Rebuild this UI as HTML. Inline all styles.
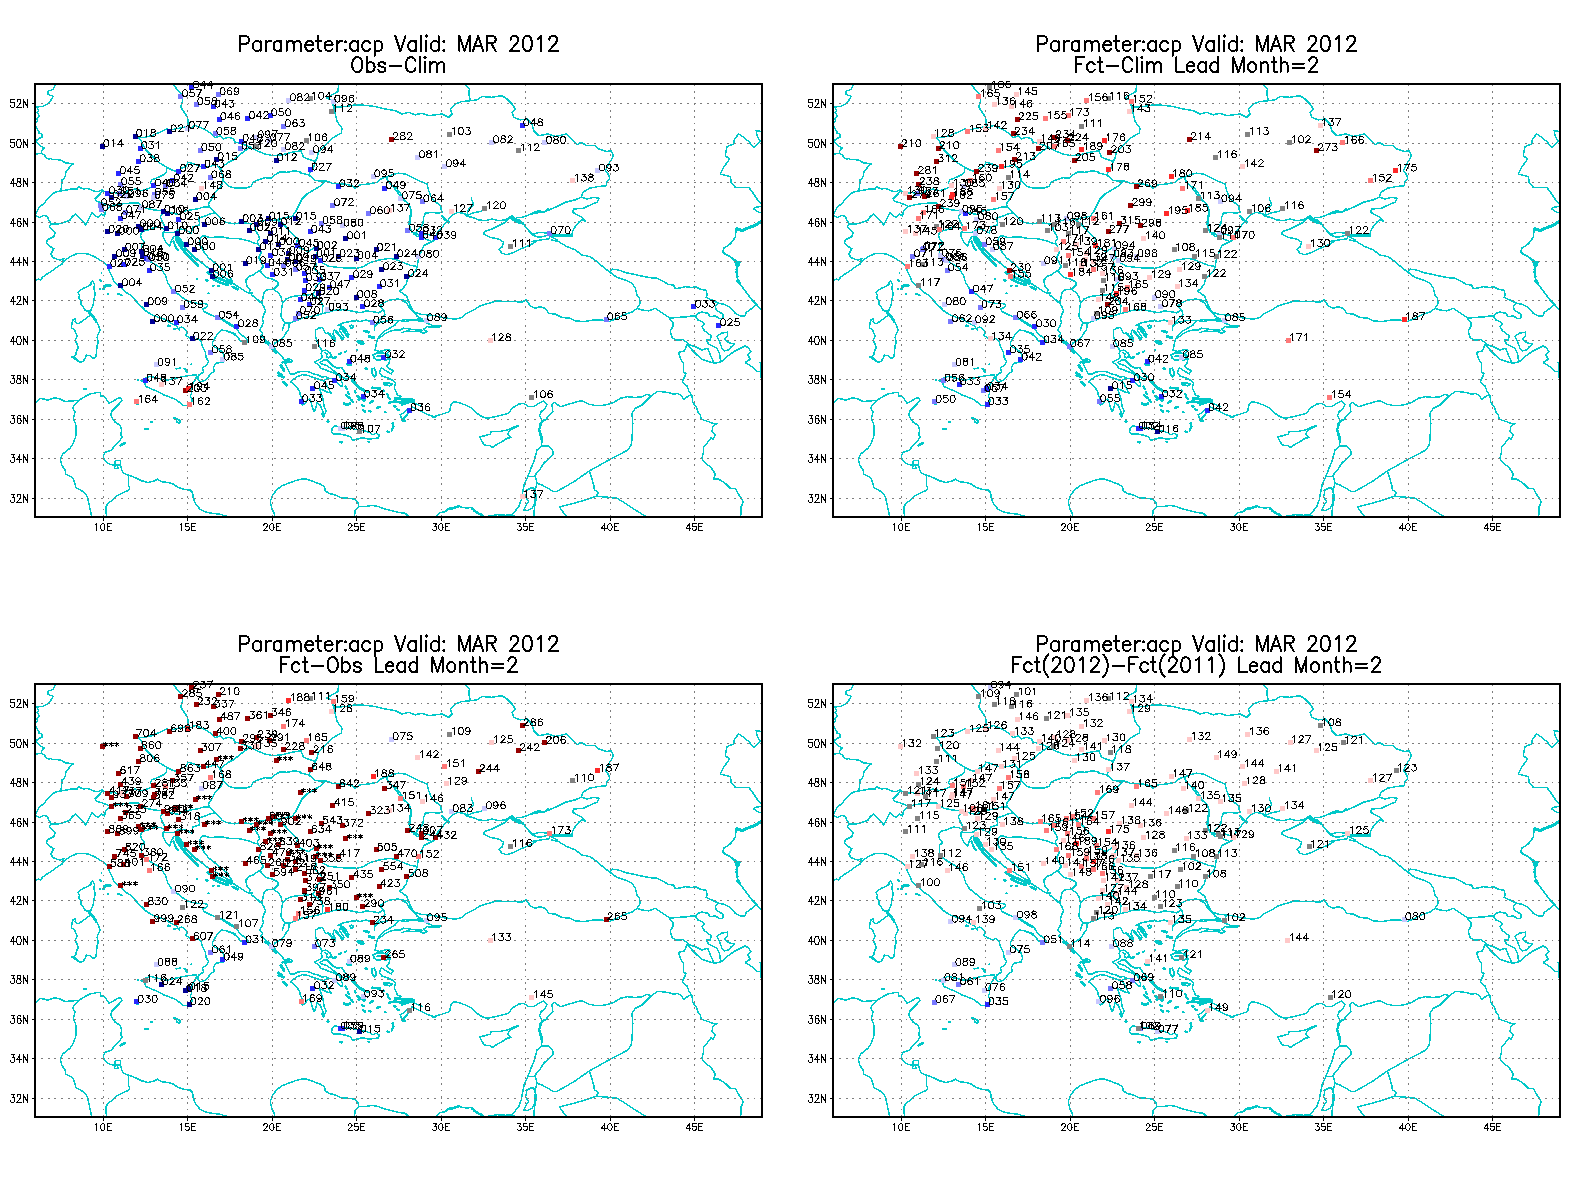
<!DOCTYPE html>
<html><head><meta charset="utf-8"><title>acp</title><style>html,body{margin:0;padding:0;background:#fff}svg{display:block}</style></head><body>
<svg width="1596" height="1200" viewBox="0 0 1596 1200">
<rect width="1596" height="1200" fill="#fff"/>
<defs><clipPath id="cp"><rect x="35" y="84" width="727" height="433"/></clipPath>
<path id="d0" d="M3.1 -7.0L2.1 -6.7L1.4 -5.7L1.0 -4.0L1.0 -3.0L1.4 -1.3L2.1 -0.3L3.1 0.0L3.8 0.0L4.9 -0.3L5.6 -1.3L5.9 -3.0L5.9 -4.0L5.6 -5.7L4.9 -6.7L3.8 -7.0L3.1 -7.0"/><path id="d1" d="M2.1 -5.7L2.8 -6.0L3.8 -7.0L3.8 0.0"/><path id="d2" d="M1.4 -5.4L1.4 -5.7L1.8 -6.4L2.1 -6.7L2.8 -7.0L4.2 -7.0L4.9 -6.7L5.2 -6.4L5.6 -5.7L5.6 -5.0L5.2 -4.4L4.5 -3.4L1.0 0.0L5.9 0.0"/><path id="d3" d="M1.8 -7.0L5.6 -7.0L3.5 -4.4L4.5 -4.4L5.2 -4.0L5.6 -3.7L5.9 -2.7L5.9 -2.0L5.6 -1.0L4.9 -0.3L3.8 0.0L2.8 0.0L1.8 -0.3L1.4 -0.7L1.0 -1.3"/><path id="d4" d="M4.5 -7.0L1.0 -2.3L6.3 -2.3M4.5 -7.0L4.5 0.0"/><path id="d5" d="M5.2 -7.0L1.8 -7.0L1.4 -4.0L1.8 -4.4L2.8 -4.7L3.8 -4.7L4.9 -4.4L5.6 -3.7L5.9 -2.7L5.9 -2.0L5.6 -1.0L4.9 -0.3L3.8 0.0L2.8 0.0L1.8 -0.3L1.4 -0.7L1.0 -1.3"/><path id="d6" d="M5.6 -6.0L5.2 -6.7L4.2 -7.0L3.5 -7.0L2.4 -6.7L1.8 -5.7L1.4 -4.0L1.4 -2.3L1.8 -1.0L2.4 -0.3L3.5 0.0L3.8 0.0L4.9 -0.3L5.6 -1.0L5.9 -2.0L5.9 -2.3L5.6 -3.4L4.9 -4.0L3.8 -4.4L3.5 -4.4L2.4 -4.0L1.8 -3.4L1.4 -2.3"/><path id="d7" d="M5.9 -7.0L2.4 0.0M1.0 -7.0L5.9 -7.0"/><path id="d8" d="M2.8 -7.0L1.8 -6.7L1.4 -6.0L1.4 -5.4L1.8 -4.7L2.4 -4.4L3.8 -4.0L4.9 -3.7L5.6 -3.0L5.9 -2.3L5.9 -1.3L5.6 -0.7L5.2 -0.3L4.2 0.0L2.8 0.0L1.8 -0.3L1.4 -0.7L1.0 -1.3L1.0 -2.3L1.4 -3.0L2.1 -3.7L3.1 -4.0L4.5 -4.4L5.2 -4.7L5.6 -5.4L5.6 -6.0L5.2 -6.7L4.2 -7.0L2.8 -7.0"/><path id="d9" d="M5.6 -4.7L5.2 -3.7L4.5 -3.0L3.5 -2.7L3.1 -2.7L2.1 -3.0L1.4 -3.7L1.0 -4.7L1.0 -5.0L1.4 -6.0L2.1 -6.7L3.1 -7.0L3.5 -7.0L4.5 -6.7L5.2 -6.0L5.6 -4.7L5.6 -3.0L5.2 -1.3L4.5 -0.3L3.5 0.0L2.8 0.0L1.8 -0.3L1.4 -1.0"/><path id="ds" d="M2.8 -4.4L2.8 -0.3M1.0 -3.4L4.5 -1.3M4.5 -3.4L1.0 -1.3"/>
<g id="map"><g clip-path="url(#cp)" fill="none" stroke="#00c8c8" stroke-linejoin="round" stroke-linecap="round" shape-rendering="crispEdges"><path stroke-width="1.5" d="M61.9 180.0L61.6 186.3L60.7 191.0M36.0 213.6L39.4 206.9L44.4 203.2L47.5 198.8L51.3 194.8L55.7 191.9L60.7 191.0L67.0 190.0L72.6 188.8L77.0 189.0L78.9 186.9L83.2 189.0L87.6 188.5L91.4 190.0L95.2 191.5L98.9 191.3L102.0 190.0L105.2 191.9L107.7 193.2M102.7 190.7L100.2 193.8L97.7 196.3L95.2 198.8L96.4 201.3L101.4 202.6L106.4 204.4L110.2 206.6M36.0 215.7L39.4 217.6L43.8 215.5L47.5 216.3L48.8 220.1L51.3 223.6M51.3 223.6L55.1 224.1L60.1 223.6L65.1 222.0L69.5 220.7L72.0 217.0L75.1 214.1L78.9 217.6L83.2 222.0L85.8 224.9L87.6 221.4L90.1 216.3L92.0 212.8L95.2 215.7L98.3 217.6L101.4 213.6L104.5 216.3L105.2 212.0L107.1 209.4L110.2 206.6M51.3 223.6L49.4 226.6L55.1 232.6L53.8 236.6L47.3 239.9L46.5 242.7L50.0 246.4L53.8 248.7L51.0 253.9L52.8 257.7L60.1 260.2L63.8 258.7L61.9 264.2M36.0 280.3L38.8 279.0L40.6 280.3L42.5 277.1L47.5 273.7L52.5 270.5L57.6 266.7L61.9 264.2L65.1 260.2L70.1 256.7L76.4 253.9L80.1 253.3L87.6 253.9L93.9 256.4L100.2 260.2L105.2 263.3L107.7 266.5L109.6 271.5L112.1 276.5L113.3 280.3L116.5 284.0L121.5 287.5L124.6 291.5L127.7 293.4L131.5 295.9L135.3 300.3L139.0 304.1L142.8 307.8L145.9 311.0L151.5 314.7L155.3 316.0L159.1 317.8L164.1 319.1L169.1 322.2L172.8 324.1L176.6 326.0L179.1 330.0M92.6 280.9L94.5 284.0L93.9 289.0L95.2 294.0L93.9 299.0L93.3 304.1L91.4 309.1L89.5 312.8L87.6 311.6L85.1 310.3L83.2 306.6L80.7 304.1L81.4 300.9L78.9 298.4L79.5 295.3L78.2 292.8L80.1 290.3L83.2 288.4L87.6 286.5L90.8 284.6L91.4 281.5L92.6 280.9M173.3 84.8L178.3 90.7L181.7 94.0L182.5 100.7L180.8 107.3L184.2 112.3L187.5 117.3L188.3 124.0L187.5 126.5M187.5 126.5L181.7 127.7L176.7 128.7L171.7 129.8L166.7 129.0L161.7 131.5L157.5 133.2L151.7 135.7L145.0 137.3L138.7 137.7L141.7 141.5L143.3 145.7L145.8 149.8L150.0 154.0L155.0 159.0L160.0 163.2L166.7 167.3L173.3 170.7L178.3 171.5M187.5 126.5L191.7 127.7L195.0 125.3L201.7 128.2L206.7 130.7L211.7 134.0L215.0 137.7L220.0 136.0L223.3 139.0L228.3 137.3L233.3 138.7L235.0 142.0L243.3 144.3L250.0 147.0L256.7 150.7L265.0 154.0L273.3 155.7L281.7 154.8L291.7 152.3L301.0 150.7M178.3 171.5L181.7 168.2L185.8 166.5L188.3 162.3L193.3 163.7L200.0 166.5L205.0 167.3L210.0 166.5L216.7 164.3L220.3 169.8L224.0 165.7L228.3 162.3L233.3 159.8L238.3 156.0L243.3 152.0L250.0 147.0M220.3 169.8L222.0 174.0L223.0 179.3L222.5 184.0L220.0 187.3L215.0 192.3L211.7 199.0L208.3 204.0L210.0 207.3M223.0 180.7L228.3 186.0L235.0 188.2L245.0 188.2L251.3 186.3L253.3 182.0L258.3 179.8L265.0 177.7L271.7 178.2L275.0 174.8L280.0 171.8L286.7 172.3L295.0 170.7L301.0 172.3M108.3 194.0L113.3 192.3L118.3 194.0L125.0 193.2L128.3 190.7L135.0 189.0L141.7 190.7L148.3 188.7L153.7 186.0L150.3 183.2L151.7 179.8L158.3 177.3L163.3 174.8L166.7 172.0L166.7 167.3M276.8 219.5L280.9 218.8L284.7 217.6L292.2 216.3L295.9 211.3L298.4 206.3L302.2 198.8L307.2 193.8L314.7 189.4L321.0 185.6L326.0 181.0M394.9 186.3L399.9 192.5L403.7 198.8L408.7 203.8L411.2 210.1L410.0 216.3L408.7 223.9L411.2 230.1L413.7 233.9L417.5 236.4L422.0 237.0M222.0 220.1L227.0 222.6L234.5 223.9L242.1 222.6L250.8 223.9L254.8 223.2L259.6 221.4L265.9 220.1L272.1 220.7L276.8 219.5M254.8 223.2L255.2 230.1L258.3 235.1L259.6 238.9L257.3 241.4L258.3 244.2M222.0 237.0L229.5 238.3L238.3 238.6L247.1 240.4L253.3 242.7L258.3 244.2L260.2 247.7L261.1 252.7L258.6 257.7L261.1 262.7L263.4 266.5L259.8 270.5L256.1 272.7L252.7 275.2L249.6 276.2L245.8 280.3L247.1 286.5L250.2 290.3L248.6 293.0M259.8 270.5L265.2 277.1L272.1 279.0L277.8 281.8L278.4 284.6L273.5 289.5L266.5 289.8L264.0 292.8L261.8 303.4M273.5 289.5L278.4 292.8L280.9 296.5L282.5 303.4L281.5 310.3L280.9 316.6L284.7 322.9L289.3 323.2M284.7 322.9L283.4 326.6L282.2 330.0M282.5 303.4L285.9 299.0L292.2 296.5L299.7 295.5L307.2 295.0L312.4 294.3L317.2 297.8L321.0 301.6L322.9 305.3L322.3 310.3L322.3 313.6M289.3 323.2L297.2 320.4L302.2 317.8L309.7 316.6L317.2 315.3L322.3 313.6L326.0 312.8L334.8 310.3L342.3 309.7L347.3 310.3L354.8 311.6L359.8 312.8L366.1 311.0L372.4 311.6L378.6 312.8L383.7 309.7L379.6 306.2L383.7 302.8L388.7 300.3L397.4 299.0L403.7 300.3L408.7 300.9M383.7 309.7L384.9 314.1L381.8 317.8L378.0 321.6L374.9 326.0L374.3 330.0M276.8 219.5L282.2 223.2L285.9 226.9L289.7 231.4L293.4 235.1L297.7 238.6L296.6 242.7L296.1 245.7L301.1 248.7L308.7 251.6L313.9 247.7L318.0 250.6L316.6 253.9L317.5 257.3L321.0 262.1L328.5 266.2L341.0 267.7L356.7 268.3L363.6 266.5L369.9 262.7L378.6 260.2L389.9 258.3L397.4 260.2L403.7 262.7L410.0 265.2L417.2 266.5M317.5 257.3L315.4 260.2L316.0 265.2L313.5 267.7L317.2 271.5L321.0 275.2L322.3 279.0L319.7 282.8L316.0 286.5L314.7 291.5L312.4 294.3M422.0 250.2L420.0 255.2L418.1 260.2L417.2 266.5L415.6 270.9L411.8 274.6L407.5 279.0L406.2 284.0L403.1 288.4L399.3 291.3L403.1 293.4L406.8 296.5L408.7 300.9L410.0 305.3L413.7 311.6L417.5 316.6L422.0 319.1M88.9 311.9L92.6 316.3L95.8 320.1L97.7 323.8L98.9 326.9L100.2 330.1L98.3 333.8L97.0 337.6L98.3 341.4L97.0 346.4L96.4 352.6L95.8 357.0L93.3 358.3L90.1 355.8L86.4 355.1L85.1 358.3L83.2 361.4L80.1 362.4L77.6 360.2L75.1 358.9L72.6 357.0L75.7 355.1L76.4 351.4L78.2 347.6L77.0 343.9L75.1 340.1L77.0 336.3L75.7 332.6L74.5 329.4L71.3 328.2L72.0 323.2L73.2 319.4L75.7 318.8L75.1 321.9L78.2 323.8L82.0 321.3L86.4 318.2L89.5 315.7L88.9 311.9M179.1 328.2L181.6 326.9L185.4 329.4L187.3 332.6L185.4 335.1L190.4 338.2L195.4 340.1L197.9 338.2L201.0 341.4L202.9 347.6L205.4 352.6L206.1 357.6L208.6 361.4L206.7 365.2L202.3 367.7L203.5 372.1L199.2 374.6L197.7 377.1L198.2 379.6L200.4 381.5L204.2 380.8L207.9 377.7L210.4 373.9L214.2 371.4L213.6 367.7L215.5 363.3L223.0 362.0L224.5 358.3L223.0 352.6L219.2 349.5L215.5 347.6L212.3 345.1L212.9 341.4L216.7 335.1L220.5 330.7L226.7 330.7L235.0 333.8M144.0 381.5L145.3 378.3L150.3 376.4L155.3 377.7L160.3 378.9L166.6 380.2L172.8 378.9L180.4 377.1L187.9 375.8L192.9 375.2L196.7 374.6L196.0 378.3L193.5 382.7L191.0 387.7L191.6 392.7L190.4 396.5L192.3 400.3L190.4 404.0L188.5 405.9L182.9 405.3L179.1 402.1L174.7 399.0L169.7 397.1L164.1 395.0L157.8 391.5L151.5 389.0L145.9 386.5L144.0 381.5M173.5 417.8L176.6 418.4L180.4 420.9L179.7 423.4L177.2 422.2L176.0 419.7L173.5 417.8M36.0 402.1L40.0 398.4L43.8 399.0L47.5 400.3L55.1 397.7L60.1 399.0L65.1 401.5L72.6 400.9L78.9 400.3L85.1 396.5L90.1 394.0L96.4 392.7L100.2 392.7L100.8 395.9L104.5 396.5L107.1 400.3L108.9 403.4L112.7 401.5L116.5 399.0L120.2 397.7L122.1 400.3L119.0 404.0L115.2 407.8L112.1 410.9L110.8 414.7L112.7 419.0L115.2 422.2L120.2 425.3L121.5 430.3L120.8 434.7L122.1 437.2L119.0 441.6L115.2 445.4L111.4 450.0M78.9 400.3L75.1 404.0L72.6 407.8L75.1 412.2L73.3 418.4L75.7 424.1L76.1 430.3L75.7 436.6L72.8 444.1L70.3 447.9L67.8 450.0M222.0 318.8L229.5 323.2L235.8 326.9L239.5 333.2L245.8 338.2L248.3 341.4L245.8 343.5L243.9 343.2L240.2 340.7L237.0 336.3L232.0 333.2L225.8 330.7L222.0 330.1M261.8 303.4L263.6 306.3L265.6 310.7L263.6 315.0L262.4 318.8L263.6 322.6L261.5 326.9L259.6 330.3L262.7 333.6L260.8 336.1L264.6 339.1L268.6 342.4L272.8 346.4M289.3 323.8L288.4 330.1L285.3 333.8L283.4 337.6L279.0 340.7L274.6 343.2L272.8 346.4M272.8 346.4L275.9 350.1L279.0 353.9L282.2 357.0L284.7 359.9L288.4 358.9L292.2 360.2L291.5 362.4L287.2 362.7L284.7 363.3L286.2 365.8L288.4 370.2L290.3 373.9L294.1 374.2L297.2 372.3L302.2 371.4L308.5 371.7L313.5 373.9L318.5 375.2L322.3 377.1L326.0 376.4L328.5 378.3M328.5 378.3L323.5 380.5L317.2 378.9L312.2 377.1L307.2 375.2L302.2 374.7L297.2 376.7L292.2 380.2L290.7 381.7L293.4 384.2L297.2 387.7L299.7 391.5L300.3 395.2L302.2 399.0L300.9 402.8L302.5 404.8L305.0 403.4L307.5 400.0L309.7 399.0L311.6 404.0L312.9 409.0L314.2 411.5L316.0 407.8L317.0 403.0L320.4 405.3L322.3 410.3L324.1 414.7L326.3 411.3L324.1 406.5L323.5 401.5L322.3 396.5L321.0 392.7L319.7 388.7L323.5 390.2L327.3 392.1L331.0 393.0L329.1 389.6L327.3 386.5L326.0 383.3L323.8 381.2M328.5 378.3L331.6 378.3L334.8 380.2L338.5 384.0L341.7 386.7L342.6 384.0L341.0 380.2L339.8 376.4L336.0 373.9L332.3 372.4L328.5 371.2L324.8 369.5L321.0 368.3L318.5 365.2L314.7 362.0M314.7 362.0L317.9 360.2L321.0 358.9L322.3 356.4L321.0 353.3L322.3 350.8L326.0 350.1L329.8 352.6L331.3 355.8L328.5 357.9L326.3 356.6L327.3 353.9L324.8 352.6M322.3 350.8L319.1 346.4L317.2 341.4L315.4 336.3L315.4 330.1L318.5 328.2L322.3 327.6L324.1 330.7L326.0 333.8L328.5 332.8L331.0 336.3L333.5 339.5L335.4 341.4L334.8 337.6L332.9 333.8L334.2 330.1L337.3 332.8L340.4 336.3L342.6 339.5L344.2 337.6L341.7 333.8L339.2 330.1L341.0 327.8L344.2 331.3L347.3 335.1L348.6 337.6L348.8 334.5L346.1 330.1L342.9 326.9L340.4 325.7L337.9 325.7L342.3 323.2L346.6 322.1L351.1 321.3L356.7 320.7L359.8 321.6L366.1 320.1L372.4 322.3L376.1 325.1M332.3 427.8L334.8 425.9L339.8 426.6L346.1 427.8L352.3 428.4L358.6 430.3L364.9 431.0L369.9 432.8L372.4 434.7L376.1 433.5L379.3 434.7L378.6 437.8L374.9 438.5L368.6 439.1L362.4 437.8L354.8 439.7L352.3 440.4L351.1 437.2L346.1 435.3L339.8 434.1L333.5 434.1L331.6 431.6L332.3 427.8M376.1 325.1L379.9 322.3L388.7 320.7L398.7 320.7L394.9 325.1L388.7 328.8L383.7 331.6L379.9 335.3L377.4 339.1L380.1 337.6L384.9 333.8L389.9 331.3L394.9 330.1M398.7 320.7L407.5 319.4L416.2 319.4L422.0 318.8M422.0 330.1L412.5 329.4L403.7 328.2L399.9 330.1L394.9 330.1M377.4 339.8L376.1 345.1L375.1 350.4L379.9 351.4L387.4 349.5L390.2 350.4L386.4 354.1L389.9 358.9L389.3 362.7L386.4 366.4L389.9 368.9L393.7 370.9L391.2 373.9L384.9 370.2L381.4 367.7L379.3 372.7L382.4 376.4L387.4 377.7L392.4 380.2L395.6 382.7L394.3 387.7L396.2 392.1L397.4 395.2L401.2 396.2L398.1 398.4L394.9 399.0L399.9 399.6L406.2 399.0L412.5 398.4L406.2 400.9L398.7 401.8L396.2 402.5L402.5 403.0L408.7 402.8L412.5 402.1L416.2 404.0L422.0 406.5M552.0 240.0L558.7 241.7L567.0 246.7L575.3 250.0L582.0 255.0L590.3 256.7L597.0 261.7L603.7 267.5L610.3 272.5L617.0 277.5L625.3 280.0L632.0 283.3L635.3 288.3L637.0 295.0L639.5 298.3L640.3 303.3L637.0 308.3L632.8 311.7L625.3 314.2L617.0 318.3L608.7 321.7L602.0 320.0L593.7 320.0L583.7 321.7L575.3 320.8L570.3 318.3L562.0 317.5L555.3 314.2L548.7 313.3L545.3 308.3L540.3 306.7L535.3 308.3L530.3 305.8L526.2 300.0L522.0 302.0L515.3 301.7L507.0 301.7L497.0 300.8L488.7 303.3L480.3 305.8L473.7 310.0L465.3 314.2L462.0 317.5L455.3 319.2L448.7 318.3L442.0 317.5L435.3 315.8L428.7 315.0L420.3 314.2L413.7 311.7L408.7 306.7L406.2 302.5L402.0 300.8M610.3 271.7L612.3 269.2L618.7 270.0L625.3 272.5L633.7 274.2L640.3 275.8L648.7 277.5L657.0 278.3L663.7 281.7L668.0 284.2M637.0 308.3L642.0 310.0L648.7 310.8L655.3 308.3L660.3 311.7L665.3 315.0L668.0 316.7M428.7 315.0L427.0 318.3L425.3 321.3L418.7 320.8L412.0 320.3L405.3 321.3L402.0 321.7M441.2 326.7L433.7 327.0L427.0 326.7L423.7 329.2L427.0 331.7L423.7 333.3L418.7 330.8L412.0 331.7L407.0 330.8L402.0 332.5M402.0 420.0L407.0 415.0L412.0 406.7L418.7 410.0L427.0 414.2L433.7 416.7L442.0 414.2L449.5 411.7L451.2 404.2L453.7 401.7L458.7 402.5L465.3 405.0L472.0 408.3L477.0 413.3L482.0 416.7L487.0 418.3L495.3 416.7L502.0 415.0L508.7 413.3L512.0 408.3L518.7 404.2L523.7 403.3L528.7 406.7L533.7 406.7L538.7 403.3L543.7 400.8L547.0 404.2L545.3 408.3L541.2 411.7L539.5 415.8L542.0 420.8L540.3 423.3L538.7 430.0L541.2 439.5M542.0 420.8L545.3 420.0L549.5 415.0L552.8 411.7L552.0 404.2L554.5 402.5L560.3 406.7L568.7 404.2L577.0 401.7L582.0 400.8L588.7 404.2L597.0 405.8L605.3 405.0L613.7 402.5L620.3 398.3L627.0 396.7L635.3 397.5L642.0 396.7L647.0 394.2L651.2 395.8L657.0 391.7L662.0 391.7L668.0 392.5M651.2 395.8L647.0 400.0L642.0 405.0L635.3 408.3L632.0 413.3L632.8 423.3L632.0 439.5M338.7 84.8L337.8 91.5L326.2 98.2L332.0 99.8L333.7 107.3L335.3 114.0L337.0 121.5L342.0 128.2L341.2 133.2L332.0 138.2L323.7 146.5L318.7 151.5L317.3 157.3L315.3 161.3M301.0 151.5L303.7 157.3L310.3 159.8L315.3 161.3L313.7 167.3L308.7 174.8M301.0 173.2L308.7 174.8L315.3 180.7L326.0 181.0L332.0 183.2L338.7 184.0L345.3 184.0L352.0 185.7L355.3 188.2L360.3 184.8L368.7 184.0L377.0 182.3L382.0 178.2L386.2 177.3M333.7 107.3L345.3 106.5L355.3 104.8L365.3 105.3L375.3 106.5L385.3 109.0L395.3 110.7L402.0 114.0L408.7 112.3L415.3 114.8L422.0 113.2L428.7 115.7L435.3 114.8L442.0 114.0L448.7 117.3L452.0 114.0L450.3 109.0L455.3 104.0L462.0 101.5L470.3 100.7M465.3 84.8L469.5 89.0L468.7 94.0L470.3 100.7L477.0 99.8L482.0 96.5L492.0 97.3L502.0 95.7L507.0 99.0L512.0 104.0L515.3 109.0L512.0 112.3L513.7 117.3L520.3 119.8L527.0 119.0L532.0 124.0L533.7 130.7L538.7 135.7L548.0 134.0M386.2 177.3L392.0 174.8L398.7 173.2L405.3 174.0L412.0 177.3L418.7 180.7L427.0 184.0L428.7 190.7L432.0 199.0L440.3 205.7L442.0 212.3L438.7 213.2L432.0 212.3L425.3 213.2L423.7 217.3L422.8 224.0L418.7 229.0L415.3 233.2M386.2 177.3L388.7 182.3L393.7 187.3L398.7 194.0L402.0 199.0L407.0 202.3L410.3 207.3L411.2 214.0L410.3 220.7L409.5 227.3L412.0 232.3L415.3 233.2L420.3 235.7L427.0 234.0L435.3 236.5M420.3 235.7L425.3 239.0L432.0 241.5M422.0 250.2L423.7 245.7L428.7 243.2L433.7 240.7L435.3 237.3L438.7 230.7L442.0 227.3L446.2 222.3L450.3 217.3L453.7 214.0L458.7 212.3L465.3 214.0L467.0 216.5L472.0 217.3L478.7 219.8L485.3 220.7L492.0 219.0L498.7 220.7L505.3 219.8L510.3 217.3M467.0 214.8L468.7 209.0L473.7 204.8L471.2 198.2M510.3 217.3L505.3 222.3L498.7 225.7L492.0 229.0L484.5 231.5L483.7 234.0L490.3 237.3L498.7 239.0L503.7 242.3L502.0 247.3L498.7 249.3L502.0 253.2L507.0 254.8L513.7 252.3L520.3 249.0L527.0 246.5L532.0 244.0L537.0 240.7L542.0 239.8L548.0 239.0M522.0 222.3L528.7 230.7L533.7 235.7L538.7 237.3L543.7 236.5L548.0 234.8M517.0 217.3L522.0 217.3L527.0 215.7L532.0 213.2L538.7 210.7L543.7 212.3L548.0 209.0M548.0 134.0L555.3 136.5L566.2 134.0L571.2 139.0L577.0 144.8L581.2 142.3L587.0 145.7L595.3 145.7L598.7 149.0L606.2 151.5L611.2 150.7L613.3 155.7L611.2 159.8L607.8 165.7L605.3 170.7L609.0 175.3L609.5 179.0L606.7 181.5L606.7 185.7L598.7 186.5L589.5 188.2L582.8 192.3L581.2 197.3M532.0 214.0L538.7 212.7L545.3 211.5L555.3 207.3L565.3 202.3L575.3 199.8L581.2 197.3L587.0 199.0L593.7 197.3L599.0 198.3L597.3 202.0L588.7 205.7L583.7 208.2L573.7 209.0L572.8 212.3L578.7 215.7L582.0 217.3L585.7 221.5L582.0 219.8L578.7 222.3L575.7 225.7L573.0 230.3L571.7 234.8M532.0 234.8L538.7 232.3L548.7 233.2L550.7 235.7L548.7 239.0L542.0 239.8L535.3 240.7L532.0 241.5M550.7 236.5L553.7 238.2L557.0 240.0M761.2 131.5L756.2 130.7L757.0 135.7L760.3 141.5L753.7 147.3L748.7 141.5L743.7 137.3L738.7 134.0L734.5 139.0L733.7 144.0L727.0 146.5L725.3 155.7L729.5 159.0L723.7 167.3L720.3 174.0L730.3 176.5L731.2 182.3L735.3 187.3L748.7 187.3L753.7 194.0L757.0 199.0L761.2 204.0M761.2 206.5L755.3 207.3L753.7 209.0L758.7 212.3L761.2 212.3M736.2 229.0L735.3 237.3L730.3 244.0L723.7 248.2L722.8 252.3L728.7 255.7L733.7 259.0L738.7 262.3L736.2 269.0L737.0 277.3L740.3 283.5M733.7 240.0L728.7 245.0L723.7 248.3L723.7 253.3L730.3 256.7L735.3 261.7L737.0 268.3L737.8 276.7L737.0 281.7L742.0 286.7L747.0 293.3L752.0 300.0L757.0 305.0L760.7 309.2M668.0 284.2L673.7 285.3L675.3 288.7L680.3 287.8L685.3 286.7L692.0 287.5L695.3 286.7L700.3 289.2L706.2 290.3L707.3 295.0L706.2 297.5L712.0 300.0L718.7 303.3L723.7 304.2L730.3 307.5L735.3 313.3L740.3 315.8L745.3 315.8L746.2 312.5L752.0 308.3L756.2 305.0M718.7 303.3L715.3 305.8L716.2 310.0L722.8 314.2L722.8 318.3L718.7 318.3L715.3 315.8L710.3 316.7L707.8 313.3L702.0 312.0L697.8 313.3L695.3 315.8M668.0 316.7L670.3 318.3L675.3 317.5L685.3 317.0L692.8 315.8L695.3 315.8L697.8 320.0L702.0 321.7L704.5 324.2L702.0 326.7L704.5 330.8L711.2 335.8L710.3 340.0L706.2 340.0L708.7 344.2L717.0 348.3L719.5 353.3L720.7 361.7M669.5 318.3L672.8 322.5L672.8 326.7L670.3 330.8L672.0 337.5L676.2 340.0L682.8 339.7L687.0 342.5L690.3 345.3L695.3 346.7L702.0 350.0L707.8 348.3L710.3 355.0L713.7 362.5M687.0 344.2L692.0 350.0L697.0 355.0L702.0 359.2L708.7 361.7L715.3 363.3L721.2 361.7L727.0 356.7L733.7 351.7L740.3 348.3L745.3 345.8L748.7 348.3L751.2 351.7L747.8 355.0L750.3 359.2L745.3 362.5L752.0 366.7L757.0 371.7L760.7 371.7M717.0 336.3L721.2 333.3L727.3 332.2L727.8 335.8L724.5 339.2L728.7 342.5L734.5 344.2L731.2 346.7L728.7 350.0L724.5 350.8L722.0 348.3L719.5 341.7L717.0 336.3M687.0 344.2L684.5 350.8L678.7 352.5L680.3 358.3L683.3 363.3L683.7 372.5L686.2 373.3L682.3 381.7L687.3 386.3L689.0 391.7L692.0 395.3L692.8 402.5L696.2 406.7L697.8 411.7L700.3 415.0L701.2 419.2L708.7 421.7L712.8 423.3L717.0 423.3L712.8 426.7L712.0 431.7L715.3 435.0L712.8 439.5M668.0 392.5L673.7 394.2L677.8 393.3L681.2 395.8L683.7 399.2L688.7 395.8L692.0 395.3M67.8 450.0L62.5 454.2L60.3 458.7L61.7 465.0L65.0 470.0L65.8 474.2L72.5 477.5L75.0 483.3L75.8 487.5L83.3 491.7L87.5 496.7L89.2 505.0L91.7 516.7M111.3 450.0L105.0 452.5L103.3 455.8L104.2 460.0L107.5 463.3L112.5 465.0L115.8 465.0L120.8 465.8L121.7 470.0L123.3 473.3L128.3 475.0L135.0 477.5L141.7 480.8L148.3 482.5L153.3 481.3L157.5 479.2L161.7 481.7L168.3 482.5L173.3 484.2L178.3 487.5L183.3 489.2L190.0 490.0L192.5 492.5L193.3 498.3L195.8 504.2L200.0 509.2L205.0 511.7L211.7 513.3L220.0 514.2L226.7 516.3M115.3 460.8L120.3 460.5L120.8 464.2L117.5 465.0L118.0 468.3L114.7 468.3L115.3 460.8M128.3 475.0L128.7 480.0L128.3 485.0L129.7 488.3L127.5 490.8L121.7 493.3L116.7 495.8L112.5 500.0L108.3 503.3L105.8 506.7L105.8 511.7L106.7 516.7M301.0 479.2L295.0 480.8L288.3 483.3L281.7 485.8L276.7 490.0L272.5 495.0L270.3 501.7L271.7 508.3L274.2 513.3L275.0 516.7M301.0 479.2L307.0 479.2L313.7 481.7L320.3 484.2L324.5 486.7L325.3 490.8L328.7 493.3L335.3 495.0L340.3 497.5L348.7 498.3L355.3 499.2L357.8 502.5L359.0 506.7L365.3 506.7L372.0 505.3L378.7 506.7L385.3 509.2L392.0 510.8L398.7 512.5L405.3 513.3L408.7 516.7M359.0 506.7L355.3 510.0L354.5 516.7M436.2 516.7L440.3 512.5L445.3 511.7L448.7 508.3L453.7 507.5L458.7 505.8L462.0 507.5L467.0 508.0L472.0 507.5L473.7 510.8L477.0 513.3L482.0 515.0L484.5 516.7M488.7 516.2L497.0 514.7L505.3 515.3L512.0 515.0L515.3 510.8L518.7 506.7L521.2 500.0L522.8 491.7L524.5 483.3L527.8 476.7L530.3 470.0L533.7 461.7L536.2 453.3L537.0 450.0L540.3 447.5L541.7 445.0L542.0 436.7L539.5 429.2L541.2 424.2L543.7 420.0M512.0 515.0L515.3 516.7M541.7 445.8L548.0 445.8M527.8 476.7L535.3 476.2L536.2 473.3L539.5 470.0L543.7 463.3L548.0 459.2M535.3 476.2L537.0 483.3L535.3 490.0L536.2 498.3L534.5 506.7L533.7 516.7M537.0 483.3L542.0 485.0L548.0 488.3M532.0 487.5L527.0 490.0L525.7 496.7L528.7 501.7L526.2 505.0L523.7 510.0L527.0 510.8L532.0 508.3L534.5 503.3L535.3 493.3L533.7 488.3L532.0 487.5M479.5 436.7L482.0 441.7L484.5 445.0L490.3 445.8L492.8 447.5L497.0 444.2L502.0 441.7L507.0 438.3L511.2 437.5L507.8 434.2L509.5 430.8L515.3 427.5L518.7 425.8L514.5 426.7L507.0 430.0L498.7 431.7L491.2 431.7L490.3 434.2L484.5 435.8L479.5 436.7M548.0 445.8L550.3 447.5L552.8 450.8L552.8 455.0L548.7 459.2L548.0 459.5M548.0 488.3L552.8 491.3L557.0 491.3L565.3 486.7L575.3 480.8L589.5 470.8L598.7 465.8L610.3 459.2L618.7 455.0L627.8 450.0L631.2 445.0L632.0 439.5M589.5 470.8L591.2 476.7L593.7 485.0L594.5 490.0L598.7 492.5L596.2 496.3L585.3 500.0L573.7 503.3L559.5 507.0L562.0 510.8L567.0 516.7M596.2 496.3L605.3 497.0L617.0 498.3L625.3 503.3L635.3 510.0L646.2 516.7M712.8 439.5L711.2 437.5L707.0 443.3L703.7 446.7L703.7 450.8L702.0 458.7L705.3 463.3L710.3 466.7L712.8 470.0L715.3 474.2L713.7 479.2L718.7 479.2L725.3 483.3L730.3 488.3L735.3 488.3L737.8 493.3L741.2 498.3L743.3 501.7L741.2 506.7L740.7 516.7M165.3 229.5L160.3 227.4L155.3 227.2L147.8 230.1L142.8 231.4L140.3 235.1L141.5 238.9L144.6 242.7L141.5 245.2L141.3 251.4L141.5 253.9L145.3 258.3L150.3 261.5L155.3 264.6L160.3 267.7L165.3 275.2L167.8 282.8L171.6 289.0L176.6 292.8L181.6 297.2L189.1 301.6L197.9 303.4L204.2 303.4L207.7 304.7L206.7 307.2L202.9 309.1L204.2 311.6L210.4 314.7L216.7 317.2L223.0 320.4L230.5 325.4L235.0 327.9M165.3 229.5L162.8 232.6L162.8 236.4L165.3 241.4L167.8 244.5L169.7 245.8L171.6 240.2L174.1 236.4L176.6 235.8L180.4 238.9L182.9 242.7L185.4 247.7L190.4 252.7L195.4 257.7L201.7 262.7L207.9 267.7L211.7 270.2L216.7 272.7L222.0 275.9M110.2 206.6L115.2 205.1L122.7 203.8L130.2 203.2L139.0 203.2L142.8 206.9L147.8 208.8L155.3 210.1L161.6 210.7L165.3 211.3L162.2 213.8L160.3 217.0L162.2 221.4L164.1 225.1L165.3 229.5M165.3 211.3L172.8 213.2L179.1 214.5L182.9 211.3L190.4 210.1L197.9 208.8L204.2 206.9L209.9 207.3L212.9 210.7L214.9 212.7L220.0 217.1L222.0 220.1M164.2 232.4L169.1 232.6L174.3 232.4L177.9 230.1L181.1 228.9L185.4 230.1L191.3 232.8L192.3 229.5L192.9 226.9L196.7 225.7L199.7 224.9L199.2 221.4L198.9 218.0L204.2 216.3L209.8 214.1L214.9 212.7M222.0 237.0L216.7 237.0L210.4 237.6L204.2 235.8L201.7 236.4L199.8 240.2L200.2 245.5L203.5 251.4L208.2 257.4L212.9 261.5L216.7 264.3L222.0 269.0M222.0 269.0L227.0 272.7L231.8 280.3L231.8 282.3M222.0 275.9L225.8 278.4L228.9 279.9L231.8 282.3L235.8 285.3L240.2 287.8L244.6 290.9L248.6 293.0L252.1 292.8L251.4 294.7L254.6 297.2L257.7 299.7L260.2 302.2L261.8 303.4M55.1 85.1L53.3 89.4L47.6 91.3L48.2 94.5L53.3 96.3L50.1 101.4L47.6 103.9L42.6 106.4L36.3 107.0L38.8 110.1L37.0 112.6L39.5 115.8L37.0 118.9L37.6 121.4L36.3 122.0M36.3 126.4L37.6 130.0L39.1 131.5L39.1 133.4L41.7 133.8L42.5 136.8L39.5 138.3L37.2 139.8L36.1 140.9L37.2 142.8L39.8 145.0L41.4 146.5L44.4 147.7L42.5 149.5L41.4 152.2L41.4 153.3L36.0 154.0M41.4 153.3L44.4 154.8L45.5 157.0L48.5 159.3L50.4 158.6L53.4 159.7L56.4 159.6L61.4 160.3L65.2 162.8L70.2 163.4L73.3 163.8L70.2 166.5L68.3 169.0L65.8 172.2L65.2 176.5L62.7 180.3L61.4 185.3L61.2 190.3L61.0 191.0"/><path stroke-width="2.5" d="M88.3 311.3L90.8 314.0L93.3 316.9L96.2 320.7M72.6 357.0L75.1 358.6L77.4 360.2M168.5 325.7L170.3 326.1M184.7 368.9L186.0 370.2L186.9 372.1M145.3 428.9L147.8 428.9M84.4 389.0L85.6 389.0M120.5 445.4L122.7 444.1L125.2 442.9M278.4 372.7L280.3 374.6L282.2 376.4L280.9 373.9M283.4 382.1L285.3 384.0L286.5 385.2M329.8 334.5L334.2 340.1M336.0 331.3L342.1 338.6M342.3 329.4L347.9 336.6M357.6 341.6L359.8 343.2L363.4 343.6L362.4 341.6L359.2 341.1M330.8 357.0L332.3 357.4M334.3 357.6L336.3 357.1M339.2 354.1L341.0 353.3M347.3 364.2L349.2 365.2L351.1 364.7M365.7 368.5L366.9 368.8M372.4 387.7L376.1 388.2L380.1 388.5M366.1 391.2L368.0 392.1M345.4 386.5L346.7 389.0M347.9 392.1L348.8 394.2M348.6 397.1L350.1 398.4M351.7 400.3L353.0 402.1M354.8 390.9L355.6 392.5M362.4 405.3L363.9 406.3M363.4 410.3L364.9 411.5M369.9 402.8L373.0 400.9M376.8 407.8L380.1 406.8M389.3 402.5L392.7 401.8L395.6 400.9M388.7 397.7L389.9 399.2M387.2 394.2L388.2 395.7M394.3 406.3L395.3 406.8M397.4 409.3L398.9 410.3M322.3 414.0L323.8 415.0L323.3 416.5M327.5 421.3L328.5 421.8M340.4 442.0L341.7 442.4M392.7 423.4L393.4 426.6L391.8 430.3M387.4 431.6L388.9 432.1M432.8 416.7L435.3 417.0M442.0 215.7L444.5 219.0L448.7 222.3M472.0 508.3L475.3 511.3L478.7 513.7L482.0 515.0M403.7 420.8L405.0 421.2M212.9 279.0L219.2 282.1L222.0 283.0M206.2 280.3L207.4 280.6M212.7 285.9L213.4 286.0M218.2 285.9L219.0 286.0M99.9 280.3L100.7 280.5M118.1 293.8L118.7 293.9M88.9 311.6L91.4 314.7L93.9 317.8L96.4 322.2M222.0 283.0L227.6 285.0M232.7 286.8L237.7 289.3"/><path stroke-width="2" d="M173.5 329.1L176.0 328.6M137.5 379.9L138.3 380.2M141.3 380.7L142.0 381.0M176.4 368.5L177.1 368.5M179.4 368.3L180.4 368.4M136.8 404.0L137.8 403.8M151.4 421.6L151.9 421.8M282.2 362.7L284.7 361.4L288.4 361.2L291.5 362.0M356.6 349.7L357.3 350.0M344.8 352.1L346.3 351.4M377.4 356.4L381.1 355.8M346.1 395.2L347.1 396.2M369.2 410.9L370.5 411.5M384.9 411.8L385.9 412.3M383.7 390.2L384.4 391.5M512.0 215.7L515.3 219.0L520.3 220.7M737.8 261.5L739.5 264.0L737.3 267.3M735.3 262.5L740.3 261.7L737.3 266.7L736.3 272.5M151.0 422.0L151.7 422.2M450.3 509.2L458.7 506.7M327.3 421.7L328.3 422.0M368.3 441.7L369.3 441.8M179.1 238.9L182.9 245.2L187.3 250.2L191.6 255.2L196.7 260.2M173.5 241.4L176.0 247.7L177.9 250.2M196.7 279.0L197.4 279.2M208.3 293.4L208.8 293.5M107.4 294.0L108.2 294.2M121.2 295.3L121.7 295.4M99.9 289.0L100.4 289.3M103.3 289.0L103.8 289.1"/><path stroke-width="1.5" d="M190.4 364.5L191.6 363.7M349.8 325.7L351.7 324.8L353.3 326.3L352.6 328.3L350.6 328.1L349.8 325.7M411.2 408.8L407.7 414.0L404.0 419.0L402.5 421.1L401.2 417.8L400.2 414.7L403.7 412.8L407.5 409.3L411.2 408.8M425.3 321.3L427.0 323.3L432.0 325.3L441.2 326.0M467.0 215.7L473.7 212.7L480.3 211.5L485.3 209.0M759.5 362.5L760.7 362.5L760.3 371.7L760.7 377.5M101.4 272.7L101.7 273.4"/><path stroke-width="3" d="M265.9 342.0L269.0 344.5L271.5 347.6L274.0 350.8L275.9 352.6M280.9 365.8L282.8 368.3L284.0 370.8M279.0 375.2L283.4 377.1M364.9 331.0L368.6 332.1M369.4 336.6L373.6 337.6M352.3 380.2L355.5 383.7L358.6 387.1L361.7 389.2L364.2 390.5M344.2 403.8L347.3 404.6L349.8 403.8M358.0 396.5L359.8 398.4L358.8 399.6M363.0 395.2L364.9 397.7L364.2 400.3L362.4 398.4M395.6 398.4L413.7 400.3M402.0 404.2L407.0 402.5L412.0 400.3M510.3 217.3L513.7 219.8L518.7 222.3L522.8 223.2M550.3 235.3L572.0 235.3M761.2 221.5L755.3 225.3L748.7 227.7L742.0 230.7L737.0 228.7M176.0 238.9L179.1 243.9L182.2 248.3L185.4 252.7L189.1 256.4L193.5 260.8L197.9 265.2M207.9 272.7L214.2 276.5L222.0 279.6M104.5 286.3L107.1 285.5L110.2 285.3M222.0 279.6L227.0 281.8L231.4 283.4"/><path stroke-width="1.6" d="M320.1 362.4L323.5 360.2L326.6 359.5L329.8 362.7L333.5 366.4L337.3 368.3L341.7 367.4L344.2 371.4L347.3 375.2L349.8 376.7L347.1 379.7L343.6 377.7L339.8 375.2L336.0 372.7L333.3 370.4L329.8 367.7L326.0 365.2L322.3 364.2L320.1 362.4"/><path stroke-width="1.8" d="M373.0 355.1L376.1 353.3L381.1 352.6L386.2 353.9L389.7 355.8L388.7 358.9L384.9 360.4L382.4 358.3L380.1 359.9L377.4 360.2L374.3 358.3L373.0 355.1M371.7 368.7L374.3 368.3L375.9 371.4L376.4 375.2L374.3 376.7L372.4 373.9L371.7 368.7M383.7 383.3L387.4 382.7L392.4 384.2L389.9 385.7L384.9 385.0L383.7 383.3"/></g><path d="M103.5 84.8V517M187.5 84.8V517M272.5 84.8V517M356.5 84.8V517M441.5 84.8V517M525.5 84.8V517M610.5 84.8V517M694.5 84.8V517" fill="none" stroke="#7d7d7d" stroke-width="1" stroke-dasharray="1.6 4.725" shape-rendering="crispEdges"/><path d="M34.4 498.5H762M34.4 458.5H762M34.4 419.5H762M34.4 379.5H762M34.4 340.5H762M34.4 300.5H762M34.4 261.5H762M34.4 222.5H762M34.4 182.5H762M34.4 143.5H762M34.4 103.5H762" fill="none" stroke="#7d7d7d" stroke-width="1" stroke-dasharray="1.8 4.86" shape-rendering="crispEdges"/></g>
<g id="frame"><path d="M103.5 517V521M187.5 517V521M272.5 517V521M356.5 517V521M441.5 517V521M525.5 517V521M610.5 517V521M694.5 517V521M32 498.5H35M32 458.5H35M32 419.5H35M32 379.5H35M32 340.5H35M32 300.5H35M32 261.5H35M32 222.5H35M32 182.5H35M32 143.5H35M32 103.5H35" fill="none" stroke="#000" stroke-width="1" shape-rendering="crispEdges"/><rect x="35" y="84" width="727" height="433" fill="none" stroke="#000" stroke-width="2" shape-rendering="crispEdges"/><path d="M95.4 525.0L96.0 524.7L96.9 523.8L96.9 530.3M102.4 523.8L101.5 524.1L100.9 525.0L100.6 526.6L100.6 527.5L100.9 529.1L101.5 530.0L102.4 530.3L103.1 530.3L104.0 530.0L104.6 529.1L104.9 527.5L104.9 526.6L104.6 525.0L104.0 524.1L103.1 523.8L102.4 523.8M107.1 523.8L107.1 530.3M107.1 523.8L111.1 523.8M107.1 526.9L109.5 526.9M107.1 530.3L111.1 530.3M179.9 525.0L180.5 524.7L181.4 523.8L181.4 530.3M188.8 523.8L185.7 523.8L185.4 526.6L185.7 526.3L186.7 526.0L187.6 526.0L188.5 526.3L189.1 526.9L189.4 527.8L189.4 528.4L189.1 529.4L188.5 530.0L187.6 530.3L186.7 530.3L185.7 530.0L185.4 529.7L185.1 529.1M191.6 523.8L191.6 530.3M191.6 523.8L195.6 523.8M191.6 526.9L194.1 526.9M191.6 530.3L195.6 530.3M263.8 525.3L263.8 525.0L264.1 524.4L264.4 524.1L265.0 523.8L266.3 523.8L266.9 524.1L267.2 524.4L267.5 525.0L267.5 525.6L267.2 526.3L266.6 527.2L263.5 530.3L267.8 530.3M271.5 523.8L270.6 524.1L270.0 525.0L269.6 526.6L269.6 527.5L270.0 529.1L270.6 530.0L271.5 530.3L272.1 530.3L273.0 530.0L273.7 529.1L274.0 527.5L274.0 526.6L273.7 525.0L273.0 524.1L272.1 523.8L271.5 523.8M276.1 523.8L276.1 530.3M276.1 523.8L280.1 523.8M276.1 526.9L278.6 526.9M276.1 530.3L280.1 530.3M348.3 525.3L348.3 525.0L348.6 524.4L348.9 524.1L349.6 523.8L350.8 523.8L351.4 524.1L351.7 524.4L352.0 525.0L352.0 525.6L351.7 526.3L351.1 527.2L348.0 530.3L352.3 530.3M357.9 523.8L354.8 523.8L354.5 526.6L354.8 526.3L355.7 526.0L356.6 526.0L357.6 526.3L358.2 526.9L358.5 527.8L358.5 528.4L358.2 529.4L357.6 530.0L356.6 530.3L355.7 530.3L354.8 530.0L354.5 529.7L354.2 529.1M360.6 523.8L360.6 530.3M360.6 523.8L364.6 523.8M360.6 526.9L363.1 526.9M360.6 530.3L364.6 530.3M433.2 523.8L436.5 523.8L434.7 526.3L435.6 526.3L436.2 526.6L436.5 526.9L436.9 527.8L436.9 528.4L436.5 529.4L435.9 530.0L435.0 530.3L434.1 530.3L433.2 530.0L432.8 529.7L432.5 529.1M440.5 523.8L439.6 524.1L439.0 525.0L438.7 526.6L438.7 527.5L439.0 529.1L439.6 530.0L440.5 530.3L441.2 530.3L442.1 530.0L442.7 529.1L443.0 527.5L443.0 526.6L442.7 525.0L442.1 524.1L441.2 523.8L440.5 523.8M445.2 523.8L445.2 530.3M445.2 523.8L449.2 523.8M445.2 526.9L447.6 526.9M445.2 530.3L449.2 530.3M517.7 523.8L521.1 523.8L519.2 526.3L520.1 526.3L520.8 526.6L521.1 526.9L521.4 527.8L521.4 528.4L521.1 529.4L520.5 530.0L519.5 530.3L518.6 530.3L517.7 530.0L517.4 529.7L517.1 529.1M526.9 523.8L523.8 523.8L523.5 526.6L523.8 526.3L524.8 526.0L525.7 526.0L526.6 526.3L527.2 526.9L527.5 527.8L527.5 528.4L527.2 529.4L526.6 530.0L525.7 530.3L524.8 530.3L523.8 530.0L523.5 529.7L523.2 529.1M529.7 523.8L529.7 530.3M529.7 523.8L533.7 523.8M529.7 526.9L532.2 526.9M529.7 530.3L533.7 530.3M604.7 523.8L601.6 528.1L606.2 528.1M604.7 523.8L604.7 530.3M609.6 523.8L608.7 524.1L608.1 525.0L607.7 526.6L607.7 527.5L608.1 529.1L608.7 530.0L609.6 530.3L610.2 530.3L611.1 530.0L611.8 529.1L612.1 527.5L612.1 526.6L611.8 525.0L611.1 524.1L610.2 523.8L609.6 523.8M614.2 523.8L614.2 530.3M614.2 523.8L618.2 523.8M614.2 526.9L616.7 526.9M614.2 530.3L618.2 530.3M689.2 523.8L686.1 528.1L690.7 528.1M689.2 523.8L689.2 530.3M696.0 523.8L692.9 523.8L692.6 526.6L692.9 526.3L693.8 526.0L694.7 526.0L695.7 526.3L696.3 526.9L696.6 527.8L696.6 528.4L696.3 529.4L695.7 530.0L694.7 530.3L693.8 530.3L692.9 530.0L692.6 529.7L692.3 529.1M698.7 523.8L698.7 530.3M698.7 523.8L702.7 523.8M698.7 526.9L701.2 526.9M698.7 530.3L702.7 530.3M11.0 494.4L14.5 494.4L12.6 497.5L13.6 497.5L14.2 497.9L14.5 498.3L14.8 499.5L14.8 500.3L14.5 501.4L13.9 502.2L12.9 502.6L12.0 502.6L11.0 502.2L10.7 501.8L10.4 501.0M17.0 496.4L17.0 496.0L17.3 495.2L17.7 494.8L18.3 494.4L19.6 494.4L20.2 494.8L20.5 495.2L20.8 496.0L20.8 496.8L20.5 497.5L19.9 498.7L16.7 502.6L21.1 502.6M23.3 494.4L23.3 502.6M23.3 494.4L27.7 502.6M27.7 494.4L27.7 502.6M11.0 454.4L14.5 454.4L12.6 457.5L13.6 457.5L14.2 457.9L14.5 458.3L14.8 459.5L14.8 460.3L14.5 461.4L13.9 462.2L12.9 462.6L12.0 462.6L11.0 462.2L10.7 461.8L10.4 461.0M19.9 454.4L16.7 459.9L21.4 459.9M19.9 454.4L19.9 462.6M23.3 454.4L23.3 462.6M23.3 454.4L27.7 462.6M27.7 454.4L27.7 462.6M11.0 415.4L14.5 415.4L12.6 418.5L13.6 418.5L14.2 418.9L14.5 419.3L14.8 420.5L14.8 421.3L14.5 422.4L13.9 423.2L12.9 423.6L12.0 423.6L11.0 423.2L10.7 422.8L10.4 422.0M20.8 416.6L20.5 415.8L19.6 415.4L18.9 415.4L18.0 415.8L17.3 417.0L17.0 418.9L17.0 420.9L17.3 422.4L18.0 423.2L18.9 423.6L19.2 423.6L20.2 423.2L20.8 422.4L21.1 421.3L21.1 420.9L20.8 419.7L20.2 418.9L19.2 418.5L18.9 418.5L18.0 418.9L17.3 419.7L17.0 420.9M23.3 415.4L23.3 423.6M23.3 415.4L27.7 423.6M27.7 415.4L27.7 423.6M11.0 375.4L14.5 375.4L12.6 378.5L13.6 378.5L14.2 378.9L14.5 379.3L14.8 380.5L14.8 381.3L14.5 382.4L13.9 383.2L12.9 383.6L12.0 383.6L11.0 383.2L10.7 382.8L10.4 382.0M18.3 375.4L17.3 375.8L17.0 376.6L17.0 377.4L17.3 378.1L18.0 378.5L19.2 378.9L20.2 379.3L20.8 380.1L21.1 380.9L21.1 382.0L20.8 382.8L20.5 383.2L19.6 383.6L18.3 383.6L17.3 383.2L17.0 382.8L16.7 382.0L16.7 380.9L17.0 380.1L17.7 379.3L18.6 378.9L19.9 378.5L20.5 378.1L20.8 377.4L20.8 376.6L20.5 375.8L19.6 375.4L18.3 375.4M23.3 375.4L23.3 383.6M23.3 375.4L27.7 383.6M27.7 375.4L27.7 383.6M13.6 336.4L10.4 341.9L15.1 341.9M13.6 336.4L13.6 344.6M18.6 336.4L17.7 336.8L17.0 338.0L16.7 339.9L16.7 341.1L17.0 343.0L17.7 344.2L18.6 344.6L19.2 344.6L20.2 344.2L20.8 343.0L21.1 341.1L21.1 339.9L20.8 338.0L20.2 336.8L19.2 336.4L18.6 336.4M23.3 336.4L23.3 344.6M23.3 336.4L27.7 344.6M27.7 336.4L27.7 344.6M13.6 296.4L10.4 301.9L15.1 301.9M13.6 296.4L13.6 304.6M17.0 298.4L17.0 298.0L17.3 297.2L17.7 296.8L18.3 296.4L19.6 296.4L20.2 296.8L20.5 297.2L20.8 298.0L20.8 298.8L20.5 299.5L19.9 300.7L16.7 304.6L21.1 304.6M23.3 296.4L23.3 304.6M23.3 296.4L27.7 304.6M27.7 296.4L27.7 304.6M13.6 257.4L10.4 262.9L15.1 262.9M13.6 257.4L13.6 265.6M19.9 257.4L16.7 262.9L21.4 262.9M19.9 257.4L19.9 265.6M23.3 257.4L23.3 265.6M23.3 257.4L27.7 265.6M27.7 257.4L27.7 265.6M13.6 218.4L10.4 223.9L15.1 223.9M13.6 218.4L13.6 226.6M20.8 219.6L20.5 218.8L19.6 218.4L18.9 218.4L18.0 218.8L17.3 220.0L17.0 221.9L17.0 223.9L17.3 225.4L18.0 226.2L18.9 226.6L19.2 226.6L20.2 226.2L20.8 225.4L21.1 224.3L21.1 223.9L20.8 222.7L20.2 221.9L19.2 221.5L18.9 221.5L18.0 221.9L17.3 222.7L17.0 223.9M23.3 218.4L23.3 226.6M23.3 218.4L27.7 226.6M27.7 218.4L27.7 226.6M13.6 178.4L10.4 183.9L15.1 183.9M13.6 178.4L13.6 186.6M18.3 178.4L17.3 178.8L17.0 179.6L17.0 180.4L17.3 181.1L18.0 181.5L19.2 181.9L20.2 182.3L20.8 183.1L21.1 183.9L21.1 185.0L20.8 185.8L20.5 186.2L19.6 186.6L18.3 186.6L17.3 186.2L17.0 185.8L16.7 185.0L16.7 183.9L17.0 183.1L17.7 182.3L18.6 181.9L19.9 181.5L20.5 181.1L20.8 180.4L20.8 179.6L20.5 178.8L19.6 178.4L18.3 178.4M23.3 178.4L23.3 186.6M23.3 178.4L27.7 186.6M27.7 178.4L27.7 186.6M14.2 139.4L11.0 139.4L10.7 142.9L11.0 142.5L12.0 142.1L12.9 142.1L13.9 142.5L14.5 143.3L14.8 144.5L14.8 145.3L14.5 146.4L13.9 147.2L12.9 147.6L12.0 147.6L11.0 147.2L10.7 146.8L10.4 146.0M18.6 139.4L17.7 139.8L17.0 141.0L16.7 142.9L16.7 144.1L17.0 146.0L17.7 147.2L18.6 147.6L19.2 147.6L20.2 147.2L20.8 146.0L21.1 144.1L21.1 142.9L20.8 141.0L20.2 139.8L19.2 139.4L18.6 139.4M23.3 139.4L23.3 147.6M23.3 139.4L27.7 147.6M27.7 139.4L27.7 147.6M14.2 99.4L11.0 99.4L10.7 102.9L11.0 102.5L12.0 102.1L12.9 102.1L13.9 102.5L14.5 103.3L14.8 104.5L14.8 105.3L14.5 106.4L13.9 107.2L12.9 107.6L12.0 107.6L11.0 107.2L10.7 106.8L10.4 106.0M17.0 101.4L17.0 101.0L17.3 100.2L17.7 99.8L18.3 99.4L19.6 99.4L20.2 99.8L20.5 100.2L20.8 101.0L20.8 101.8L20.5 102.5L19.9 103.7L16.7 107.6L21.1 107.6M23.3 99.4L23.3 107.6M23.3 99.4L27.7 107.6M27.7 99.4L27.7 107.6" fill="none" stroke="#000" stroke-width="1" stroke-linecap="square" stroke-linejoin="round" shape-rendering="crispEdges"/><path d="M239.9 36.0L239.9 51.0M239.9 36.0L245.7 36.0L247.6 36.7L248.3 37.4L248.9 38.9L248.9 41.0L248.3 42.4L247.6 43.1L245.7 43.9L239.9 43.9M260.6 41.0L260.6 51.0M260.6 43.1L259.3 41.7L258.0 41.0L256.1 41.0L254.8 41.7L253.5 43.1L252.8 45.3L252.8 46.7L253.5 48.9L254.8 50.3L256.1 51.0L258.0 51.0L259.3 50.3L260.6 48.9M265.8 41.0L265.8 51.0M265.8 45.3L266.4 43.1L267.7 41.7L269.0 41.0L270.9 41.0M281.3 41.0L281.3 51.0M281.3 43.1L280.0 41.7L278.7 41.0L276.8 41.0L275.5 41.7L274.2 43.1L273.5 45.3L273.5 46.7L274.2 48.9L275.5 50.3L276.8 51.0L278.7 51.0L280.0 50.3L281.3 48.9M286.5 41.0L286.5 51.0M286.5 43.9L288.4 41.7L289.7 41.0L291.7 41.0L293.0 41.7L293.6 43.9L293.6 51.0M293.6 43.9L295.5 41.7L296.8 41.0L298.8 41.0L300.1 41.7L300.7 43.9L300.7 51.0M305.3 45.3L313.0 45.3L313.0 43.9L312.4 42.4L311.7 41.7L310.4 41.0L308.5 41.0L307.2 41.7L305.9 43.1L305.3 45.3L305.3 46.7L305.9 48.9L307.2 50.3L308.5 51.0L310.4 51.0L311.7 50.3L313.0 48.9M318.2 36.0L318.2 48.1L318.9 50.3L320.2 51.0L321.4 51.0M316.3 41.0L320.8 41.0M324.7 45.3L332.5 45.3L332.5 43.9L331.8 42.4L331.2 41.7L329.9 41.0L327.9 41.0L326.6 41.7L325.3 43.1L324.7 45.3L324.7 46.7L325.3 48.9L326.6 50.3L327.9 51.0L329.9 51.0L331.2 50.3L332.5 48.9M337.0 41.0L337.0 51.0M337.0 45.3L337.6 43.1L338.9 41.7L340.2 41.0L342.2 41.0M345.4 41.0L344.8 41.7L345.4 42.4L346.1 41.7L345.4 41.0M345.4 49.6L344.8 50.3L345.4 51.0L346.1 50.3L345.4 49.6M357.7 41.0L357.7 51.0M357.7 43.1L356.4 41.7L355.1 41.0L353.2 41.0L351.9 41.7L350.6 43.1L349.9 45.3L349.9 46.7L350.6 48.9L351.9 50.3L353.2 51.0L355.1 51.0L356.4 50.3L357.7 48.9M370.0 43.1L368.7 41.7L367.4 41.0L365.5 41.0L364.2 41.7L362.9 43.1L362.2 45.3L362.2 46.7L362.9 48.9L364.2 50.3L365.5 51.0L367.4 51.0L368.7 50.3L370.0 48.9M374.5 41.0L374.5 56.0M374.5 43.1L375.8 41.7L377.1 41.0L379.1 41.0L380.4 41.7L381.7 43.1L382.3 45.3L382.3 46.7L381.7 48.9L380.4 50.3L379.1 51.0L377.1 51.0L375.8 50.3L374.5 48.9M395.3 36.0L400.4 51.0M405.6 36.0L400.4 51.0M416.0 41.0L416.0 51.0M416.0 43.1L414.7 41.7L413.4 41.0L411.4 41.0L410.2 41.7L408.9 43.1L408.2 45.3L408.2 46.7L408.9 48.9L410.2 50.3L411.4 51.0L413.4 51.0L414.7 50.3L416.0 48.9M421.2 36.0L421.2 51.0M425.7 36.0L426.3 36.7L427.0 36.0L426.3 35.3L425.7 36.0M426.3 41.0L426.3 51.0M438.6 36.0L438.6 51.0M438.6 43.1L437.4 41.7L436.1 41.0L434.1 41.0L432.8 41.7L431.5 43.1L430.9 45.3L430.9 46.7L431.5 48.9L432.8 50.3L434.1 51.0L436.1 51.0L437.4 50.3L438.6 48.9M443.8 41.0L443.2 41.7L443.8 42.4L444.5 41.7L443.8 41.0M443.8 49.6L443.2 50.3L443.8 51.0L444.5 50.3L443.8 49.6M459.4 36.0L459.4 51.0M459.4 36.0L464.5 51.0M469.7 36.0L464.5 51.0M469.7 36.0L469.7 51.0M478.1 36.0L473.0 51.0M478.1 36.0L483.3 51.0M474.9 46.0L481.4 46.0M486.6 36.0L486.6 51.0M486.6 36.0L492.4 36.0L494.3 36.7L495.0 37.4L495.6 38.9L495.6 40.3L495.0 41.7L494.3 42.4L492.4 43.1L486.6 43.1M491.1 43.1L495.6 51.0M510.5 39.6L510.5 38.9L511.2 37.4L511.8 36.7L513.1 36.0L515.7 36.0L517.0 36.7L517.6 37.4L518.3 38.9L518.3 40.3L517.6 41.7L516.3 43.9L509.9 51.0L518.9 51.0M526.7 36.0L524.8 36.7L523.5 38.9L522.8 42.4L522.8 44.6L523.5 48.1L524.8 50.3L526.7 51.0L528.0 51.0L529.9 50.3L531.2 48.1L531.9 44.6L531.9 42.4L531.2 38.9L529.9 36.7L528.0 36.0L526.7 36.0M537.7 38.9L539.0 38.1L541.0 36.0L541.0 51.0M549.4 39.6L549.4 38.9L550.0 37.4L550.7 36.7L552.0 36.0L554.5 36.0L555.8 36.7L556.5 37.4L557.1 38.9L557.1 40.3L556.5 41.7L555.2 43.9L548.7 51.0L557.8 51.0" fill="none" stroke="#000" stroke-width="2" stroke-linecap="round" stroke-linejoin="round" shape-rendering="crispEdges"/></g>
</defs>
<g transform="translate(0,0)">
<use href="#map"/>
<g shape-rendering="crispEdges">
<path d="M189 85h5v5h-5z" fill="#2828ff"/>
<path d="M178 94h5v5h-5zM216 92h5v5h-5zM194 102h5v5h-5z" fill="#7878ff"/>
<path d="M211 104h5v5h-5zM217 117h5v5h-5zM245 116h5v5h-5zM268 113h5v5h-5z" fill="#2828ff"/>
<path d="M167 129h5v5h-5z" fill="#000096"/>
<path d="M185 126h5v5h-5z" fill="#c8c8ff"/>
<path d="M133 134h5v5h-5z" fill="#000096"/>
<path d="M213 131h5v5h-5z" fill="#7878ff"/>
<path d="M100 144h5v5h-5z" fill="#000096"/>
<path d="M138 146h5v5h-5zM239 139h5v5h-5z" fill="#2828ff"/>
<path d="M254 135h5v5h-5zM267 138h5v5h-5z" fill="#c8c8ff"/>
<path d="M238 146h5v5h-5z" fill="#7878ff"/>
<path d="M254 144h5v5h-5z" fill="#828282"/>
<path d="M198 148h5v5h-5z" fill="#7878ff"/>
<path d="M136 159h5v5h-5z" fill="#2828ff"/>
<path d="M214 157h5v5h-5zM274 158h5v5h-5z" fill="#000096"/>
<path d="M201 164h5v5h-5zM116 171h5v5h-5zM176 169h5v5h-5z" fill="#2828ff"/>
<path d="M208 175h5v5h-5z" fill="#7878ff"/>
<path d="M170 178h5v5h-5z" fill="#2828ff"/>
<path d="M118 182h5v5h-5z" fill="#7878ff"/>
<path d="M151 183h5v5h-5z" fill="#2828ff"/>
<path d="M163 184h5v5h-5z" fill="#7878ff"/>
<path d="M199 186h5v5h-5z" fill="#ffc8c8"/>
<path d="M105 191h5v5h-5z" fill="#2828ff"/>
<path d="M117 191h5v5h-5z" fill="#7878ff"/>
<path d="M124 194h5v5h-5z" fill="#c8c8ff"/>
<path d="M109 195h5v5h-5z" fill="#000096"/>
<path d="M152 192h5v5h-5z" fill="#7878ff"/>
<path d="M151 195h5v5h-5z" fill="#c8c8ff"/>
<path d="M193 197h5v5h-5z" fill="#000096"/>
<path d="M98 203h5v5h-5zM99 207h5v5h-5z" fill="#7878ff"/>
<path d="M138 205h5v5h-5z" fill="#c8c8ff"/>
<path d="M123 210h5v5h-5z" fill="#7878ff"/>
<path d="M161 209h5v5h-5zM165 211h5v5h-5z" fill="#000096"/>
<path d="M118 216h5v5h-5zM176 217h5v5h-5z" fill="#2828ff"/>
<path d="M202 222h5v5h-5zM239 219h5v5h-5zM164 226h5v5h-5zM105 229h5v5h-5zM136 224h5v5h-5zM139 227h5v5h-5zM175 231h5v5h-5z" fill="#000096"/>
<path d="M286 98h5v5h-5z" fill="#c8c8ff"/>
<path d="M308 96h5v5h-5z" fill="#828282"/>
<path d="M331 99h5v5h-5z" fill="#c8c8ff"/>
<path d="M329 109h5v5h-5z" fill="#828282"/>
<path d="M281 124h5v5h-5z" fill="#7878ff"/>
<path d="M304 138h5v5h-5z" fill="#828282"/>
<path d="M281 147h5v5h-5zM309 150h5v5h-5z" fill="#c8c8ff"/>
<path d="M308 167h5v5h-5z" fill="#2828ff"/>
<path d="M389 137h5v5h-5z" fill="#960000"/>
<path d="M447 132h5v5h-5z" fill="#828282"/>
<path d="M415 155h5v5h-5zM442 164h5v5h-5zM371 174h5v5h-5z" fill="#c8c8ff"/>
<path d="M336 184h5v5h-5zM382 186h5v5h-5z" fill="#2828ff"/>
<path d="M398 196h5v5h-5z" fill="#c8c8ff"/>
<path d="M420 199h5v5h-5zM330 203h5v5h-5zM366 211h5v5h-5z" fill="#7878ff"/>
<path d="M387 208h5v5h-5zM449 209h5v5h-5z" fill="#ffc8c8"/>
<path d="M319 221h5v5h-5z" fill="#7878ff"/>
<path d="M340 223h5v5h-5z" fill="#c8c8ff"/>
<path d="M293 216h5v5h-5zM266 216h5v5h-5zM278 222h5v5h-5z" fill="#000096"/>
<path d="M308 229h5v5h-5z" fill="#2828ff"/>
<path d="M405 228h5v5h-5z" fill="#7878ff"/>
<path d="M489 140h5v5h-5z" fill="#c8c8ff"/>
<path d="M520 123h5v5h-5z" fill="#2828ff"/>
<path d="M516 148h5v5h-5z" fill="#828282"/>
<path d="M542 140h5v5h-5zM595 168h5v5h-5z" fill="#c8c8ff"/>
<path d="M570 178h5v5h-5z" fill="#ffc8c8"/>
<path d="M482 206h5v5h-5z" fill="#828282"/>
<path d="M547 231h5v5h-5z" fill="#7878ff"/>
<path d="M115 231h5v5h-5zM184 242h5v5h-5zM192 247h5v5h-5zM122 247h5v5h-5zM139 249h5v5h-5zM112 254h5v5h-5zM140 253h5v5h-5z" fill="#000096"/>
<path d="M144 256h5v5h-5z" fill="#2828ff"/>
<path d="M146 257h5v5h-5z" fill="#7878ff"/>
<path d="M121 262h5v5h-5zM107 264h5v5h-5zM147 268h5v5h-5z" fill="#2828ff"/>
<path d="M118 283h5v5h-5z" fill="#000096"/>
<path d="M171 289h5v5h-5z" fill="#7878ff"/>
<path d="M144 302h5v5h-5zM209 268h5v5h-5zM210 274h5v5h-5z" fill="#000096"/>
<path d="M180 305h5v5h-5z" fill="#7878ff"/>
<path d="M254 222h5v5h-5zM247 228h5v5h-5zM268 231h5v5h-5zM263 239h5v5h-5zM276 242h5v5h-5z" fill="#000096"/>
<path d="M295 243h5v5h-5z" fill="#2828ff"/>
<path d="M256 247h5v5h-5zM314 246h5v5h-5z" fill="#000096"/>
<path d="M268 253h5v5h-5z" fill="#2828ff"/>
<path d="M286 251h5v5h-5zM313 254h5v5h-5zM336 254h5v5h-5zM354 256h5v5h-5zM243 261h5v5h-5zM285 257h5v5h-5zM293 259h5v5h-5z" fill="#000096"/>
<path d="M318 258h5v5h-5zM265 263h5v5h-5z" fill="#2828ff"/>
<path d="M281 263h5v5h-5zM293 267h5v5h-5z" fill="#7878ff"/>
<path d="M302 271h5v5h-5zM270 272h5v5h-5zM303 278h5v5h-5zM317 277h5v5h-5zM349 275h5v5h-5zM302 288h5v5h-5zM327 285h5v5h-5z" fill="#2828ff"/>
<path d="M316 291h5v5h-5z" fill="#000096"/>
<path d="M298 297h5v5h-5zM307 302h5v5h-5z" fill="#2828ff"/>
<path d="M354 295h5v5h-5z" fill="#000096"/>
<path d="M360 304h5v5h-5z" fill="#2828ff"/>
<path d="M343 236h5v5h-5z" fill="#000096"/>
<path d="M419 231h5v5h-5zM419 235h5v5h-5zM433 235h5v5h-5z" fill="#2828ff"/>
<path d="M374 247h5v5h-5zM394 254h5v5h-5z" fill="#000096"/>
<path d="M416 254h5v5h-5z" fill="#c8c8ff"/>
<path d="M379 267h5v5h-5zM404 274h5v5h-5z" fill="#000096"/>
<path d="M377 284h5v5h-5z" fill="#2828ff"/>
<path d="M508 244h5v5h-5z" fill="#828282"/>
<path d="M370 320h5v5h-5z" fill="#7878ff"/>
<path d="M424 318h5v5h-5z" fill="#c8c8ff"/>
<path d="M488 338h5v5h-5z" fill="#ffc8c8"/>
<path d="M215 315h5v5h-5z" fill="#7878ff"/>
<path d="M150 319h5v5h-5z" fill="#000096"/>
<path d="M174 320h5v5h-5zM234 324h5v5h-5z" fill="#2828ff"/>
<path d="M190 336h5v5h-5z" fill="#000096"/>
<path d="M242 340h5v5h-5z" fill="#828282"/>
<path d="M269 344h5v5h-5z" fill="#c8c8ff"/>
<path d="M208 350h5v5h-5z" fill="#7878ff"/>
<path d="M220 357h5v5h-5zM154 362h5v5h-5z" fill="#c8c8ff"/>
<path d="M143 378h5v5h-5z" fill="#2828ff"/>
<path d="M159 382h5v5h-5z" fill="#ffc8c8"/>
<path d="M183 388h5v5h-5z" fill="#960000"/>
<path d="M186 386h5v5h-5z" fill="#ff2828"/>
<path d="M134 399h5v5h-5zM187 402h5v5h-5z" fill="#ff7878"/>
<path d="M325 307h5v5h-5z" fill="#c8c8ff"/>
<path d="M296 311h5v5h-5zM293 316h5v5h-5z" fill="#7878ff"/>
<path d="M312 344h5v5h-5z" fill="#828282"/>
<path d="M347 359h5v5h-5zM381 355h5v5h-5zM332 378h5v5h-5zM310 386h5v5h-5zM361 394h5v5h-5zM299 399h5v5h-5zM407 408h5v5h-5z" fill="#2828ff"/>
<path d="M338 426h5v5h-5zM340 426h5v5h-5z" fill="#c8c8ff"/>
<path d="M357 429h5v5h-5z" fill="#828282"/>
<path d="M604 317h5v5h-5z" fill="#7878ff"/>
<path d="M691 304h5v5h-5zM716 323h5v5h-5z" fill="#2828ff"/>
<path d="M529 395h5v5h-5z" fill="#828282"/>
<path d="M520 494h5v5h-5z" fill="#ffc8c8"/>
<g fill="none" stroke="#000" stroke-width="1" stroke-linecap="square" stroke-linejoin="round" shape-rendering="crispEdges"><use href="#d0" x="192.5" y="88.0"/><use href="#d4" x="199.5" y="88.0"/><use href="#d4" x="206.5" y="88.0"/><use href="#d0" x="181.5" y="96.8"/><use href="#d5" x="188.5" y="96.8"/><use href="#d7" x="195.5" y="96.8"/><use href="#d0" x="219.1" y="94.8"/><use href="#d6" x="226.1" y="94.8"/><use href="#d9" x="233.1" y="94.8"/><use href="#d0" x="196.9" y="104.8"/><use href="#d5" x="203.9" y="104.8"/><use href="#d8" x="210.9" y="104.8"/><use href="#d0" x="214.0" y="107.1"/><use href="#d4" x="221.0" y="107.1"/><use href="#d3" x="228.0" y="107.1"/><use href="#d0" x="219.9" y="119.8"/><use href="#d4" x="226.9" y="119.8"/><use href="#d6" x="233.9" y="119.8"/><use href="#d0" x="248.5" y="118.6"/><use href="#d4" x="255.5" y="118.6"/><use href="#d2" x="262.5" y="118.6"/><use href="#d0" x="270.7" y="115.8"/><use href="#d5" x="277.7" y="115.8"/><use href="#d0" x="284.7" y="115.8"/><use href="#d0" x="170.2" y="131.9"/><use href="#d2" x="177.2" y="131.9"/><use href="#d1" x="184.2" y="131.9"/><use href="#d0" x="188.4" y="128.6"/><use href="#d7" x="195.4" y="128.6"/><use href="#d7" x="202.4" y="128.6"/><use href="#d0" x="135.7" y="136.5"/><use href="#d1" x="142.7" y="136.5"/><use href="#d8" x="149.7" y="136.5"/><use href="#d0" x="215.9" y="134.4"/><use href="#d5" x="222.9" y="134.4"/><use href="#d8" x="229.9" y="134.4"/><use href="#d0" x="102.9" y="146.8"/><use href="#d1" x="109.9" y="146.8"/><use href="#d4" x="116.9" y="146.8"/><use href="#d0" x="140.7" y="148.7"/><use href="#d3" x="147.7" y="148.7"/><use href="#d1" x="154.7" y="148.7"/><use href="#d0" x="242.2" y="141.5"/><use href="#d4" x="249.2" y="141.5"/><use href="#d8" x="256.2" y="141.5"/><use href="#d0" x="257.3" y="137.8"/><use href="#d9" x="264.3" y="137.8"/><use href="#d7" x="271.3" y="137.8"/><use href="#d0" x="269.8" y="140.9"/><use href="#d7" x="276.8" y="140.9"/><use href="#d7" x="283.8" y="140.9"/><use href="#d0" x="241.0" y="149.0"/><use href="#d5" x="248.0" y="149.0"/><use href="#d3" x="255.0" y="149.0"/><use href="#d1" x="256.7" y="146.8"/><use href="#d2" x="263.7" y="146.8"/><use href="#d0" x="270.7" y="146.8"/><use href="#d0" x="200.9" y="150.7"/><use href="#d5" x="207.9" y="150.7"/><use href="#d0" x="214.9" y="150.7"/><use href="#d0" x="139.2" y="161.8"/><use href="#d3" x="146.2" y="161.8"/><use href="#d8" x="153.2" y="161.8"/><use href="#d0" x="217.2" y="159.7"/><use href="#d1" x="224.2" y="159.7"/><use href="#d5" x="231.2" y="159.7"/><use href="#d0" x="276.7" y="160.7"/><use href="#d1" x="283.7" y="160.7"/><use href="#d2" x="290.7" y="160.7"/><use href="#d0" x="204.0" y="167.2"/><use href="#d4" x="211.0" y="167.2"/><use href="#d3" x="218.0" y="167.2"/><use href="#d0" x="119.4" y="173.7"/><use href="#d4" x="126.4" y="173.7"/><use href="#d5" x="133.4" y="173.7"/><use href="#d0" x="179.6" y="171.6"/><use href="#d2" x="186.6" y="171.6"/><use href="#d7" x="193.6" y="171.6"/><use href="#d0" x="210.9" y="177.9"/><use href="#d6" x="217.9" y="177.9"/><use href="#d8" x="224.9" y="177.9"/><use href="#d0" x="173.3" y="181.0"/><use href="#d4" x="180.3" y="181.0"/><use href="#d2" x="187.3" y="181.0"/><use href="#d0" x="120.7" y="184.8"/><use href="#d5" x="127.7" y="184.8"/><use href="#d5" x="134.7" y="184.8"/><use href="#d0" x="154.5" y="186.0"/><use href="#d4" x="161.5" y="186.0"/><use href="#d0" x="168.5" y="186.0"/><use href="#d0" x="166.4" y="186.6"/><use href="#d5" x="173.4" y="186.6"/><use href="#d4" x="180.4" y="186.6"/><use href="#d1" x="202.1" y="188.5"/><use href="#d4" x="209.1" y="188.5"/><use href="#d8" x="216.1" y="188.5"/><use href="#d0" x="108.5" y="193.8"/><use href="#d3" x="115.5" y="193.8"/><use href="#d0" x="122.5" y="193.8"/><use href="#d0" x="120.1" y="194.1"/><use href="#d5" x="127.1" y="194.1"/><use href="#d1" x="134.1" y="194.1"/><use href="#d0" x="127.6" y="196.9"/><use href="#d9" x="134.6" y="196.9"/><use href="#d6" x="141.6" y="196.9"/><use href="#d0" x="112.5" y="197.9"/><use href="#d2" x="119.5" y="197.9"/><use href="#d2" x="126.5" y="197.9"/><use href="#d0" x="154.6" y="195.0"/><use href="#d5" x="161.6" y="195.0"/><use href="#d5" x="168.6" y="195.0"/><use href="#d0" x="154.0" y="198.2"/><use href="#d7" x="161.0" y="198.2"/><use href="#d5" x="168.0" y="198.2"/><use href="#d0" x="195.9" y="199.8"/><use href="#d0" x="202.9" y="199.8"/><use href="#d4" x="209.9" y="199.8"/><use href="#d0" x="100.6" y="205.8"/><use href="#d5" x="107.6" y="205.8"/><use href="#d2" x="114.6" y="205.8"/><use href="#d0" x="101.9" y="210.4"/><use href="#d6" x="108.9" y="210.4"/><use href="#d8" x="115.9" y="210.4"/><use href="#d0" x="141.4" y="207.9"/><use href="#d8" x="148.4" y="207.9"/><use href="#d7" x="155.4" y="207.9"/><use href="#d0" x="125.7" y="212.9"/><use href="#d7" x="132.7" y="212.9"/><use href="#d1" x="139.7" y="212.9"/><use href="#d0" x="163.9" y="212.1"/><use href="#d1" x="170.9" y="212.1"/><use href="#d0" x="177.9" y="212.1"/><use href="#d0" x="168.3" y="214.2"/><use href="#d0" x="175.3" y="214.2"/><use href="#d6" x="182.3" y="214.2"/><use href="#d0" x="120.7" y="218.8"/><use href="#d4" x="127.7" y="218.8"/><use href="#d7" x="134.7" y="218.8"/><use href="#d0" x="179.6" y="219.8"/><use href="#d2" x="186.6" y="219.8"/><use href="#d5" x="193.6" y="219.8"/><use href="#d0" x="204.6" y="224.9"/><use href="#d0" x="211.6" y="224.9"/><use href="#d6" x="218.6" y="224.9"/><use href="#d0" x="242.2" y="221.7"/><use href="#d0" x="249.2" y="221.7"/><use href="#d3" x="256.2" y="221.7"/><use href="#d0" x="167.1" y="228.9"/><use href="#d1" x="174.1" y="228.9"/><use href="#d0" x="181.1" y="228.9"/><use href="#d0" x="108.2" y="232.4"/><use href="#d2" x="115.2" y="232.4"/><use href="#d0" x="122.2" y="232.4"/><use href="#d0" x="139.5" y="226.7"/><use href="#d0" x="146.5" y="226.7"/><use href="#d0" x="153.5" y="226.7"/><use href="#d0" x="142.0" y="229.9"/><use href="#d0" x="149.0" y="229.9"/><use href="#d4" x="156.0" y="229.9"/><use href="#d0" x="178.3" y="233.6"/><use href="#d0" x="185.3" y="233.6"/><use href="#d0" x="192.3" y="233.6"/><use href="#d0" x="289.4" y="100.8"/><use href="#d8" x="296.4" y="100.8"/><use href="#d2" x="303.4" y="100.8"/><use href="#d1" x="310.7" y="99.2"/><use href="#d0" x="317.7" y="99.2"/><use href="#d4" x="324.7" y="99.2"/><use href="#d0" x="333.9" y="102.0"/><use href="#d9" x="340.9" y="102.0"/><use href="#d6" x="347.9" y="102.0"/><use href="#d1" x="332.0" y="111.8"/><use href="#d1" x="339.0" y="111.8"/><use href="#d2" x="346.0" y="111.8"/><use href="#d0" x="284.4" y="126.7"/><use href="#d6" x="291.4" y="126.7"/><use href="#d3" x="298.4" y="126.7"/><use href="#d1" x="307.0" y="140.9"/><use href="#d0" x="314.0" y="140.9"/><use href="#d6" x="321.0" y="140.9"/><use href="#d0" x="284.4" y="149.7"/><use href="#d8" x="291.4" y="149.7"/><use href="#d2" x="298.4" y="149.7"/><use href="#d0" x="312.6" y="152.8"/><use href="#d9" x="319.6" y="152.8"/><use href="#d4" x="326.6" y="152.8"/><use href="#d0" x="311.1" y="170.0"/><use href="#d2" x="318.1" y="170.0"/><use href="#d7" x="325.1" y="170.0"/><use href="#d2" x="392.2" y="139.6"/><use href="#d8" x="399.2" y="139.6"/><use href="#d2" x="406.2" y="139.6"/><use href="#d1" x="450.4" y="134.6"/><use href="#d0" x="457.4" y="134.6"/><use href="#d3" x="464.4" y="134.6"/><use href="#d0" x="418.5" y="157.8"/><use href="#d8" x="425.5" y="157.8"/><use href="#d1" x="432.5" y="157.8"/><use href="#d0" x="445.4" y="166.8"/><use href="#d9" x="452.4" y="166.8"/><use href="#d4" x="459.4" y="166.8"/><use href="#d0" x="373.7" y="176.9"/><use href="#d9" x="380.7" y="176.9"/><use href="#d5" x="387.7" y="176.9"/><use href="#d0" x="338.9" y="186.9"/><use href="#d3" x="345.9" y="186.9"/><use href="#d2" x="352.9" y="186.9"/><use href="#d0" x="385.5" y="188.5"/><use href="#d4" x="392.5" y="188.5"/><use href="#d9" x="399.5" y="188.5"/><use href="#d0" x="401.3" y="198.8"/><use href="#d7" x="408.3" y="198.8"/><use href="#d5" x="415.3" y="198.8"/><use href="#d0" x="422.9" y="201.9"/><use href="#d6" x="429.9" y="201.9"/><use href="#d4" x="436.9" y="201.9"/><use href="#d0" x="333.5" y="205.7"/><use href="#d7" x="340.5" y="205.7"/><use href="#d2" x="347.5" y="205.7"/><use href="#d0" x="369.4" y="213.8"/><use href="#d6" x="376.4" y="213.8"/><use href="#d0" x="383.4" y="213.8"/><use href="#d1" x="389.7" y="211.1"/><use href="#d3" x="396.7" y="211.1"/><use href="#d7" x="403.7" y="211.1"/><use href="#d1" x="452.3" y="211.7"/><use href="#d2" x="459.3" y="211.7"/><use href="#d7" x="466.3" y="211.7"/><use href="#d0" x="322.0" y="223.6"/><use href="#d5" x="329.0" y="223.6"/><use href="#d8" x="336.0" y="223.6"/><use href="#d0" x="343.0" y="226.1"/><use href="#d8" x="350.0" y="226.1"/><use href="#d0" x="357.0" y="226.1"/><use href="#d0" x="295.7" y="219.2"/><use href="#d1" x="302.7" y="219.2"/><use href="#d5" x="309.7" y="219.2"/><use href="#d0" x="268.7" y="219.2"/><use href="#d1" x="275.7" y="219.2"/><use href="#d5" x="282.7" y="219.2"/><use href="#d0" x="280.6" y="224.9"/><use href="#d1" x="287.6" y="224.9"/><use href="#d2" x="294.6" y="224.9"/><use href="#d0" x="310.7" y="232.4"/><use href="#d4" x="317.7" y="232.4"/><use href="#d3" x="324.7" y="232.4"/><use href="#d0" x="408.5" y="231.1"/><use href="#d5" x="415.5" y="231.1"/><use href="#d8" x="422.5" y="231.1"/><use href="#d0" x="492.6" y="142.8"/><use href="#d8" x="499.6" y="142.8"/><use href="#d2" x="506.6" y="142.8"/><use href="#d0" x="522.7" y="125.9"/><use href="#d4" x="529.7" y="125.9"/><use href="#d8" x="536.7" y="125.9"/><use href="#d1" x="519.2" y="150.9"/><use href="#d1" x="526.2" y="150.9"/><use href="#d2" x="533.2" y="150.9"/><use href="#d0" x="545.5" y="143.4"/><use href="#d8" x="552.5" y="143.4"/><use href="#d0" x="559.5" y="143.4"/><use href="#d0" x="598.5" y="171.0"/><use href="#d9" x="605.5" y="171.0"/><use href="#d3" x="612.5" y="171.0"/><use href="#d1" x="573.4" y="181.0"/><use href="#d3" x="580.4" y="181.0"/><use href="#d8" x="587.4" y="181.0"/><use href="#d1" x="485.4" y="208.8"/><use href="#d2" x="492.4" y="208.8"/><use href="#d0" x="499.4" y="208.8"/><use href="#d0" x="550.2" y="233.6"/><use href="#d7" x="557.2" y="233.6"/><use href="#d0" x="564.2" y="233.6"/><use href="#d0" x="118.6" y="234.1"/><use href="#d0" x="125.6" y="234.1"/><use href="#d0" x="132.6" y="234.1"/><use href="#d0" x="187.3" y="244.9"/><use href="#d0" x="194.3" y="244.9"/><use href="#d0" x="201.3" y="244.9"/><use href="#d0" x="194.8" y="249.6"/><use href="#d0" x="201.8" y="249.6"/><use href="#d0" x="208.8" y="249.6"/><use href="#d0" x="124.7" y="250.1"/><use href="#d0" x="131.7" y="250.1"/><use href="#d7" x="138.7" y="250.1"/><use href="#d0" x="142.6" y="252.0"/><use href="#d0" x="149.6" y="252.0"/><use href="#d4" x="156.6" y="252.0"/><use href="#d0" x="115.5" y="256.7"/><use href="#d0" x="122.5" y="256.7"/><use href="#d9" x="129.5" y="256.7"/><use href="#d0" x="143.0" y="255.8"/><use href="#d1" x="150.0" y="255.8"/><use href="#d5" x="157.0" y="255.8"/><use href="#d0" x="146.8" y="259.1"/><use href="#d4" x="153.8" y="259.1"/><use href="#d0" x="160.8" y="259.1"/><use href="#d0" x="148.7" y="260.5"/><use href="#d5" x="155.7" y="260.5"/><use href="#d0" x="162.7" y="260.5"/><use href="#d0" x="124.3" y="265.2"/><use href="#d2" x="131.3" y="265.2"/><use href="#d5" x="138.3" y="265.2"/><use href="#d0" x="109.9" y="266.6"/><use href="#d2" x="116.9" y="266.6"/><use href="#d7" x="123.9" y="266.6"/><use href="#d0" x="149.6" y="270.8"/><use href="#d3" x="156.6" y="270.8"/><use href="#d5" x="163.6" y="270.8"/><use href="#d0" x="121.4" y="285.9"/><use href="#d0" x="128.4" y="285.9"/><use href="#d4" x="135.4" y="285.9"/><use href="#d0" x="174.6" y="292.0"/><use href="#d5" x="181.6" y="292.0"/><use href="#d2" x="188.6" y="292.0"/><use href="#d0" x="147.3" y="304.7"/><use href="#d0" x="154.3" y="304.7"/><use href="#d9" x="161.3" y="304.7"/><use href="#d0" x="212.2" y="270.8"/><use href="#d0" x="219.2" y="270.8"/><use href="#d1" x="226.2" y="270.8"/><use href="#d0" x="212.7" y="277.2"/><use href="#d0" x="219.7" y="277.2"/><use href="#d6" x="226.7" y="277.2"/><use href="#d0" x="183.1" y="307.6"/><use href="#d5" x="190.1" y="307.6"/><use href="#d9" x="197.1" y="307.6"/><use href="#d0" x="257.1" y="225.2"/><use href="#d0" x="264.1" y="225.2"/><use href="#d9" x="271.1" y="225.2"/><use href="#d0" x="249.6" y="230.8"/><use href="#d0" x="256.6" y="230.8"/><use href="#d2" x="263.6" y="230.8"/><use href="#d0" x="270.6" y="234.1"/><use href="#d1" x="277.6" y="234.1"/><use href="#d1" x="284.6" y="234.1"/><use href="#d0" x="266.6" y="241.6"/><use href="#d1" x="273.6" y="241.6"/><use href="#d4" x="280.6" y="241.6"/><use href="#d0" x="278.8" y="244.9"/><use href="#d0" x="285.8" y="244.9"/><use href="#d0" x="292.8" y="244.9"/><use href="#d0" x="298.6" y="246.3"/><use href="#d4" x="305.6" y="246.3"/><use href="#d5" x="312.6" y="246.3"/><use href="#d0" x="259.5" y="249.9"/><use href="#d1" x="266.5" y="249.9"/><use href="#d3" x="273.5" y="249.9"/><use href="#d0" x="316.7" y="248.7"/><use href="#d0" x="323.7" y="248.7"/><use href="#d2" x="330.7" y="248.7"/><use href="#d0" x="271.6" y="255.8"/><use href="#d3" x="278.6" y="255.8"/><use href="#d2" x="285.6" y="255.8"/><use href="#d0" x="288.9" y="253.7"/><use href="#d0" x="295.9" y="253.7"/><use href="#d9" x="302.9" y="253.7"/><use href="#d0" x="316.0" y="256.7"/><use href="#d0" x="323.0" y="256.7"/><use href="#d1" x="330.0" y="256.7"/><use href="#d0" x="339.1" y="256.7"/><use href="#d2" x="346.1" y="256.7"/><use href="#d3" x="353.1" y="256.7"/><use href="#d0" x="357.0" y="258.6"/><use href="#d0" x="364.0" y="258.6"/><use href="#d4" x="371.0" y="258.6"/><use href="#d0" x="245.8" y="263.8"/><use href="#d1" x="252.8" y="263.8"/><use href="#d9" x="259.8" y="263.8"/><use href="#d0" x="288.5" y="260.5"/><use href="#d0" x="295.5" y="260.5"/><use href="#d9" x="302.5" y="260.5"/><use href="#d0" x="296.2" y="261.9"/><use href="#d1" x="303.2" y="261.9"/><use href="#d9" x="310.2" y="261.9"/><use href="#d0" x="321.2" y="261.4"/><use href="#d2" x="328.2" y="261.4"/><use href="#d6" x="335.2" y="261.4"/><use href="#d0" x="268.0" y="265.9"/><use href="#d4" x="275.0" y="265.9"/><use href="#d4" x="282.0" y="265.9"/><use href="#d0" x="284.5" y="266.3"/><use href="#d6" x="291.5" y="266.3"/><use href="#d6" x="298.5" y="266.3"/><use href="#d0" x="295.8" y="270.1"/><use href="#d5" x="302.8" y="270.1"/><use href="#d7" x="309.8" y="270.1"/><use href="#d0" x="304.7" y="273.7"/><use href="#d3" x="311.7" y="273.7"/><use href="#d5" x="318.7" y="273.7"/><use href="#d0" x="273.2" y="275.3"/><use href="#d3" x="280.2" y="275.3"/><use href="#d1" x="287.2" y="275.3"/><use href="#d0" x="305.6" y="280.7"/><use href="#d3" x="312.6" y="280.7"/><use href="#d3" x="319.6" y="280.7"/><use href="#d0" x="319.8" y="279.8"/><use href="#d3" x="326.8" y="279.8"/><use href="#d7" x="333.8" y="279.8"/><use href="#d0" x="352.5" y="277.7"/><use href="#d2" x="359.5" y="277.7"/><use href="#d9" x="366.5" y="277.7"/><use href="#d0" x="305.2" y="290.8"/><use href="#d2" x="312.2" y="290.8"/><use href="#d9" x="319.2" y="290.8"/><use href="#d0" x="329.6" y="287.8"/><use href="#d4" x="336.6" y="287.8"/><use href="#d7" x="343.6" y="287.8"/><use href="#d0" x="318.6" y="294.4"/><use href="#d2" x="325.6" y="294.4"/><use href="#d0" x="332.6" y="294.4"/><use href="#d0" x="300.6" y="300.5"/><use href="#d4" x="307.6" y="300.5"/><use href="#d4" x="314.6" y="300.5"/><use href="#d0" x="309.7" y="304.7"/><use href="#d2" x="316.7" y="304.7"/><use href="#d7" x="323.7" y="304.7"/><use href="#d0" x="356.7" y="297.7"/><use href="#d0" x="363.7" y="297.7"/><use href="#d8" x="370.7" y="297.7"/><use href="#d0" x="363.5" y="306.8"/><use href="#d2" x="370.5" y="306.8"/><use href="#d8" x="377.5" y="306.8"/><use href="#d0" x="346.6" y="238.8"/><use href="#d0" x="353.6" y="238.8"/><use href="#d1" x="360.6" y="238.8"/><use href="#d0" x="422.2" y="233.7"/><use href="#d3" x="429.2" y="233.7"/><use href="#d2" x="436.2" y="233.7"/><use href="#d0" x="422.0" y="238.1"/><use href="#d4" x="429.0" y="238.1"/><use href="#d6" x="436.0" y="238.1"/><use href="#d0" x="436.2" y="238.4"/><use href="#d3" x="443.2" y="238.4"/><use href="#d9" x="450.2" y="238.4"/><use href="#d0" x="376.6" y="250.4"/><use href="#d2" x="383.6" y="250.4"/><use href="#d1" x="390.6" y="250.4"/><use href="#d0" x="396.7" y="256.9"/><use href="#d2" x="403.7" y="256.9"/><use href="#d4" x="410.7" y="256.9"/><use href="#d0" x="418.6" y="257.2"/><use href="#d8" x="425.6" y="257.2"/><use href="#d0" x="432.6" y="257.2"/><use href="#d0" x="382.5" y="269.8"/><use href="#d2" x="389.5" y="269.8"/><use href="#d3" x="396.5" y="269.8"/><use href="#d0" x="407.6" y="276.7"/><use href="#d2" x="414.6" y="276.7"/><use href="#d4" x="421.6" y="276.7"/><use href="#d0" x="379.6" y="286.7"/><use href="#d3" x="386.6" y="286.7"/><use href="#d1" x="393.6" y="286.7"/><use href="#d1" x="511.6" y="246.6"/><use href="#d1" x="518.6" y="246.6"/><use href="#d1" x="525.6" y="246.6"/><use href="#d0" x="372.9" y="323.1"/><use href="#d5" x="379.9" y="323.1"/><use href="#d6" x="386.9" y="323.1"/><use href="#d0" x="426.6" y="320.8"/><use href="#d8" x="433.6" y="320.8"/><use href="#d9" x="440.6" y="320.8"/><use href="#d1" x="490.7" y="340.9"/><use href="#d2" x="497.7" y="340.9"/><use href="#d8" x="504.7" y="340.9"/><use href="#d0" x="218.4" y="318.1"/><use href="#d5" x="225.4" y="318.1"/><use href="#d4" x="232.4" y="318.1"/><use href="#d0" x="153.5" y="321.8"/><use href="#d0" x="160.5" y="321.8"/><use href="#d0" x="167.5" y="321.8"/><use href="#d0" x="176.7" y="322.8"/><use href="#d3" x="183.7" y="322.8"/><use href="#d4" x="190.7" y="322.8"/><use href="#d0" x="237.6" y="326.8"/><use href="#d2" x="244.6" y="326.8"/><use href="#d8" x="251.6" y="326.8"/><use href="#d0" x="192.7" y="339.4"/><use href="#d2" x="199.7" y="339.4"/><use href="#d2" x="206.7" y="339.4"/><use href="#d1" x="245.1" y="342.9"/><use href="#d0" x="252.1" y="342.9"/><use href="#d9" x="259.1" y="342.9"/><use href="#d0" x="271.7" y="346.6"/><use href="#d8" x="278.7" y="346.6"/><use href="#d5" x="285.7" y="346.6"/><use href="#d0" x="211.5" y="352.9"/><use href="#d5" x="218.5" y="352.9"/><use href="#d8" x="225.5" y="352.9"/><use href="#d0" x="223.2" y="360.0"/><use href="#d8" x="230.2" y="360.0"/><use href="#d5" x="237.2" y="360.0"/><use href="#d0" x="157.0" y="365.3"/><use href="#d9" x="164.0" y="365.3"/><use href="#d1" x="171.0" y="365.3"/><use href="#d0" x="146.0" y="381.1"/><use href="#d4" x="153.0" y="381.1"/><use href="#d8" x="160.0" y="381.1"/><use href="#d1" x="161.6" y="384.8"/><use href="#d3" x="168.6" y="384.8"/><use href="#d7" x="175.6" y="384.8"/><use href="#d2" x="186.4" y="391.4"/><use href="#d0" x="193.4" y="391.4"/><use href="#d3" x="200.4" y="391.4"/><use href="#d1" x="188.9" y="389.5"/><use href="#d9" x="195.9" y="389.5"/><use href="#d4" x="202.9" y="389.5"/><use href="#d1" x="137.2" y="402.4"/><use href="#d6" x="144.2" y="402.4"/><use href="#d4" x="151.2" y="402.4"/><use href="#d1" x="189.9" y="404.8"/><use href="#d6" x="196.9" y="404.8"/><use href="#d2" x="203.9" y="404.8"/><use href="#d0" x="328.0" y="310.2"/><use href="#d9" x="335.0" y="310.2"/><use href="#d3" x="342.0" y="310.2"/><use href="#d0" x="299.4" y="313.7"/><use href="#d7" x="306.4" y="313.7"/><use href="#d0" x="313.4" y="313.7"/><use href="#d0" x="295.9" y="318.7"/><use href="#d5" x="302.9" y="318.7"/><use href="#d2" x="309.9" y="318.7"/><use href="#d1" x="314.7" y="346.9"/><use href="#d1" x="321.7" y="346.9"/><use href="#d6" x="328.7" y="346.9"/><use href="#d0" x="349.9" y="362.0"/><use href="#d4" x="356.9" y="362.0"/><use href="#d8" x="363.9" y="362.0"/><use href="#d0" x="384.4" y="357.9"/><use href="#d3" x="391.4" y="357.9"/><use href="#d2" x="398.4" y="357.9"/><use href="#d0" x="335.5" y="380.8"/><use href="#d3" x="342.5" y="380.8"/><use href="#d4" x="349.5" y="380.8"/><use href="#d0" x="313.6" y="388.9"/><use href="#d4" x="320.6" y="388.9"/><use href="#d5" x="327.6" y="388.9"/><use href="#d0" x="363.7" y="397.0"/><use href="#d3" x="370.7" y="397.0"/><use href="#d4" x="377.7" y="397.0"/><use href="#d0" x="301.7" y="401.8"/><use href="#d3" x="308.7" y="401.8"/><use href="#d3" x="315.7" y="401.8"/><use href="#d0" x="410.0" y="410.8"/><use href="#d3" x="417.0" y="410.8"/><use href="#d6" x="424.0" y="410.8"/><use href="#d0" x="340.6" y="429.0"/><use href="#d9" x="347.6" y="429.0"/><use href="#d5" x="354.6" y="429.0"/><use href="#d0" x="343.1" y="429.0"/><use href="#d9" x="350.1" y="429.0"/><use href="#d8" x="357.1" y="429.0"/><use href="#d1" x="360.0" y="432.0"/><use href="#d0" x="367.0" y="432.0"/><use href="#d7" x="374.0" y="432.0"/><use href="#d0" x="606.7" y="319.9"/><use href="#d6" x="613.7" y="319.9"/><use href="#d5" x="620.7" y="319.9"/><use href="#d0" x="694.6" y="307.1"/><use href="#d3" x="701.6" y="307.1"/><use href="#d3" x="708.6" y="307.1"/><use href="#d0" x="719.5" y="325.8"/><use href="#d2" x="726.5" y="325.8"/><use href="#d5" x="733.5" y="325.8"/><use href="#d1" x="532.5" y="397.8"/><use href="#d0" x="539.5" y="397.8"/><use href="#d6" x="546.5" y="397.8"/><use href="#d1" x="522.8" y="497.4"/><use href="#d3" x="529.8" y="497.4"/><use href="#d7" x="536.8" y="497.4"/></g>
</g>
<use href="#frame"/>
<path d="M356.0 57.3L354.7 58.0L353.5 59.4L352.8 60.8L352.2 62.9L352.2 66.4L352.8 68.5L353.5 69.9L354.7 71.3L356.0 72.0L358.6 72.0L359.8 71.3L361.1 69.9L361.8 68.5L362.4 66.4L362.4 62.9L361.8 60.8L361.1 59.4L359.8 58.0L358.6 57.3L356.0 57.3M366.9 57.3L366.9 72.0M366.9 64.3L368.1 62.9L369.4 62.2L371.3 62.2L372.6 62.9L373.9 64.3L374.5 66.4L374.5 67.8L373.9 69.9L372.6 71.3L371.3 72.0L369.4 72.0L368.1 71.3L366.9 69.9M385.4 64.3L384.8 62.9L382.8 62.2L380.9 62.2L379.0 62.9L378.4 64.3L379.0 65.7L380.3 66.4L383.5 67.1L384.8 67.8L385.4 69.2L385.4 69.9L384.8 71.3L382.8 72.0L380.9 72.0L379.0 71.3L378.4 69.9M389.9 65.7L401.4 65.7M415.4 60.8L414.8 59.4L413.5 58.0L412.2 57.3L409.7 57.3L408.4 58.0L407.1 59.4L406.5 60.8L405.8 62.9L405.8 66.4L406.5 68.5L407.1 69.9L408.4 71.3L409.7 72.0L412.2 72.0L413.5 71.3L414.8 69.9L415.4 68.5M419.9 57.3L419.9 72.0M424.4 57.3L425.0 58.0L425.7 57.3L425.0 56.6L424.4 57.3M425.0 62.2L425.0 72.0M430.1 62.2L430.1 72.0M430.1 65.0L432.0 62.9L433.3 62.2L435.2 62.2L436.5 62.9L437.2 65.0L437.2 72.0M437.2 65.0L439.1 62.9L440.4 62.2L442.3 62.2L443.5 62.9L444.2 65.0L444.2 72.0" fill="none" stroke="#000" stroke-width="2" stroke-linecap="round" stroke-linejoin="round" shape-rendering="crispEdges"/>
</g>
<g transform="translate(798,0)">
<use href="#map"/>
<g shape-rendering="crispEdges">
<path d="M189 85h5v5h-5z" fill="#828282"/>
<path d="M178 94h5v5h-5z" fill="#ff7878"/>
<path d="M216 92h5v5h-5zM194 102h5v5h-5zM211 104h5v5h-5z" fill="#ffc8c8"/>
<path d="M217 117h5v5h-5z" fill="#960000"/>
<path d="M245 116h5v5h-5zM268 113h5v5h-5zM167 129h5v5h-5z" fill="#ff7878"/>
<path d="M185 126h5v5h-5zM133 134h5v5h-5z" fill="#ffc8c8"/>
<path d="M213 131h5v5h-5zM100 144h5v5h-5zM138 146h5v5h-5z" fill="#960000"/>
<path d="M239 139h5v5h-5z" fill="#ffc8c8"/>
<path d="M254 135h5v5h-5zM267 138h5v5h-5zM238 146h5v5h-5z" fill="#960000"/>
<path d="M254 144h5v5h-5zM198 148h5v5h-5z" fill="#ff7878"/>
<path d="M136 159h5v5h-5zM214 157h5v5h-5zM274 158h5v5h-5z" fill="#960000"/>
<path d="M201 164h5v5h-5z" fill="#ff2828"/>
<path d="M116 171h5v5h-5zM176 169h5v5h-5z" fill="#960000"/>
<path d="M208 175h5v5h-5z" fill="#828282"/>
<path d="M170 178h5v5h-5z" fill="#ff7878"/>
<path d="M118 182h5v5h-5z" fill="#960000"/>
<path d="M151 183h5v5h-5z" fill="#ffc8c8"/>
<path d="M163 184h5v5h-5z" fill="#c8c8ff"/>
<path d="M199 186h5v5h-5zM105 191h5v5h-5z" fill="#ffc8c8"/>
<path d="M117 191h5v5h-5z" fill="#7878ff"/>
<path d="M124 194h5v5h-5zM109 195h5v5h-5z" fill="#960000"/>
<path d="M152 192h5v5h-5zM151 195h5v5h-5z" fill="#ff2828"/>
<path d="M193 197h5v5h-5z" fill="#ff7878"/>
<path d="M138 204h5v5h-5z" fill="#960000"/>
<path d="M123 210h5v5h-5z" fill="#ff7878"/>
<path d="M161 209h5v5h-5z" fill="#c8c8ff"/>
<path d="M165 211h5v5h-5z" fill="#2828ff"/>
<path d="M118 216h5v5h-5z" fill="#ff7878"/>
<path d="M176 217h5v5h-5z" fill="#c8c8ff"/>
<path d="M202 222h5v5h-5zM239 219h5v5h-5z" fill="#828282"/>
<path d="M164 226h5v5h-5z" fill="#ff7878"/>
<path d="M105 229h5v5h-5z" fill="#ffc8c8"/>
<path d="M136 224h5v5h-5z" fill="#828282"/>
<path d="M139 227h5v5h-5z" fill="#ff7878"/>
<path d="M175 231h5v5h-5z" fill="#c8c8ff"/>
<path d="M286 98h5v5h-5z" fill="#ff7878"/>
<path d="M308 96h5v5h-5z" fill="#828282"/>
<path d="M331 99h5v5h-5z" fill="#ff7878"/>
<path d="M329 109h5v5h-5z" fill="#ffc8c8"/>
<path d="M281 124h5v5h-5z" fill="#828282"/>
<path d="M304 138h5v5h-5zM281 147h5v5h-5z" fill="#ff2828"/>
<path d="M309 150h5v5h-5z" fill="#960000"/>
<path d="M308 167h5v5h-5z" fill="#ff2828"/>
<path d="M389 137h5v5h-5z" fill="#960000"/>
<path d="M447 132h5v5h-5zM415 155h5v5h-5z" fill="#828282"/>
<path d="M442 164h5v5h-5z" fill="#ffc8c8"/>
<path d="M371 174h5v5h-5z" fill="#ff2828"/>
<path d="M336 184h5v5h-5z" fill="#960000"/>
<path d="M382 186h5v5h-5z" fill="#ff7878"/>
<path d="M398 196h5v5h-5z" fill="#828282"/>
<path d="M420 199h5v5h-5z" fill="#c8c8ff"/>
<path d="M330 203h5v5h-5z" fill="#960000"/>
<path d="M366 211h5v5h-5zM387 208h5v5h-5z" fill="#ff2828"/>
<path d="M449 209h5v5h-5z" fill="#828282"/>
<path d="M319 221h5v5h-5zM340 223h5v5h-5z" fill="#960000"/>
<path d="M293 216h5v5h-5z" fill="#ff7878"/>
<path d="M266 216h5v5h-5z" fill="#c8c8ff"/>
<path d="M278 222h5v5h-5z" fill="#828282"/>
<path d="M308 229h5v5h-5z" fill="#960000"/>
<path d="M405 228h5v5h-5zM268 231h5v5h-5zM489 140h5v5h-5z" fill="#828282"/>
<path d="M520 123h5v5h-5z" fill="#ffc8c8"/>
<path d="M516 148h5v5h-5z" fill="#960000"/>
<path d="M542 140h5v5h-5z" fill="#ff7878"/>
<path d="M595 168h5v5h-5z" fill="#ff2828"/>
<path d="M570 178h5v5h-5z" fill="#ff7878"/>
<path d="M482 206h5v5h-5zM547 231h5v5h-5z" fill="#828282"/>
<path d="M115 231h5v5h-5z" fill="#ffc8c8"/>
<path d="M184 242h5v5h-5z" fill="#7878ff"/>
<path d="M192 247h5v5h-5z" fill="#c8c8ff"/>
<path d="M122 247h5v5h-5zM123 246h5v5h-5z" fill="#7878ff"/>
<path d="M140 253h5v5h-5z" fill="#c8c8ff"/>
<path d="M112 254h5v5h-5zM144 257h5v5h-5z" fill="#7878ff"/>
<path d="M146 258h5v5h-5z" fill="#c8c8ff"/>
<path d="M122 262h5v5h-5z" fill="#828282"/>
<path d="M107 264h5v5h-5z" fill="#ff7878"/>
<path d="M147 268h5v5h-5z" fill="#7878ff"/>
<path d="M118 283h5v5h-5z" fill="#828282"/>
<path d="M171 289h5v5h-5z" fill="#2828ff"/>
<path d="M144 302h5v5h-5z" fill="#c8c8ff"/>
<path d="M209 268h5v5h-5z" fill="#960000"/>
<path d="M210 274h5v5h-5z" fill="#ff7878"/>
<path d="M180 305h5v5h-5z" fill="#7878ff"/>
<path d="M254 222h5v5h-5zM247 228h5v5h-5z" fill="#828282"/>
<path d="M263 239h5v5h-5z" fill="#ff7878"/>
<path d="M276 242h5v5h-5z" fill="#ffc8c8"/>
<path d="M295 243h5v5h-5z" fill="#ff2828"/>
<path d="M256 247h5v5h-5z" fill="#ffc8c8"/>
<path d="M314 246h5v5h-5z" fill="#c8c8ff"/>
<path d="M268 253h5v5h-5z" fill="#ff7878"/>
<path d="M286 251h5v5h-5z" fill="#ffc8c8"/>
<path d="M312 254h5v5h-5zM336 254h5v5h-5zM243 261h5v5h-5z" fill="#c8c8ff"/>
<path d="M285 257h5v5h-5zM293 259h5v5h-5z" fill="#ffc8c8"/>
<path d="M318 258h5v5h-5z" fill="#c8c8ff"/>
<path d="M265 263h5v5h-5z" fill="#828282"/>
<path d="M281 263h5v5h-5z" fill="#ffc8c8"/>
<path d="M293 267h5v5h-5z" fill="#ff7878"/>
<path d="M302 271h5v5h-5z" fill="#ffc8c8"/>
<path d="M270 272h5v5h-5z" fill="#ff2828"/>
<path d="M303 278h5v5h-5z" fill="#828282"/>
<path d="M317 277h5v5h-5z" fill="#c8c8ff"/>
<path d="M349 275h5v5h-5z" fill="#ffc8c8"/>
<path d="M302 288h5v5h-5z" fill="#828282"/>
<path d="M327 285h5v5h-5z" fill="#ff7878"/>
<path d="M316 291h5v5h-5z" fill="#ff2828"/>
<path d="M298 297h5v5h-5z" fill="#ffc8c8"/>
<path d="M307 302h5v5h-5z" fill="#960000"/>
<path d="M354 295h5v5h-5zM360 304h5v5h-5z" fill="#c8c8ff"/>
<path d="M343 236h5v5h-5z" fill="#ffc8c8"/>
<path d="M419 231h5v5h-5z" fill="#c8c8ff"/>
<path d="M419 235h5v5h-5z" fill="#828282"/>
<path d="M433 235h5v5h-5z" fill="#ff7878"/>
<path d="M374 247h5v5h-5zM394 254h5v5h-5zM416 254h5v5h-5z" fill="#828282"/>
<path d="M379 267h5v5h-5z" fill="#ffc8c8"/>
<path d="M404 274h5v5h-5z" fill="#828282"/>
<path d="M377 284h5v5h-5zM508 244h5v5h-5zM370 320h5v5h-5z" fill="#ffc8c8"/>
<path d="M424 318h5v5h-5z" fill="#c8c8ff"/>
<path d="M488 338h5v5h-5z" fill="#ff7878"/>
<path d="M215 315h5v5h-5zM150 319h5v5h-5z" fill="#7878ff"/>
<path d="M174 320h5v5h-5z" fill="#c8c8ff"/>
<path d="M234 324h5v5h-5z" fill="#2828ff"/>
<path d="M190 336h5v5h-5z" fill="#ffc8c8"/>
<path d="M242 340h5v5h-5z" fill="#2828ff"/>
<path d="M269 344h5v5h-5z" fill="#7878ff"/>
<path d="M208 350h5v5h-5zM220 357h5v5h-5z" fill="#2828ff"/>
<path d="M154 362h5v5h-5z" fill="#c8c8ff"/>
<path d="M143 378h5v5h-5z" fill="#7878ff"/>
<path d="M159 382h5v5h-5z" fill="#2828ff"/>
<path d="M183 388h5v5h-5z" fill="#7878ff"/>
<path d="M186 386h5v5h-5z" fill="#2828ff"/>
<path d="M134 399h5v5h-5z" fill="#7878ff"/>
<path d="M187 402h5v5h-5z" fill="#2828ff"/>
<path d="M325 307h5v5h-5z" fill="#ff7878"/>
<path d="M296 311h5v5h-5z" fill="#828282"/>
<path d="M293 316h5v5h-5zM312 344h5v5h-5z" fill="#c8c8ff"/>
<path d="M347 359h5v5h-5z" fill="#2828ff"/>
<path d="M381 355h5v5h-5z" fill="#c8c8ff"/>
<path d="M332 378h5v5h-5z" fill="#2828ff"/>
<path d="M310 386h5v5h-5z" fill="#000096"/>
<path d="M361 394h5v5h-5z" fill="#2828ff"/>
<path d="M299 399h5v5h-5z" fill="#7878ff"/>
<path d="M407 408h5v5h-5zM338 426h5v5h-5zM340 426h5v5h-5z" fill="#2828ff"/>
<path d="M357 429h5v5h-5z" fill="#000096"/>
<path d="M604 317h5v5h-5z" fill="#ff2828"/>
<path d="M529 395h5v5h-5z" fill="#ff7878"/>
<g fill="none" stroke="#000" stroke-width="1" stroke-linecap="square" stroke-linejoin="round" shape-rendering="crispEdges"><use href="#d1" x="192.5" y="88.0"/><use href="#d0" x="199.5" y="88.0"/><use href="#d6" x="206.5" y="88.0"/><use href="#d1" x="181.5" y="96.8"/><use href="#d6" x="188.5" y="96.8"/><use href="#d5" x="195.5" y="96.8"/><use href="#d1" x="219.1" y="94.8"/><use href="#d4" x="226.1" y="94.8"/><use href="#d5" x="233.1" y="94.8"/><use href="#d1" x="196.9" y="104.8"/><use href="#d3" x="203.9" y="104.8"/><use href="#d6" x="210.9" y="104.8"/><use href="#d1" x="214.0" y="107.1"/><use href="#d4" x="221.0" y="107.1"/><use href="#d6" x="228.0" y="107.1"/><use href="#d2" x="219.9" y="119.8"/><use href="#d2" x="226.9" y="119.8"/><use href="#d5" x="233.9" y="119.8"/><use href="#d1" x="248.5" y="118.6"/><use href="#d5" x="255.5" y="118.6"/><use href="#d5" x="262.5" y="118.6"/><use href="#d1" x="270.7" y="115.8"/><use href="#d7" x="277.7" y="115.8"/><use href="#d3" x="284.7" y="115.8"/><use href="#d1" x="170.2" y="131.9"/><use href="#d5" x="177.2" y="131.9"/><use href="#d3" x="184.2" y="131.9"/><use href="#d1" x="188.4" y="128.6"/><use href="#d4" x="195.4" y="128.6"/><use href="#d2" x="202.4" y="128.6"/><use href="#d1" x="135.7" y="136.5"/><use href="#d2" x="142.7" y="136.5"/><use href="#d8" x="149.7" y="136.5"/><use href="#d2" x="215.9" y="134.4"/><use href="#d3" x="222.9" y="134.4"/><use href="#d4" x="229.9" y="134.4"/><use href="#d2" x="102.9" y="146.8"/><use href="#d1" x="109.9" y="146.8"/><use href="#d0" x="116.9" y="146.8"/><use href="#d2" x="140.7" y="148.7"/><use href="#d1" x="147.7" y="148.7"/><use href="#d0" x="154.7" y="148.7"/><use href="#d1" x="242.2" y="141.5"/><use href="#d4" x="249.2" y="141.5"/><use href="#d9" x="256.2" y="141.5"/><use href="#d2" x="257.3" y="137.8"/><use href="#d3" x="264.3" y="137.8"/><use href="#d4" x="271.3" y="137.8"/><use href="#d2" x="269.8" y="140.9"/><use href="#d2" x="276.8" y="140.9"/><use href="#d4" x="283.8" y="140.9"/><use href="#d2" x="241.0" y="149.0"/><use href="#d0" x="248.0" y="149.0"/><use href="#d7" x="255.0" y="149.0"/><use href="#d1" x="256.7" y="146.8"/><use href="#d6" x="263.7" y="146.8"/><use href="#d5" x="270.7" y="146.8"/><use href="#d1" x="200.9" y="150.7"/><use href="#d5" x="207.9" y="150.7"/><use href="#d4" x="214.9" y="150.7"/><use href="#d3" x="139.2" y="161.8"/><use href="#d1" x="146.2" y="161.8"/><use href="#d2" x="153.2" y="161.8"/><use href="#d2" x="217.2" y="159.7"/><use href="#d1" x="224.2" y="159.7"/><use href="#d3" x="231.2" y="159.7"/><use href="#d2" x="276.7" y="160.7"/><use href="#d0" x="283.7" y="160.7"/><use href="#d5" x="290.7" y="160.7"/><use href="#d1" x="204.0" y="167.2"/><use href="#d9" x="211.0" y="167.2"/><use href="#d5" x="218.0" y="167.2"/><use href="#d2" x="119.4" y="173.7"/><use href="#d8" x="126.4" y="173.7"/><use href="#d1" x="133.4" y="173.7"/><use href="#d2" x="179.6" y="171.6"/><use href="#d3" x="186.6" y="171.6"/><use href="#d9" x="193.6" y="171.6"/><use href="#d1" x="210.9" y="177.9"/><use href="#d1" x="217.9" y="177.9"/><use href="#d4" x="224.9" y="177.9"/><use href="#d1" x="173.3" y="181.0"/><use href="#d6" x="180.3" y="181.0"/><use href="#d0" x="187.3" y="181.0"/><use href="#d2" x="120.7" y="184.8"/><use href="#d3" x="127.7" y="184.8"/><use href="#d8" x="134.7" y="184.8"/><use href="#d1" x="154.5" y="186.0"/><use href="#d3" x="161.5" y="186.0"/><use href="#d0" x="168.5" y="186.0"/><use href="#d0" x="166.4" y="186.6"/><use href="#d8" x="173.4" y="186.6"/><use href="#d5" x="180.4" y="186.6"/><use href="#d1" x="202.1" y="188.5"/><use href="#d3" x="209.1" y="188.5"/><use href="#d0" x="216.1" y="188.5"/><use href="#d1" x="108.5" y="193.8"/><use href="#d3" x="115.5" y="193.8"/><use href="#d0" x="122.5" y="193.8"/><use href="#d0" x="120.1" y="194.1"/><use href="#d7" x="127.1" y="194.1"/><use href="#d3" x="134.1" y="194.1"/><use href="#d2" x="127.6" y="196.9"/><use href="#d6" x="134.6" y="196.9"/><use href="#d1" x="141.6" y="196.9"/><use href="#d2" x="112.5" y="197.9"/><use href="#d7" x="119.5" y="197.9"/><use href="#d9" x="126.5" y="197.9"/><use href="#d1" x="154.6" y="195.0"/><use href="#d8" x="161.6" y="195.0"/><use href="#d8" x="168.6" y="195.0"/><use href="#d1" x="154.0" y="198.2"/><use href="#d8" x="161.0" y="198.2"/><use href="#d2" x="168.0" y="198.2"/><use href="#d1" x="195.9" y="199.8"/><use href="#d5" x="202.9" y="199.8"/><use href="#d7" x="209.9" y="199.8"/><use href="#d2" x="141.4" y="206.7"/><use href="#d3" x="148.4" y="206.7"/><use href="#d9" x="155.4" y="206.7"/><use href="#d1" x="125.7" y="212.6"/><use href="#d6" x="132.7" y="212.6"/><use href="#d6" x="139.7" y="212.6"/><use href="#d0" x="163.9" y="212.1"/><use href="#d9" x="170.9" y="212.1"/><use href="#d5" x="177.9" y="212.1"/><use href="#d0" x="168.3" y="214.2"/><use href="#d4" x="175.3" y="214.2"/><use href="#d5" x="182.3" y="214.2"/><use href="#d1" x="120.7" y="218.8"/><use href="#d7" x="127.7" y="218.8"/><use href="#d1" x="134.7" y="218.8"/><use href="#d0" x="179.6" y="219.8"/><use href="#d8" x="186.6" y="219.8"/><use href="#d0" x="193.6" y="219.8"/><use href="#d1" x="204.6" y="224.9"/><use href="#d2" x="211.6" y="224.9"/><use href="#d0" x="218.6" y="224.9"/><use href="#d1" x="242.2" y="221.7"/><use href="#d1" x="249.2" y="221.7"/><use href="#d3" x="256.2" y="221.7"/><use href="#d1" x="167.1" y="228.9"/><use href="#d7" x="174.1" y="228.9"/><use href="#d3" x="181.1" y="228.9"/><use href="#d1" x="108.2" y="232.4"/><use href="#d3" x="115.2" y="232.4"/><use href="#d7" x="122.2" y="232.4"/><use href="#d1" x="139.5" y="227.1"/><use href="#d2" x="146.5" y="227.1"/><use href="#d2" x="153.5" y="227.1"/><use href="#d1" x="142.0" y="229.9"/><use href="#d6" x="149.0" y="229.9"/><use href="#d4" x="156.0" y="229.9"/><use href="#d0" x="178.3" y="233.6"/><use href="#d7" x="185.3" y="233.6"/><use href="#d8" x="192.3" y="233.6"/><use href="#d1" x="289.4" y="100.8"/><use href="#d5" x="296.4" y="100.8"/><use href="#d6" x="303.4" y="100.8"/><use href="#d1" x="310.7" y="99.2"/><use href="#d1" x="317.7" y="99.2"/><use href="#d6" x="324.7" y="99.2"/><use href="#d1" x="333.9" y="102.0"/><use href="#d5" x="340.9" y="102.0"/><use href="#d2" x="347.9" y="102.0"/><use href="#d1" x="332.0" y="111.8"/><use href="#d4" x="339.0" y="111.8"/><use href="#d3" x="346.0" y="111.8"/><use href="#d1" x="284.4" y="126.7"/><use href="#d1" x="291.4" y="126.7"/><use href="#d1" x="298.4" y="126.7"/><use href="#d1" x="307.0" y="140.9"/><use href="#d7" x="314.0" y="140.9"/><use href="#d6" x="321.0" y="140.9"/><use href="#d1" x="284.4" y="149.7"/><use href="#d8" x="291.4" y="149.7"/><use href="#d9" x="298.4" y="149.7"/><use href="#d2" x="312.6" y="152.8"/><use href="#d0" x="319.6" y="152.8"/><use href="#d3" x="326.6" y="152.8"/><use href="#d1" x="311.1" y="170.0"/><use href="#d7" x="318.1" y="170.0"/><use href="#d8" x="325.1" y="170.0"/><use href="#d2" x="392.2" y="139.6"/><use href="#d1" x="399.2" y="139.6"/><use href="#d4" x="406.2" y="139.6"/><use href="#d1" x="450.4" y="134.6"/><use href="#d1" x="457.4" y="134.6"/><use href="#d3" x="464.4" y="134.6"/><use href="#d1" x="418.5" y="157.8"/><use href="#d1" x="425.5" y="157.8"/><use href="#d6" x="432.5" y="157.8"/><use href="#d1" x="445.4" y="166.8"/><use href="#d4" x="452.4" y="166.8"/><use href="#d2" x="459.4" y="166.8"/><use href="#d1" x="373.7" y="176.9"/><use href="#d8" x="380.7" y="176.9"/><use href="#d0" x="387.7" y="176.9"/><use href="#d2" x="338.9" y="186.9"/><use href="#d6" x="345.9" y="186.9"/><use href="#d9" x="352.9" y="186.9"/><use href="#d1" x="385.5" y="188.5"/><use href="#d7" x="392.5" y="188.5"/><use href="#d1" x="399.5" y="188.5"/><use href="#d1" x="401.3" y="198.8"/><use href="#d1" x="408.3" y="198.8"/><use href="#d3" x="415.3" y="198.8"/><use href="#d0" x="422.9" y="201.9"/><use href="#d9" x="429.9" y="201.9"/><use href="#d4" x="436.9" y="201.9"/><use href="#d2" x="333.5" y="205.7"/><use href="#d9" x="340.5" y="205.7"/><use href="#d9" x="347.5" y="205.7"/><use href="#d1" x="369.4" y="213.8"/><use href="#d9" x="376.4" y="213.8"/><use href="#d5" x="383.4" y="213.8"/><use href="#d1" x="389.7" y="211.1"/><use href="#d8" x="396.7" y="211.1"/><use href="#d5" x="403.7" y="211.1"/><use href="#d1" x="452.3" y="211.7"/><use href="#d0" x="459.3" y="211.7"/><use href="#d6" x="466.3" y="211.7"/><use href="#d3" x="322.0" y="223.6"/><use href="#d1" x="329.0" y="223.6"/><use href="#d5" x="336.0" y="223.6"/><use href="#d2" x="343.0" y="226.1"/><use href="#d9" x="350.0" y="226.1"/><use href="#d8" x="357.0" y="226.1"/><use href="#d1" x="295.7" y="219.2"/><use href="#d6" x="302.7" y="219.2"/><use href="#d1" x="309.7" y="219.2"/><use href="#d0" x="268.7" y="219.2"/><use href="#d9" x="275.7" y="219.2"/><use href="#d8" x="282.7" y="219.2"/><use href="#d1" x="280.6" y="224.9"/><use href="#d1" x="287.6" y="224.9"/><use href="#d2" x="294.6" y="224.9"/><use href="#d2" x="310.7" y="232.4"/><use href="#d7" x="317.7" y="232.4"/><use href="#d7" x="324.7" y="232.4"/><use href="#d1" x="408.5" y="231.1"/><use href="#d2" x="415.5" y="231.1"/><use href="#d4" x="422.5" y="231.1"/><use href="#d1" x="270.6" y="233.6"/><use href="#d1" x="277.6" y="233.6"/><use href="#d7" x="284.6" y="233.6"/><use href="#d1" x="492.6" y="142.8"/><use href="#d0" x="499.6" y="142.8"/><use href="#d2" x="506.6" y="142.8"/><use href="#d1" x="522.7" y="125.9"/><use href="#d3" x="529.7" y="125.9"/><use href="#d7" x="536.7" y="125.9"/><use href="#d2" x="519.2" y="150.9"/><use href="#d7" x="526.2" y="150.9"/><use href="#d3" x="533.2" y="150.9"/><use href="#d1" x="545.5" y="143.4"/><use href="#d6" x="552.5" y="143.4"/><use href="#d6" x="559.5" y="143.4"/><use href="#d1" x="598.5" y="171.0"/><use href="#d7" x="605.5" y="171.0"/><use href="#d5" x="612.5" y="171.0"/><use href="#d1" x="573.4" y="181.0"/><use href="#d5" x="580.4" y="181.0"/><use href="#d2" x="587.4" y="181.0"/><use href="#d1" x="485.4" y="208.8"/><use href="#d1" x="492.4" y="208.8"/><use href="#d6" x="499.4" y="208.8"/><use href="#d1" x="550.2" y="233.6"/><use href="#d2" x="557.2" y="233.6"/><use href="#d2" x="564.2" y="233.6"/><use href="#d1" x="118.6" y="234.1"/><use href="#d4" x="125.6" y="234.1"/><use href="#d5" x="132.6" y="234.1"/><use href="#d0" x="187.3" y="244.9"/><use href="#d5" x="194.3" y="244.9"/><use href="#d9" x="201.3" y="244.9"/><use href="#d0" x="194.8" y="249.6"/><use href="#d8" x="201.8" y="249.6"/><use href="#d7" x="208.8" y="249.6"/><use href="#d0" x="124.7" y="250.1"/><use href="#d7" x="131.7" y="250.1"/><use href="#d2" x="138.7" y="250.1"/><use href="#d0" x="126.1" y="249.0"/><use href="#d7" x="133.1" y="249.0"/><use href="#d2" x="140.1" y="249.0"/><use href="#d0" x="143.2" y="256.0"/><use href="#d7" x="150.2" y="256.0"/><use href="#d6" x="157.2" y="256.0"/><use href="#d0" x="115.5" y="256.7"/><use href="#d7" x="122.5" y="256.7"/><use href="#d1" x="129.5" y="256.7"/><use href="#d0" x="147.3" y="260.0"/><use href="#d6" x="154.3" y="260.0"/><use href="#d6" x="161.3" y="260.0"/><use href="#d0" x="148.9" y="260.7"/><use href="#d8" x="155.9" y="260.7"/><use href="#d6" x="162.9" y="260.7"/><use href="#d1" x="125.0" y="265.2"/><use href="#d1" x="132.0" y="265.2"/><use href="#d3" x="139.0" y="265.2"/><use href="#d1" x="109.9" y="266.6"/><use href="#d6" x="116.9" y="266.6"/><use href="#d3" x="123.9" y="266.6"/><use href="#d0" x="149.6" y="270.8"/><use href="#d5" x="156.6" y="270.8"/><use href="#d4" x="163.6" y="270.8"/><use href="#d1" x="121.4" y="285.9"/><use href="#d1" x="128.4" y="285.9"/><use href="#d7" x="135.4" y="285.9"/><use href="#d0" x="174.6" y="292.0"/><use href="#d4" x="181.6" y="292.0"/><use href="#d7" x="188.6" y="292.0"/><use href="#d0" x="147.3" y="304.7"/><use href="#d8" x="154.3" y="304.7"/><use href="#d0" x="161.3" y="304.7"/><use href="#d2" x="212.2" y="270.8"/><use href="#d3" x="219.2" y="270.8"/><use href="#d0" x="226.2" y="270.8"/><use href="#d1" x="212.7" y="277.2"/><use href="#d5" x="219.7" y="277.2"/><use href="#d5" x="226.7" y="277.2"/><use href="#d0" x="183.1" y="307.6"/><use href="#d7" x="190.1" y="307.6"/><use href="#d3" x="197.1" y="307.6"/><use href="#d1" x="257.1" y="225.2"/><use href="#d1" x="264.1" y="225.2"/><use href="#d6" x="271.1" y="225.2"/><use href="#d1" x="249.6" y="230.8"/><use href="#d0" x="256.6" y="230.8"/><use href="#d3" x="263.6" y="230.8"/><use href="#d1" x="266.6" y="241.6"/><use href="#d7" x="273.6" y="241.6"/><use href="#d1" x="280.6" y="241.6"/><use href="#d1" x="278.8" y="244.9"/><use href="#d3" x="285.8" y="244.9"/><use href="#d9" x="292.8" y="244.9"/><use href="#d1" x="298.6" y="246.3"/><use href="#d8" x="305.6" y="246.3"/><use href="#d1" x="312.6" y="246.3"/><use href="#d1" x="259.5" y="249.9"/><use href="#d2" x="266.5" y="249.9"/><use href="#d5" x="273.5" y="249.9"/><use href="#d0" x="316.7" y="248.7"/><use href="#d9" x="323.7" y="248.7"/><use href="#d4" x="330.7" y="248.7"/><use href="#d1" x="271.6" y="255.8"/><use href="#d5" x="278.6" y="255.8"/><use href="#d4" x="285.6" y="255.8"/><use href="#d1" x="288.9" y="253.7"/><use href="#d2" x="295.9" y="253.7"/><use href="#d9" x="302.9" y="253.7"/><use href="#d0" x="315.1" y="256.9"/><use href="#d8" x="322.1" y="256.9"/><use href="#d3" x="329.1" y="256.9"/><use href="#d0" x="339.1" y="256.7"/><use href="#d9" x="346.1" y="256.7"/><use href="#d8" x="353.1" y="256.7"/><use href="#d0" x="245.8" y="263.8"/><use href="#d9" x="252.8" y="263.8"/><use href="#d1" x="259.8" y="263.8"/><use href="#d1" x="288.5" y="260.5"/><use href="#d3" x="295.5" y="260.5"/><use href="#d9" x="302.5" y="260.5"/><use href="#d1" x="296.2" y="261.9"/><use href="#d4" x="303.2" y="261.9"/><use href="#d7" x="310.2" y="261.9"/><use href="#d0" x="321.2" y="261.4"/><use href="#d9" x="328.2" y="261.4"/><use href="#d4" x="335.2" y="261.4"/><use href="#d1" x="268.0" y="265.9"/><use href="#d1" x="275.0" y="265.9"/><use href="#d8" x="282.0" y="265.9"/><use href="#d1" x="284.5" y="266.3"/><use href="#d3" x="291.5" y="266.3"/><use href="#d2" x="298.5" y="266.3"/><use href="#d1" x="295.8" y="270.1"/><use href="#d5" x="302.8" y="270.1"/><use href="#d7" x="309.8" y="270.1"/><use href="#d1" x="304.7" y="273.7"/><use href="#d3" x="311.7" y="273.7"/><use href="#d6" x="318.7" y="273.7"/><use href="#d1" x="273.2" y="275.3"/><use href="#d8" x="280.2" y="275.3"/><use href="#d4" x="287.2" y="275.3"/><use href="#d1" x="305.6" y="280.7"/><use href="#d1" x="312.6" y="280.7"/><use href="#d8" x="319.6" y="280.7"/><use href="#d0" x="319.8" y="279.8"/><use href="#d9" x="326.8" y="279.8"/><use href="#d3" x="333.8" y="279.8"/><use href="#d1" x="352.5" y="277.7"/><use href="#d2" x="359.5" y="277.7"/><use href="#d9" x="366.5" y="277.7"/><use href="#d1" x="305.2" y="290.8"/><use href="#d1" x="312.2" y="290.8"/><use href="#d5" x="319.2" y="290.8"/><use href="#d1" x="329.6" y="287.8"/><use href="#d6" x="336.6" y="287.8"/><use href="#d5" x="343.6" y="287.8"/><use href="#d1" x="318.6" y="294.4"/><use href="#d9" x="325.6" y="294.4"/><use href="#d6" x="332.6" y="294.4"/><use href="#d1" x="300.6" y="300.5"/><use href="#d4" x="307.6" y="300.5"/><use href="#d8" x="314.6" y="300.5"/><use href="#d2" x="309.7" y="304.7"/><use href="#d0" x="316.7" y="304.7"/><use href="#d4" x="323.7" y="304.7"/><use href="#d0" x="356.7" y="297.7"/><use href="#d9" x="363.7" y="297.7"/><use href="#d0" x="370.7" y="297.7"/><use href="#d0" x="363.5" y="306.8"/><use href="#d7" x="370.5" y="306.8"/><use href="#d8" x="377.5" y="306.8"/><use href="#d1" x="346.6" y="238.8"/><use href="#d4" x="353.6" y="238.8"/><use href="#d0" x="360.6" y="238.8"/><use href="#d0" x="422.2" y="233.7"/><use href="#d9" x="429.2" y="233.7"/><use href="#d7" x="436.2" y="233.7"/><use href="#d1" x="422.0" y="238.1"/><use href="#d1" x="429.0" y="238.1"/><use href="#d0" x="436.0" y="238.1"/><use href="#d1" x="436.2" y="238.4"/><use href="#d7" x="443.2" y="238.4"/><use href="#d0" x="450.2" y="238.4"/><use href="#d1" x="376.6" y="250.4"/><use href="#d0" x="383.6" y="250.4"/><use href="#d8" x="390.6" y="250.4"/><use href="#d1" x="396.7" y="256.9"/><use href="#d1" x="403.7" y="256.9"/><use href="#d5" x="410.7" y="256.9"/><use href="#d1" x="418.6" y="257.2"/><use href="#d2" x="425.6" y="257.2"/><use href="#d2" x="432.6" y="257.2"/><use href="#d1" x="382.5" y="269.8"/><use href="#d2" x="389.5" y="269.8"/><use href="#d9" x="396.5" y="269.8"/><use href="#d1" x="407.6" y="276.7"/><use href="#d2" x="414.6" y="276.7"/><use href="#d2" x="421.6" y="276.7"/><use href="#d1" x="379.6" y="286.7"/><use href="#d3" x="386.6" y="286.7"/><use href="#d4" x="393.6" y="286.7"/><use href="#d1" x="511.6" y="246.6"/><use href="#d3" x="518.6" y="246.6"/><use href="#d0" x="525.6" y="246.6"/><use href="#d1" x="372.9" y="323.1"/><use href="#d3" x="379.9" y="323.1"/><use href="#d3" x="386.9" y="323.1"/><use href="#d0" x="426.6" y="320.8"/><use href="#d8" x="433.6" y="320.8"/><use href="#d5" x="440.6" y="320.8"/><use href="#d1" x="490.7" y="340.9"/><use href="#d7" x="497.7" y="340.9"/><use href="#d1" x="504.7" y="340.9"/><use href="#d0" x="218.4" y="318.1"/><use href="#d6" x="225.4" y="318.1"/><use href="#d6" x="232.4" y="318.1"/><use href="#d0" x="153.5" y="321.8"/><use href="#d6" x="160.5" y="321.8"/><use href="#d2" x="167.5" y="321.8"/><use href="#d0" x="176.7" y="322.8"/><use href="#d9" x="183.7" y="322.8"/><use href="#d2" x="190.7" y="322.8"/><use href="#d0" x="237.6" y="326.8"/><use href="#d3" x="244.6" y="326.8"/><use href="#d0" x="251.6" y="326.8"/><use href="#d1" x="192.7" y="339.4"/><use href="#d3" x="199.7" y="339.4"/><use href="#d4" x="206.7" y="339.4"/><use href="#d0" x="245.1" y="342.9"/><use href="#d3" x="252.1" y="342.9"/><use href="#d4" x="259.1" y="342.9"/><use href="#d0" x="271.7" y="346.6"/><use href="#d6" x="278.7" y="346.6"/><use href="#d7" x="285.7" y="346.6"/><use href="#d0" x="211.5" y="352.9"/><use href="#d3" x="218.5" y="352.9"/><use href="#d5" x="225.5" y="352.9"/><use href="#d0" x="223.2" y="360.0"/><use href="#d4" x="230.2" y="360.0"/><use href="#d2" x="237.2" y="360.0"/><use href="#d0" x="157.0" y="365.3"/><use href="#d8" x="164.0" y="365.3"/><use href="#d1" x="171.0" y="365.3"/><use href="#d0" x="146.0" y="381.1"/><use href="#d5" x="153.0" y="381.1"/><use href="#d6" x="160.0" y="381.1"/><use href="#d0" x="161.6" y="384.8"/><use href="#d3" x="168.6" y="384.8"/><use href="#d3" x="175.6" y="384.8"/><use href="#d0" x="186.4" y="391.4"/><use href="#d5" x="193.4" y="391.4"/><use href="#d7" x="200.4" y="391.4"/><use href="#d0" x="188.9" y="389.5"/><use href="#d3" x="195.9" y="389.5"/><use href="#d4" x="202.9" y="389.5"/><use href="#d0" x="137.2" y="402.4"/><use href="#d5" x="144.2" y="402.4"/><use href="#d0" x="151.2" y="402.4"/><use href="#d0" x="189.9" y="404.8"/><use href="#d3" x="196.9" y="404.8"/><use href="#d3" x="203.9" y="404.8"/><use href="#d1" x="328.0" y="310.2"/><use href="#d6" x="335.0" y="310.2"/><use href="#d8" x="342.0" y="310.2"/><use href="#d1" x="299.4" y="313.7"/><use href="#d0" x="306.4" y="313.7"/><use href="#d9" x="313.4" y="313.7"/><use href="#d0" x="295.9" y="318.7"/><use href="#d9" x="302.9" y="318.7"/><use href="#d5" x="309.9" y="318.7"/><use href="#d0" x="314.7" y="346.9"/><use href="#d8" x="321.7" y="346.9"/><use href="#d5" x="328.7" y="346.9"/><use href="#d0" x="349.9" y="362.0"/><use href="#d4" x="356.9" y="362.0"/><use href="#d2" x="363.9" y="362.0"/><use href="#d0" x="384.4" y="357.9"/><use href="#d8" x="391.4" y="357.9"/><use href="#d5" x="398.4" y="357.9"/><use href="#d0" x="335.5" y="380.8"/><use href="#d3" x="342.5" y="380.8"/><use href="#d0" x="349.5" y="380.8"/><use href="#d0" x="313.6" y="388.9"/><use href="#d1" x="320.6" y="388.9"/><use href="#d5" x="327.6" y="388.9"/><use href="#d0" x="363.7" y="397.0"/><use href="#d3" x="370.7" y="397.0"/><use href="#d2" x="377.7" y="397.0"/><use href="#d0" x="301.7" y="401.8"/><use href="#d5" x="308.7" y="401.8"/><use href="#d5" x="315.7" y="401.8"/><use href="#d0" x="410.0" y="410.8"/><use href="#d4" x="417.0" y="410.8"/><use href="#d2" x="424.0" y="410.8"/><use href="#d0" x="340.6" y="429.0"/><use href="#d3" x="347.6" y="429.0"/><use href="#d2" x="354.6" y="429.0"/><use href="#d0" x="343.1" y="429.0"/><use href="#d3" x="350.1" y="429.0"/><use href="#d4" x="357.1" y="429.0"/><use href="#d0" x="360.0" y="432.0"/><use href="#d1" x="367.0" y="432.0"/><use href="#d6" x="374.0" y="432.0"/><use href="#d1" x="606.7" y="319.9"/><use href="#d8" x="613.7" y="319.9"/><use href="#d7" x="620.7" y="319.9"/><use href="#d1" x="532.5" y="397.8"/><use href="#d5" x="539.5" y="397.8"/><use href="#d4" x="546.5" y="397.8"/></g>
</g>
<use href="#frame"/>
<path d="M278.0 57.3L278.0 72.0M278.0 57.3L286.4 57.3M278.0 64.3L283.2 64.3M296.6 64.3L295.3 62.9L294.0 62.2L292.1 62.2L290.8 62.9L289.6 64.3L288.9 66.4L288.9 67.8L289.6 69.9L290.8 71.3L292.1 72.0L294.0 72.0L295.3 71.3L296.6 69.9M301.7 57.3L301.7 69.2L302.3 71.3L303.6 72.0L304.9 72.0M299.8 62.2L304.2 62.2M308.7 65.7L320.2 65.7M334.3 60.8L333.6 59.4L332.4 58.0L331.1 57.3L328.5 57.3L327.3 58.0L326.0 59.4L325.3 60.8L324.7 62.9L324.7 66.4L325.3 68.5L326.0 69.9L327.3 71.3L328.5 72.0L331.1 72.0L332.4 71.3L333.6 69.9L334.3 68.5M338.8 57.3L338.8 72.0M343.2 57.3L343.9 58.0L344.5 57.3L343.9 56.6L343.2 57.3M343.9 62.2L343.9 72.0M349.0 62.2L349.0 72.0M349.0 65.0L350.9 62.9L352.2 62.2L354.1 62.2L355.4 62.9L356.0 65.0L356.0 72.0M356.0 65.0L357.9 62.9L359.2 62.2L361.1 62.2L362.4 62.9L363.0 65.0L363.0 72.0M378.4 57.3L378.4 72.0M378.4 72.0L386.0 72.0M388.6 66.4L396.3 66.4L396.3 65.0L395.6 63.6L395.0 62.9L393.7 62.2L391.8 62.2L390.5 62.9L389.2 64.3L388.6 66.4L388.6 67.8L389.2 69.9L390.5 71.3L391.8 72.0L393.7 72.0L395.0 71.3L396.3 69.9M407.8 62.2L407.8 72.0M407.8 64.3L406.5 62.9L405.2 62.2L403.3 62.2L402.0 62.9L400.7 64.3L400.1 66.4L400.1 67.8L400.7 69.9L402.0 71.3L403.3 72.0L405.2 72.0L406.5 71.3L407.8 69.9M419.9 57.3L419.9 72.0M419.9 64.3L418.6 62.9L417.4 62.2L415.4 62.2L414.2 62.9L412.9 64.3L412.2 66.4L412.2 67.8L412.9 69.9L414.2 71.3L415.4 72.0L417.4 72.0L418.6 71.3L419.9 69.9M435.2 57.3L435.2 72.0M435.2 57.3L440.4 72.0M445.5 57.3L440.4 72.0M445.5 57.3L445.5 72.0M453.1 62.2L451.9 62.9L450.6 64.3L449.9 66.4L449.9 67.8L450.6 69.9L451.9 71.3L453.1 72.0L455.1 72.0L456.3 71.3L457.6 69.9L458.2 67.8L458.2 66.4L457.6 64.3L456.3 62.9L455.1 62.2L453.1 62.2M462.7 62.2L462.7 72.0M462.7 65.0L464.6 62.9L465.9 62.2L467.8 62.2L469.1 62.9L469.7 65.0L469.7 72.0M475.5 57.3L475.5 69.2L476.1 71.3L477.4 72.0L478.7 72.0M473.6 62.2L478.1 62.2M482.5 57.3L482.5 72.0M482.5 65.0L484.4 62.9L485.7 62.2L487.6 62.2L488.9 62.9L489.6 65.0L489.6 72.0M494.7 63.6L506.2 63.6M494.7 67.8L506.2 67.8M511.3 60.8L511.3 60.1L511.9 58.7L512.6 58.0L513.8 57.3L516.4 57.3L517.7 58.0L518.3 58.7L519.0 60.1L519.0 61.5L518.3 62.9L517.0 65.0L510.6 72.0L519.6 72.0" fill="none" stroke="#000" stroke-width="2" stroke-linecap="round" stroke-linejoin="round" shape-rendering="crispEdges"/>
</g>
<g transform="translate(0,600)">
<use href="#map"/>
<g shape-rendering="crispEdges">
<path d="M189 85h5v5h-5zM178 94h5v5h-5zM216 92h5v5h-5zM194 102h5v5h-5zM211 104h5v5h-5zM217 117h5v5h-5zM245 116h5v5h-5zM268 113h5v5h-5zM167 129h5v5h-5z" fill="#960000"/>
<path d="M185 126h5v5h-5z" fill="#ff2828"/>
<path d="M133 134h5v5h-5zM213 131h5v5h-5zM100 144h5v5h-5zM138 146h5v5h-5zM239 139h5v5h-5zM254 135h5v5h-5zM267 138h5v5h-5zM238 146h5v5h-5z" fill="#960000"/>
<path d="M254 144h5v5h-5z" fill="#ffc8c8"/>
<path d="M198 148h5v5h-5zM136 159h5v5h-5zM214 157h5v5h-5zM274 158h5v5h-5zM201 164h5v5h-5zM116 171h5v5h-5zM176 169h5v5h-5z" fill="#960000"/>
<path d="M208 175h5v5h-5z" fill="#ff7878"/>
<path d="M170 178h5v5h-5zM118 182h5v5h-5zM151 183h5v5h-5z" fill="#960000"/>
<path d="M163 184h5v5h-5z" fill="#ff7878"/>
<path d="M199 186h5v5h-5z" fill="#c8c8ff"/>
<path d="M105 191h5v5h-5z" fill="#960000"/>
<path d="M118 191h5v5h-5z" fill="#ffc8c8"/>
<path d="M124 194h5v5h-5zM109 195h5v5h-5zM152 192h5v5h-5zM151 195h5v5h-5zM193 197h5v5h-5zM138 204h5v5h-5zM109 204h5v5h-5zM123 210h5v5h-5zM161 209h5v5h-5zM165 211h5v5h-5zM173 206h5v5h-5zM118 216h5v5h-5zM176 217h5v5h-5zM202 222h5v5h-5zM239 219h5v5h-5zM164 226h5v5h-5zM105 229h5v5h-5zM136 224h5v5h-5zM139 227h5v5h-5zM175 231h5v5h-5z" fill="#960000"/>
<path d="M286 98h5v5h-5z" fill="#ff2828"/>
<path d="M308 96h5v5h-5z" fill="#828282"/>
<path d="M331 99h5v5h-5z" fill="#ff7878"/>
<path d="M329 109h5v5h-5z" fill="#ffc8c8"/>
<path d="M281 124h5v5h-5zM304 138h5v5h-5z" fill="#ff7878"/>
<path d="M281 147h5v5h-5zM309 150h5v5h-5zM308 167h5v5h-5z" fill="#960000"/>
<path d="M389 137h5v5h-5z" fill="#c8c8ff"/>
<path d="M447 132h5v5h-5z" fill="#828282"/>
<path d="M415 155h5v5h-5z" fill="#ffc8c8"/>
<path d="M442 164h5v5h-5z" fill="#ff7878"/>
<path d="M371 174h5v5h-5z" fill="#ff2828"/>
<path d="M336 184h5v5h-5zM382 186h5v5h-5z" fill="#960000"/>
<path d="M398 196h5v5h-5z" fill="#ff7878"/>
<path d="M420 199h5v5h-5z" fill="#ffc8c8"/>
<path d="M330 203h5v5h-5zM366 211h5v5h-5z" fill="#960000"/>
<path d="M387 208h5v5h-5z" fill="#ffc8c8"/>
<path d="M449 209h5v5h-5z" fill="#c8c8ff"/>
<path d="M319 221h5v5h-5zM340 223h5v5h-5zM293 216h5v5h-5zM266 216h5v5h-5zM278 222h5v5h-5zM308 229h5v5h-5zM405 228h5v5h-5zM298 190h5v5h-5z" fill="#960000"/>
<path d="M444 181h5v5h-5z" fill="#ffc8c8"/>
<path d="M268 231h5v5h-5z" fill="#960000"/>
<path d="M489 140h5v5h-5z" fill="#ffc8c8"/>
<path d="M520 123h5v5h-5zM516 148h5v5h-5zM542 140h5v5h-5z" fill="#960000"/>
<path d="M595 168h5v5h-5z" fill="#ff2828"/>
<path d="M570 178h5v5h-5z" fill="#828282"/>
<path d="M482 206h5v5h-5z" fill="#c8c8ff"/>
<path d="M547 231h5v5h-5z" fill="#ff7878"/>
<path d="M476 169h5v5h-5zM115 231h5v5h-5zM184 242h5v5h-5zM192 247h5v5h-5zM122 247h5v5h-5zM139 253h5v5h-5zM112 254h5v5h-5z" fill="#960000"/>
<path d="M144 257h5v5h-5z" fill="#ff7878"/>
<path d="M121 262h5v5h-5zM107 264h5v5h-5z" fill="#960000"/>
<path d="M147 268h5v5h-5z" fill="#ff7878"/>
<path d="M118 283h5v5h-5z" fill="#960000"/>
<path d="M171 289h5v5h-5z" fill="#c8c8ff"/>
<path d="M144 302h5v5h-5zM209 268h5v5h-5zM210 274h5v5h-5z" fill="#960000"/>
<path d="M180 305h5v5h-5z" fill="#828282"/>
<path d="M271 214h5v5h-5zM254 222h5v5h-5zM247 228h5v5h-5zM263 239h5v5h-5zM276 242h5v5h-5zM295 243h5v5h-5zM256 247h5v5h-5zM314 246h5v5h-5zM268 253h5v5h-5zM286 251h5v5h-5zM313 254h5v5h-5zM336 254h5v5h-5zM243 261h5v5h-5zM285 257h5v5h-5zM293 259h5v5h-5zM318 258h5v5h-5zM265 263h5v5h-5zM281 263h5v5h-5zM293 267h5v5h-5zM302 271h5v5h-5zM270 272h5v5h-5zM303 278h5v5h-5zM317 277h5v5h-5zM349 275h5v5h-5zM302 288h5v5h-5zM327 285h5v5h-5zM316 291h5v5h-5zM298 297h5v5h-5zM307 302h5v5h-5zM354 295h5v5h-5zM360 304h5v5h-5zM343 236h5v5h-5zM419 231h5v5h-5zM419 235h5v5h-5zM433 235h5v5h-5zM374 247h5v5h-5zM394 254h5v5h-5z" fill="#960000"/>
<path d="M416 254h5v5h-5z" fill="#ff7878"/>
<path d="M379 267h5v5h-5zM404 274h5v5h-5zM377 284h5v5h-5z" fill="#960000"/>
<path d="M508 244h5v5h-5z" fill="#828282"/>
<path d="M370 320h5v5h-5z" fill="#960000"/>
<path d="M424 318h5v5h-5z" fill="#c8c8ff"/>
<path d="M488 338h5v5h-5z" fill="#ffc8c8"/>
<path d="M215 315h5v5h-5z" fill="#828282"/>
<path d="M150 319h5v5h-5zM174 320h5v5h-5z" fill="#960000"/>
<path d="M234 324h5v5h-5z" fill="#828282"/>
<path d="M190 336h5v5h-5z" fill="#960000"/>
<path d="M242 340h5v5h-5z" fill="#2828ff"/>
<path d="M269 344h5v5h-5z" fill="#c8c8ff"/>
<path d="M208 350h5v5h-5z" fill="#7878ff"/>
<path d="M220 357h5v5h-5z" fill="#2828ff"/>
<path d="M154 362h5v5h-5z" fill="#c8c8ff"/>
<path d="M143 378h5v5h-5z" fill="#828282"/>
<path d="M159 382h5v5h-5zM183 388h5v5h-5zM186 386h5v5h-5z" fill="#000096"/>
<path d="M134 399h5v5h-5z" fill="#2828ff"/>
<path d="M187 402h5v5h-5z" fill="#000096"/>
<path d="M325 307h5v5h-5z" fill="#ff2828"/>
<path d="M296 311h5v5h-5zM293 316h5v5h-5z" fill="#ff7878"/>
<path d="M312 344h5v5h-5z" fill="#7878ff"/>
<path d="M347 359h5v5h-5z" fill="#c8c8ff"/>
<path d="M381 355h5v5h-5z" fill="#960000"/>
<path d="M332 378h5v5h-5z" fill="#c8c8ff"/>
<path d="M310 386h5v5h-5z" fill="#2828ff"/>
<path d="M361 394h5v5h-5z" fill="#c8c8ff"/>
<path d="M299 399h5v5h-5z" fill="#ff7878"/>
<path d="M407 408h5v5h-5z" fill="#828282"/>
<path d="M338 426h5v5h-5zM340 426h5v5h-5z" fill="#2828ff"/>
<path d="M357 429h5v5h-5z" fill="#000096"/>
<path d="M604 317h5v5h-5z" fill="#960000"/>
<path d="M529 395h5v5h-5z" fill="#ffc8c8"/>
<g fill="none" stroke="#000" stroke-width="1" stroke-linecap="square" stroke-linejoin="round" shape-rendering="crispEdges"><use href="#d2" x="192.5" y="88.0"/><use href="#d3" x="199.5" y="88.0"/><use href="#d7" x="206.5" y="88.0"/><use href="#d2" x="181.5" y="96.8"/><use href="#d8" x="188.5" y="96.8"/><use href="#d5" x="195.5" y="96.8"/><use href="#d2" x="219.1" y="94.8"/><use href="#d1" x="226.1" y="94.8"/><use href="#d0" x="233.1" y="94.8"/><use href="#d2" x="196.9" y="104.8"/><use href="#d3" x="203.9" y="104.8"/><use href="#d2" x="210.9" y="104.8"/><use href="#d3" x="214.0" y="107.1"/><use href="#d3" x="221.0" y="107.1"/><use href="#d7" x="228.0" y="107.1"/><use href="#d4" x="219.9" y="119.8"/><use href="#d8" x="226.9" y="119.8"/><use href="#d7" x="233.9" y="119.8"/><use href="#d3" x="248.5" y="118.6"/><use href="#d6" x="255.5" y="118.6"/><use href="#d1" x="262.5" y="118.6"/><use href="#d3" x="270.7" y="115.8"/><use href="#d4" x="277.7" y="115.8"/><use href="#d6" x="284.7" y="115.8"/><use href="#d6" x="170.2" y="131.9"/><use href="#d9" x="177.2" y="131.9"/><use href="#d8" x="184.2" y="131.9"/><use href="#d1" x="188.4" y="128.6"/><use href="#d8" x="195.4" y="128.6"/><use href="#d3" x="202.4" y="128.6"/><use href="#d7" x="135.7" y="136.5"/><use href="#d0" x="142.7" y="136.5"/><use href="#d4" x="149.7" y="136.5"/><use href="#d4" x="215.9" y="134.4"/><use href="#d0" x="222.9" y="134.4"/><use href="#d0" x="229.9" y="134.4"/><use href="#ds" x="102.9" y="146.8"/><use href="#ds" x="108.5" y="146.8"/><use href="#ds" x="114.1" y="146.8"/><use href="#d8" x="140.7" y="148.7"/><use href="#d6" x="147.7" y="148.7"/><use href="#d0" x="154.7" y="148.7"/><use href="#d2" x="242.2" y="141.5"/><use href="#d9" x="249.2" y="141.5"/><use href="#d5" x="256.2" y="141.5"/><use href="#d2" x="257.3" y="137.8"/><use href="#d3" x="264.3" y="137.8"/><use href="#d9" x="271.3" y="137.8"/><use href="#d2" x="269.8" y="140.9"/><use href="#d9" x="276.8" y="140.9"/><use href="#d1" x="283.8" y="140.9"/><use href="#d3" x="241.0" y="149.0"/><use href="#d3" x="248.0" y="149.0"/><use href="#d0" x="255.0" y="149.0"/><use href="#d1" x="256.7" y="146.8"/><use href="#d3" x="263.7" y="146.8"/><use href="#d5" x="270.7" y="146.8"/><use href="#d3" x="200.9" y="150.7"/><use href="#d0" x="207.9" y="150.7"/><use href="#d7" x="214.9" y="150.7"/><use href="#d8" x="139.2" y="161.8"/><use href="#d0" x="146.2" y="161.8"/><use href="#d6" x="153.2" y="161.8"/><use href="#ds" x="217.2" y="159.7"/><use href="#ds" x="222.8" y="159.7"/><use href="#ds" x="228.4" y="159.7"/><use href="#ds" x="276.7" y="160.7"/><use href="#ds" x="282.3" y="160.7"/><use href="#ds" x="287.9" y="160.7"/><use href="#d4" x="204.0" y="167.2"/><use href="#d4" x="211.0" y="167.2"/><use href="#d7" x="218.0" y="167.2"/><use href="#d6" x="119.4" y="173.7"/><use href="#d1" x="126.4" y="173.7"/><use href="#d7" x="133.4" y="173.7"/><use href="#d8" x="179.6" y="171.6"/><use href="#d6" x="186.6" y="171.6"/><use href="#d3" x="193.6" y="171.6"/><use href="#d1" x="210.9" y="177.9"/><use href="#d6" x="217.9" y="177.9"/><use href="#d8" x="224.9" y="177.9"/><use href="#d3" x="173.3" y="181.0"/><use href="#d5" x="180.3" y="181.0"/><use href="#d7" x="187.3" y="181.0"/><use href="#d4" x="120.7" y="184.8"/><use href="#d3" x="127.7" y="184.8"/><use href="#d9" x="134.7" y="184.8"/><use href="#d2" x="154.5" y="186.0"/><use href="#d8" x="161.5" y="186.0"/><use href="#d1" x="168.5" y="186.0"/><use href="#d1" x="166.4" y="186.6"/><use href="#d5" x="173.4" y="186.6"/><use href="#d5" x="180.4" y="186.6"/><use href="#d0" x="202.1" y="188.5"/><use href="#d8" x="209.1" y="188.5"/><use href="#d7" x="216.1" y="188.5"/><use href="#d4" x="108.5" y="193.8"/><use href="#d1" x="115.5" y="193.8"/><use href="#d7" x="122.5" y="193.8"/><use href="#d1" x="121.3" y="194.1"/><use href="#d3" x="128.3" y="194.1"/><use href="#d7" x="135.3" y="194.1"/><use href="#d3" x="127.6" y="196.9"/><use href="#d0" x="134.6" y="196.9"/><use href="#d9" x="141.6" y="196.9"/><use href="#d9" x="112.5" y="197.9"/><use href="#d3" x="119.5" y="197.9"/><use href="#d7" x="126.5" y="197.9"/><use href="#d3" x="154.6" y="195.0"/><use href="#d2" x="161.6" y="195.0"/><use href="#d7" x="168.6" y="195.0"/><use href="#d3" x="154.0" y="198.2"/><use href="#d8" x="161.0" y="198.2"/><use href="#d2" x="168.0" y="198.2"/><use href="#ds" x="195.9" y="199.8"/><use href="#ds" x="201.5" y="199.8"/><use href="#ds" x="207.1" y="199.8"/><use href="#d2" x="141.4" y="206.7"/><use href="#d7" x="148.4" y="206.7"/><use href="#d4" x="155.4" y="206.7"/><use href="#ds" x="112.5" y="206.7"/><use href="#ds" x="118.1" y="206.7"/><use href="#ds" x="123.7" y="206.7"/><use href="#d2" x="125.7" y="212.6"/><use href="#d3" x="132.7" y="212.6"/><use href="#d5" x="139.7" y="212.6"/><use href="#d9" x="163.9" y="212.1"/><use href="#d6" x="170.9" y="212.1"/><use href="#d0" x="177.9" y="212.1"/><use href="#d6" x="168.3" y="214.2"/><use href="#d4" x="175.3" y="214.2"/><use href="#d4" x="182.3" y="214.2"/><use href="#ds" x="176.6" y="208.8"/><use href="#ds" x="182.2" y="208.8"/><use href="#ds" x="187.8" y="208.8"/><use href="#d3" x="120.7" y="218.8"/><use href="#d6" x="127.7" y="218.8"/><use href="#d5" x="134.7" y="218.8"/><use href="#d3" x="179.6" y="219.8"/><use href="#d1" x="186.6" y="219.8"/><use href="#d8" x="193.6" y="219.8"/><use href="#ds" x="204.6" y="224.9"/><use href="#ds" x="210.2" y="224.9"/><use href="#ds" x="215.8" y="224.9"/><use href="#ds" x="242.2" y="221.7"/><use href="#ds" x="247.8" y="221.7"/><use href="#ds" x="253.4" y="221.7"/><use href="#ds" x="167.1" y="228.9"/><use href="#ds" x="172.7" y="228.9"/><use href="#ds" x="178.3" y="228.9"/><use href="#d8" x="108.2" y="232.4"/><use href="#d6" x="115.2" y="232.4"/><use href="#d9" x="122.2" y="232.4"/><use href="#ds" x="139.5" y="226.7"/><use href="#ds" x="145.1" y="226.7"/><use href="#ds" x="150.7" y="226.7"/><use href="#ds" x="142.0" y="229.9"/><use href="#ds" x="147.6" y="229.9"/><use href="#ds" x="153.2" y="229.9"/><use href="#ds" x="178.3" y="233.6"/><use href="#ds" x="183.9" y="233.6"/><use href="#ds" x="189.5" y="233.6"/><use href="#d1" x="289.4" y="100.8"/><use href="#d8" x="296.4" y="100.8"/><use href="#d8" x="303.4" y="100.8"/><use href="#d1" x="310.7" y="99.2"/><use href="#d1" x="317.7" y="99.2"/><use href="#d1" x="324.7" y="99.2"/><use href="#d1" x="333.9" y="102.0"/><use href="#d5" x="340.9" y="102.0"/><use href="#d9" x="347.9" y="102.0"/><use href="#d1" x="332.0" y="111.8"/><use href="#d2" x="339.0" y="111.8"/><use href="#d8" x="346.0" y="111.8"/><use href="#d1" x="284.4" y="126.7"/><use href="#d7" x="291.4" y="126.7"/><use href="#d4" x="298.4" y="126.7"/><use href="#d1" x="307.0" y="140.9"/><use href="#d6" x="314.0" y="140.9"/><use href="#d5" x="321.0" y="140.9"/><use href="#d2" x="284.4" y="149.7"/><use href="#d2" x="291.4" y="149.7"/><use href="#d8" x="298.4" y="149.7"/><use href="#d2" x="312.6" y="152.8"/><use href="#d1" x="319.6" y="152.8"/><use href="#d6" x="326.6" y="152.8"/><use href="#d6" x="311.1" y="170.0"/><use href="#d4" x="318.1" y="170.0"/><use href="#d8" x="325.1" y="170.0"/><use href="#d0" x="392.2" y="139.6"/><use href="#d7" x="399.2" y="139.6"/><use href="#d5" x="406.2" y="139.6"/><use href="#d1" x="450.4" y="134.6"/><use href="#d0" x="457.4" y="134.6"/><use href="#d9" x="464.4" y="134.6"/><use href="#d1" x="418.5" y="157.8"/><use href="#d4" x="425.5" y="157.8"/><use href="#d2" x="432.5" y="157.8"/><use href="#d1" x="445.4" y="166.8"/><use href="#d5" x="452.4" y="166.8"/><use href="#d1" x="459.4" y="166.8"/><use href="#d1" x="373.7" y="176.9"/><use href="#d8" x="380.7" y="176.9"/><use href="#d8" x="387.7" y="176.9"/><use href="#d8" x="338.9" y="186.9"/><use href="#d4" x="345.9" y="186.9"/><use href="#d2" x="352.9" y="186.9"/><use href="#d3" x="385.5" y="188.5"/><use href="#d4" x="392.5" y="188.5"/><use href="#d7" x="399.5" y="188.5"/><use href="#d1" x="401.3" y="198.8"/><use href="#d5" x="408.3" y="198.8"/><use href="#d1" x="415.3" y="198.8"/><use href="#d1" x="422.9" y="201.9"/><use href="#d4" x="429.9" y="201.9"/><use href="#d6" x="436.9" y="201.9"/><use href="#d4" x="333.5" y="205.7"/><use href="#d1" x="340.5" y="205.7"/><use href="#d5" x="347.5" y="205.7"/><use href="#d3" x="369.4" y="213.8"/><use href="#d2" x="376.4" y="213.8"/><use href="#d3" x="383.4" y="213.8"/><use href="#d1" x="389.7" y="211.1"/><use href="#d3" x="396.7" y="211.1"/><use href="#d4" x="403.7" y="211.1"/><use href="#d0" x="452.3" y="211.7"/><use href="#d8" x="459.3" y="211.7"/><use href="#d3" x="466.3" y="211.7"/><use href="#d5" x="322.0" y="223.6"/><use href="#d4" x="329.0" y="223.6"/><use href="#d3" x="336.0" y="223.6"/><use href="#d3" x="343.0" y="226.1"/><use href="#d7" x="350.0" y="226.1"/><use href="#d2" x="357.0" y="226.1"/><use href="#ds" x="295.7" y="219.2"/><use href="#ds" x="301.3" y="219.2"/><use href="#ds" x="306.9" y="219.2"/><use href="#d6" x="268.7" y="219.2"/><use href="#d5" x="275.7" y="219.2"/><use href="#d5" x="282.7" y="219.2"/><use href="#d9" x="280.6" y="224.9"/><use href="#d0" x="287.6" y="224.9"/><use href="#d2" x="294.6" y="224.9"/><use href="#d6" x="310.7" y="232.4"/><use href="#d3" x="317.7" y="232.4"/><use href="#d4" x="324.7" y="232.4"/><use href="#d2" x="408.5" y="231.1"/><use href="#d4" x="415.5" y="231.1"/><use href="#d8" x="422.5" y="231.1"/><use href="#ds" x="300.7" y="192.9"/><use href="#ds" x="306.3" y="192.9"/><use href="#ds" x="311.9" y="192.9"/><use href="#d1" x="446.9" y="184.1"/><use href="#d2" x="453.9" y="184.1"/><use href="#d9" x="460.9" y="184.1"/><use href="#ds" x="270.6" y="233.6"/><use href="#ds" x="276.2" y="233.6"/><use href="#ds" x="281.8" y="233.6"/><use href="#d1" x="492.6" y="142.8"/><use href="#d2" x="499.6" y="142.8"/><use href="#d5" x="506.6" y="142.8"/><use href="#d2" x="522.7" y="125.9"/><use href="#d8" x="529.7" y="125.9"/><use href="#d6" x="536.7" y="125.9"/><use href="#d2" x="519.2" y="150.9"/><use href="#d4" x="526.2" y="150.9"/><use href="#d2" x="533.2" y="150.9"/><use href="#d2" x="545.5" y="143.4"/><use href="#d0" x="552.5" y="143.4"/><use href="#d6" x="559.5" y="143.4"/><use href="#d1" x="598.5" y="171.0"/><use href="#d8" x="605.5" y="171.0"/><use href="#d7" x="612.5" y="171.0"/><use href="#d1" x="573.4" y="181.0"/><use href="#d1" x="580.4" y="181.0"/><use href="#d0" x="587.4" y="181.0"/><use href="#d0" x="485.4" y="208.8"/><use href="#d9" x="492.4" y="208.8"/><use href="#d6" x="499.4" y="208.8"/><use href="#d1" x="550.2" y="233.6"/><use href="#d7" x="557.2" y="233.6"/><use href="#d3" x="564.2" y="233.6"/><use href="#d2" x="478.8" y="171.8"/><use href="#d4" x="485.8" y="171.8"/><use href="#d4" x="492.8" y="171.8"/><use href="#d8" x="118.6" y="234.1"/><use href="#d9" x="125.6" y="234.1"/><use href="#d9" x="132.6" y="234.1"/><use href="#ds" x="187.3" y="244.9"/><use href="#ds" x="192.9" y="244.9"/><use href="#ds" x="198.5" y="244.9"/><use href="#ds" x="194.8" y="249.6"/><use href="#ds" x="200.4" y="249.6"/><use href="#ds" x="206.0" y="249.6"/><use href="#d8" x="124.7" y="250.1"/><use href="#d2" x="131.7" y="250.1"/><use href="#d0" x="138.7" y="250.1"/><use href="#d3" x="142.6" y="255.8"/><use href="#d8" x="149.6" y="255.8"/><use href="#d0" x="156.6" y="255.8"/><use href="#d7" x="115.5" y="256.7"/><use href="#d4" x="122.5" y="256.7"/><use href="#d5" x="129.5" y="256.7"/><use href="#d1" x="147.3" y="260.3"/><use href="#d7" x="154.3" y="260.3"/><use href="#d2" x="161.3" y="260.3"/><use href="#d4" x="124.3" y="265.2"/><use href="#d0" x="131.3" y="265.2"/><use href="#d1" x="138.3" y="265.2"/><use href="#d5" x="109.9" y="266.6"/><use href="#d8" x="116.9" y="266.6"/><use href="#d8" x="123.9" y="266.6"/><use href="#d1" x="149.6" y="270.8"/><use href="#d6" x="156.6" y="270.8"/><use href="#d6" x="163.6" y="270.8"/><use href="#ds" x="121.4" y="285.9"/><use href="#ds" x="127.0" y="285.9"/><use href="#ds" x="132.6" y="285.9"/><use href="#d0" x="174.6" y="292.0"/><use href="#d9" x="181.6" y="292.0"/><use href="#d0" x="188.6" y="292.0"/><use href="#d8" x="147.3" y="304.7"/><use href="#d3" x="154.3" y="304.7"/><use href="#d0" x="161.3" y="304.7"/><use href="#ds" x="212.2" y="270.8"/><use href="#ds" x="217.8" y="270.8"/><use href="#ds" x="223.4" y="270.8"/><use href="#ds" x="212.7" y="277.2"/><use href="#ds" x="218.3" y="277.2"/><use href="#ds" x="223.9" y="277.2"/><use href="#d1" x="183.1" y="307.6"/><use href="#d2" x="190.1" y="307.6"/><use href="#d2" x="197.1" y="307.6"/><use href="#ds" x="274.1" y="217.3"/><use href="#ds" x="279.7" y="217.3"/><use href="#ds" x="285.3" y="217.3"/><use href="#ds" x="257.1" y="225.2"/><use href="#ds" x="262.7" y="225.2"/><use href="#ds" x="268.3" y="225.2"/><use href="#ds" x="249.6" y="230.8"/><use href="#ds" x="255.2" y="230.8"/><use href="#ds" x="260.8" y="230.8"/><use href="#ds" x="266.6" y="241.6"/><use href="#ds" x="272.2" y="241.6"/><use href="#ds" x="277.8" y="241.6"/><use href="#d8" x="278.8" y="244.9"/><use href="#d3" x="285.8" y="244.9"/><use href="#d9" x="292.8" y="244.9"/><use href="#d4" x="298.6" y="246.3"/><use href="#d0" x="305.6" y="246.3"/><use href="#d3" x="312.6" y="246.3"/><use href="#d8" x="259.5" y="249.9"/><use href="#d2" x="266.5" y="249.9"/><use href="#d6" x="273.5" y="249.9"/><use href="#ds" x="316.7" y="248.7"/><use href="#ds" x="322.3" y="248.7"/><use href="#ds" x="327.9" y="248.7"/><use href="#d4" x="271.6" y="255.8"/><use href="#d7" x="278.6" y="255.8"/><use href="#d9" x="285.6" y="255.8"/><use href="#ds" x="288.9" y="253.7"/><use href="#ds" x="294.5" y="253.7"/><use href="#ds" x="300.1" y="253.7"/><use href="#ds" x="316.0" y="256.7"/><use href="#ds" x="321.6" y="256.7"/><use href="#ds" x="327.2" y="256.7"/><use href="#d4" x="339.1" y="256.7"/><use href="#d1" x="346.1" y="256.7"/><use href="#d7" x="353.1" y="256.7"/><use href="#d4" x="245.8" y="263.8"/><use href="#d6" x="252.8" y="263.8"/><use href="#d5" x="259.8" y="263.8"/><use href="#d3" x="288.5" y="260.5"/><use href="#d4" x="295.5" y="260.5"/><use href="#d1" x="302.5" y="260.5"/><use href="#d4" x="296.2" y="261.9"/><use href="#d1" x="303.2" y="261.9"/><use href="#d9" x="310.2" y="261.9"/><use href="#d3" x="321.2" y="261.4"/><use href="#d5" x="328.2" y="261.4"/><use href="#d6" x="335.2" y="261.4"/><use href="#d2" x="268.0" y="265.9"/><use href="#d6" x="275.0" y="265.9"/><use href="#d0" x="282.0" y="265.9"/><use href="#d2" x="284.5" y="266.3"/><use href="#d2" x="291.5" y="266.3"/><use href="#d2" x="298.5" y="266.3"/><use href="#d2" x="295.8" y="270.1"/><use href="#d1" x="302.8" y="270.1"/><use href="#d6" x="309.8" y="270.1"/><use href="#d5" x="304.7" y="273.7"/><use href="#d6" x="311.7" y="273.7"/><use href="#d2" x="318.7" y="273.7"/><use href="#d5" x="273.2" y="275.3"/><use href="#d9" x="280.2" y="275.3"/><use href="#d4" x="287.2" y="275.3"/><use href="#d3" x="305.6" y="280.7"/><use href="#d7" x="312.6" y="280.7"/><use href="#d2" x="319.6" y="280.7"/><use href="#d2" x="319.8" y="279.8"/><use href="#d5" x="326.8" y="279.8"/><use href="#d1" x="333.8" y="279.8"/><use href="#d4" x="352.5" y="277.7"/><use href="#d3" x="359.5" y="277.7"/><use href="#d5" x="366.5" y="277.7"/><use href="#d3" x="305.2" y="290.8"/><use href="#d9" x="312.2" y="290.8"/><use href="#d7" x="319.2" y="290.8"/><use href="#d3" x="329.6" y="287.8"/><use href="#d5" x="336.6" y="287.8"/><use href="#d0" x="343.6" y="287.8"/><use href="#d9" x="318.6" y="294.4"/><use href="#d6" x="325.6" y="294.4"/><use href="#d1" x="332.6" y="294.4"/><use href="#d3" x="300.6" y="300.5"/><use href="#d1" x="307.6" y="300.5"/><use href="#d3" x="314.6" y="300.5"/><use href="#d7" x="309.7" y="304.7"/><use href="#d3" x="316.7" y="304.7"/><use href="#d8" x="323.7" y="304.7"/><use href="#ds" x="356.7" y="297.7"/><use href="#ds" x="362.3" y="297.7"/><use href="#ds" x="367.9" y="297.7"/><use href="#d2" x="363.5" y="306.8"/><use href="#d9" x="370.5" y="306.8"/><use href="#d0" x="377.5" y="306.8"/><use href="#ds" x="346.6" y="238.8"/><use href="#ds" x="352.2" y="238.8"/><use href="#ds" x="357.8" y="238.8"/><use href="#d3" x="422.2" y="233.7"/><use href="#d0" x="429.2" y="233.7"/><use href="#d7" x="436.2" y="233.7"/><use href="#d2" x="422.0" y="238.1"/><use href="#d4" x="429.0" y="238.1"/><use href="#d4" x="436.0" y="238.1"/><use href="#d4" x="436.2" y="238.4"/><use href="#d3" x="443.2" y="238.4"/><use href="#d2" x="450.2" y="238.4"/><use href="#d5" x="376.6" y="250.4"/><use href="#d0" x="383.6" y="250.4"/><use href="#d5" x="390.6" y="250.4"/><use href="#d4" x="396.7" y="256.9"/><use href="#d7" x="403.7" y="256.9"/><use href="#d0" x="410.7" y="256.9"/><use href="#d1" x="418.6" y="257.2"/><use href="#d5" x="425.6" y="257.2"/><use href="#d2" x="432.6" y="257.2"/><use href="#d5" x="382.5" y="269.8"/><use href="#d5" x="389.5" y="269.8"/><use href="#d4" x="396.5" y="269.8"/><use href="#d5" x="407.6" y="276.7"/><use href="#d0" x="414.6" y="276.7"/><use href="#d8" x="421.6" y="276.7"/><use href="#d4" x="379.6" y="286.7"/><use href="#d2" x="386.6" y="286.7"/><use href="#d3" x="393.6" y="286.7"/><use href="#d1" x="511.6" y="246.6"/><use href="#d1" x="518.6" y="246.6"/><use href="#d6" x="525.6" y="246.6"/><use href="#d2" x="372.9" y="323.1"/><use href="#d3" x="379.9" y="323.1"/><use href="#d4" x="386.9" y="323.1"/><use href="#d0" x="426.6" y="320.8"/><use href="#d9" x="433.6" y="320.8"/><use href="#d5" x="440.6" y="320.8"/><use href="#d1" x="490.7" y="340.9"/><use href="#d3" x="497.7" y="340.9"/><use href="#d3" x="504.7" y="340.9"/><use href="#d1" x="218.4" y="318.1"/><use href="#d2" x="225.4" y="318.1"/><use href="#d1" x="232.4" y="318.1"/><use href="#d9" x="153.5" y="321.8"/><use href="#d9" x="160.5" y="321.8"/><use href="#d9" x="167.5" y="321.8"/><use href="#d2" x="176.7" y="322.8"/><use href="#d6" x="183.7" y="322.8"/><use href="#d8" x="190.7" y="322.8"/><use href="#d1" x="237.6" y="326.8"/><use href="#d0" x="244.6" y="326.8"/><use href="#d7" x="251.6" y="326.8"/><use href="#d6" x="192.7" y="339.4"/><use href="#d0" x="199.7" y="339.4"/><use href="#d7" x="206.7" y="339.4"/><use href="#d0" x="245.1" y="342.9"/><use href="#d3" x="252.1" y="342.9"/><use href="#d1" x="259.1" y="342.9"/><use href="#d0" x="271.7" y="346.6"/><use href="#d7" x="278.7" y="346.6"/><use href="#d9" x="285.7" y="346.6"/><use href="#d0" x="211.5" y="352.9"/><use href="#d6" x="218.5" y="352.9"/><use href="#d1" x="225.5" y="352.9"/><use href="#d0" x="223.2" y="360.0"/><use href="#d4" x="230.2" y="360.0"/><use href="#d9" x="237.2" y="360.0"/><use href="#d0" x="157.0" y="365.3"/><use href="#d8" x="164.0" y="365.3"/><use href="#d8" x="171.0" y="365.3"/><use href="#d1" x="146.0" y="381.1"/><use href="#d1" x="153.0" y="381.1"/><use href="#d6" x="160.0" y="381.1"/><use href="#d0" x="161.6" y="384.8"/><use href="#d2" x="168.6" y="384.8"/><use href="#d4" x="175.6" y="384.8"/><use href="#d0" x="186.4" y="391.4"/><use href="#d1" x="193.4" y="391.4"/><use href="#d8" x="200.4" y="391.4"/><use href="#d0" x="188.9" y="389.5"/><use href="#d1" x="195.9" y="389.5"/><use href="#d5" x="202.9" y="389.5"/><use href="#d0" x="137.2" y="402.4"/><use href="#d3" x="144.2" y="402.4"/><use href="#d0" x="151.2" y="402.4"/><use href="#d0" x="189.9" y="404.8"/><use href="#d2" x="196.9" y="404.8"/><use href="#d0" x="203.9" y="404.8"/><use href="#d1" x="328.0" y="310.2"/><use href="#d8" x="335.0" y="310.2"/><use href="#d0" x="342.0" y="310.2"/><use href="#d1" x="299.4" y="313.7"/><use href="#d5" x="306.4" y="313.7"/><use href="#d6" x="313.4" y="313.7"/><use href="#d1" x="295.9" y="318.7"/><use href="#d5" x="302.9" y="318.7"/><use href="#d7" x="309.9" y="318.7"/><use href="#d0" x="314.7" y="346.9"/><use href="#d7" x="321.7" y="346.9"/><use href="#d3" x="328.7" y="346.9"/><use href="#d0" x="349.9" y="362.0"/><use href="#d8" x="356.9" y="362.0"/><use href="#d9" x="363.9" y="362.0"/><use href="#d2" x="384.4" y="357.9"/><use href="#d6" x="391.4" y="357.9"/><use href="#d5" x="398.4" y="357.9"/><use href="#d0" x="335.5" y="380.8"/><use href="#d8" x="342.5" y="380.8"/><use href="#d9" x="349.5" y="380.8"/><use href="#d0" x="313.6" y="388.9"/><use href="#d3" x="320.6" y="388.9"/><use href="#d2" x="327.6" y="388.9"/><use href="#d0" x="363.7" y="397.0"/><use href="#d9" x="370.7" y="397.0"/><use href="#d3" x="377.7" y="397.0"/><use href="#d1" x="301.7" y="401.8"/><use href="#d6" x="308.7" y="401.8"/><use href="#d9" x="315.7" y="401.8"/><use href="#d1" x="410.0" y="410.8"/><use href="#d1" x="417.0" y="410.8"/><use href="#d6" x="424.0" y="410.8"/><use href="#d0" x="340.6" y="429.0"/><use href="#d3" x="347.6" y="429.0"/><use href="#d5" x="354.6" y="429.0"/><use href="#d0" x="343.1" y="429.0"/><use href="#d3" x="350.1" y="429.0"/><use href="#d9" x="357.1" y="429.0"/><use href="#d0" x="360.0" y="432.0"/><use href="#d1" x="367.0" y="432.0"/><use href="#d5" x="374.0" y="432.0"/><use href="#d2" x="606.7" y="319.9"/><use href="#d6" x="613.7" y="319.9"/><use href="#d5" x="620.7" y="319.9"/><use href="#d1" x="532.5" y="397.8"/><use href="#d4" x="539.5" y="397.8"/><use href="#d5" x="546.5" y="397.8"/></g>
</g>
<use href="#frame"/>
<path d="M280.9 57.3L280.9 72.0M280.9 57.3L289.2 57.3M280.9 64.3L286.0 64.3M299.5 64.3L298.2 62.9L296.9 62.2L295.0 62.2L293.7 62.9L292.4 64.3L291.8 66.4L291.8 67.8L292.4 69.9L293.7 71.3L295.0 72.0L296.9 72.0L298.2 71.3L299.5 69.9M304.6 57.3L304.6 69.2L305.2 71.3L306.5 72.0L307.8 72.0M302.7 62.2L307.1 62.2M311.6 65.7L323.1 65.7M331.4 57.3L330.1 58.0L328.8 59.4L328.2 60.8L327.6 62.9L327.6 66.4L328.2 68.5L328.8 69.9L330.1 71.3L331.4 72.0L334.0 72.0L335.2 71.3L336.5 69.9L337.2 68.5L337.8 66.4L337.8 62.9L337.2 60.8L336.5 59.4L335.2 58.0L334.0 57.3L331.4 57.3M342.3 57.3L342.3 72.0M342.3 64.3L343.5 62.9L344.8 62.2L346.7 62.2L348.0 62.9L349.3 64.3L349.9 66.4L349.9 67.8L349.3 69.9L348.0 71.3L346.7 72.0L344.8 72.0L343.5 71.3L342.3 69.9M360.8 64.3L360.2 62.9L358.2 62.2L356.3 62.2L354.4 62.9L353.8 64.3L354.4 65.7L355.7 66.4L358.9 67.1L360.2 67.8L360.8 69.2L360.8 69.9L360.2 71.3L358.2 72.0L356.3 72.0L354.4 71.3L353.8 69.9M375.5 57.3L375.5 72.0M375.5 72.0L383.2 72.0M385.7 66.4L393.4 66.4L393.4 65.0L392.7 63.6L392.1 62.9L390.8 62.2L388.9 62.2L387.6 62.9L386.4 64.3L385.7 66.4L385.7 67.8L386.4 69.9L387.6 71.3L388.9 72.0L390.8 72.0L392.1 71.3L393.4 69.9M404.9 62.2L404.9 72.0M404.9 64.3L403.6 62.9L402.3 62.2L400.4 62.2L399.1 62.9L397.9 64.3L397.2 66.4L397.2 67.8L397.9 69.9L399.1 71.3L400.4 72.0L402.3 72.0L403.6 71.3L404.9 69.9M417.0 57.3L417.0 72.0M417.0 64.3L415.8 62.9L414.5 62.2L412.6 62.2L411.3 62.9L410.0 64.3L409.4 66.4L409.4 67.8L410.0 69.9L411.3 71.3L412.6 72.0L414.5 72.0L415.8 71.3L417.0 69.9M432.4 57.3L432.4 72.0M432.4 57.3L437.5 72.0M442.6 57.3L437.5 72.0M442.6 57.3L442.6 72.0M450.3 62.2L449.0 62.9L447.7 64.3L447.1 66.4L447.1 67.8L447.7 69.9L449.0 71.3L450.3 72.0L452.2 72.0L453.5 71.3L454.7 69.9L455.4 67.8L455.4 66.4L454.7 64.3L453.5 62.9L452.2 62.2L450.3 62.2M459.8 62.2L459.8 72.0M459.8 65.0L461.8 62.9L463.0 62.2L465.0 62.2L466.2 62.9L466.9 65.0L466.9 72.0M472.6 57.3L472.6 69.2L473.3 71.3L474.5 72.0L475.8 72.0M470.7 62.2L475.2 62.2M479.7 57.3L479.7 72.0M479.7 65.0L481.6 62.9L482.8 62.2L484.8 62.2L486.0 62.9L486.7 65.0L486.7 72.0M491.8 63.6L503.3 63.6M491.8 67.8L503.3 67.8M508.4 60.8L508.4 60.1L509.0 58.7L509.7 58.0L511.0 57.3L513.5 57.3L514.8 58.0L515.4 58.7L516.1 60.1L516.1 61.5L515.4 62.9L514.2 65.0L507.8 72.0L516.7 72.0" fill="none" stroke="#000" stroke-width="2" stroke-linecap="round" stroke-linejoin="round" shape-rendering="crispEdges"/>
</g>
<g transform="translate(798,600)">
<use href="#map"/>
<g shape-rendering="crispEdges">
<path d="M190 85h5v5h-5z" fill="#c8c8ff"/>
<path d="M178 94h5v5h-5zM216 92h5v5h-5zM194 102h5v5h-5zM211 104h5v5h-5z" fill="#828282"/>
<path d="M217 117h5v5h-5z" fill="#ffc8c8"/>
<path d="M246 116h5v5h-5z" fill="#828282"/>
<path d="M267 113h5v5h-5zM167 129h5v5h-5zM185 126h5v5h-5z" fill="#ffc8c8"/>
<path d="M133 134h5v5h-5z" fill="#828282"/>
<path d="M212 131h5v5h-5zM100 144h5v5h-5z" fill="#ffc8c8"/>
<path d="M137 146h5v5h-5z" fill="#828282"/>
<path d="M239 139h5v5h-5zM254 135h5v5h-5zM267 138h5v5h-5zM238 146h5v5h-5z" fill="#ffc8c8"/>
<path d="M253 144h5v5h-5z" fill="#828282"/>
<path d="M198 148h5v5h-5z" fill="#ffc8c8"/>
<path d="M136 159h5v5h-5z" fill="#828282"/>
<path d="M214 156h5v5h-5zM274 158h5v5h-5zM201 164h5v5h-5zM116 171h5v5h-5zM177 169h5v5h-5z" fill="#ffc8c8"/>
<path d="M208 175h5v5h-5z" fill="#ff7878"/>
<path d="M170 178h5v5h-5z" fill="#ffc8c8"/>
<path d="M118 182h5v5h-5z" fill="#828282"/>
<path d="M152 183h5v5h-5zM163 184h5v5h-5zM199 186h5v5h-5z" fill="#ff7878"/>
<path d="M105 191h5v5h-5z" fill="#828282"/>
<path d="M117 191h5v5h-5z" fill="#ffc8c8"/>
<path d="M125 194h5v5h-5z" fill="#828282"/>
<path d="M151 195h5v5h-5zM152 192h5v5h-5zM193 197h5v5h-5z" fill="#ffc8c8"/>
<path d="M109 204h5v5h-5z" fill="#828282"/>
<path d="M138 204h5v5h-5z" fill="#ffc8c8"/>
<path d="M173 206h5v5h-5z" fill="#ff7878"/>
<path d="M184 207h5v5h-5z" fill="#000"/>
<path d="M161 209h5v5h-5zM165 211h5v5h-5zM177 216h5v5h-5z" fill="#ffc8c8"/>
<path d="M117 216h5v5h-5z" fill="#828282"/>
<path d="M202 222h5v5h-5z" fill="#ffc8c8"/>
<path d="M164 226h5v5h-5zM105 229h5v5h-5z" fill="#828282"/>
<path d="M286 98h5v5h-5z" fill="#ffc8c8"/>
<path d="M308 96h5v5h-5z" fill="#828282"/>
<path d="M331 99h5v5h-5zM329 109h5v5h-5zM281 124h5v5h-5zM304 138h5v5h-5zM281 147h5v5h-5z" fill="#ffc8c8"/>
<path d="M310 150h5v5h-5z" fill="#828282"/>
<path d="M308 167h5v5h-5zM389 137h5v5h-5zM447 132h5v5h-5zM416 155h5v5h-5zM442 164h5v5h-5zM371 174h5v5h-5zM444 181h5v5h-5z" fill="#ffc8c8"/>
<path d="M336 184h5v5h-5zM297 190h5v5h-5z" fill="#ff7878"/>
<path d="M383 186h5v5h-5zM398 196h5v5h-5zM420 199h5v5h-5zM331 203h5v5h-5zM366 211h5v5h-5z" fill="#ffc8c8"/>
<path d="M386 208h5v5h-5z" fill="#828282"/>
<path d="M449 209h5v5h-5zM319 221h5v5h-5zM340 223h5v5h-5z" fill="#ffc8c8"/>
<path d="M308 229h5v5h-5z" fill="#ff2828"/>
<path d="M405 228h5v5h-5z" fill="#828282"/>
<path d="M490 140h5v5h-5z" fill="#ffc8c8"/>
<path d="M520 123h5v5h-5z" fill="#828282"/>
<path d="M516 148h5v5h-5z" fill="#ffc8c8"/>
<path d="M543 140h5v5h-5z" fill="#828282"/>
<path d="M476 169h5v5h-5z" fill="#ffc8c8"/>
<path d="M596 168h5v5h-5z" fill="#828282"/>
<path d="M570 178h5v5h-5zM482 206h5v5h-5zM547 231h5v5h-5zM176 232h5v5h-5zM185 242h5v5h-5zM191 247h5v5h-5zM112 254h5v5h-5z" fill="#ffc8c8"/>
<path d="M140 253h5v5h-5z" fill="#828282"/>
<path d="M107 264h5v5h-5z" fill="#ffc8c8"/>
<path d="M121 262h5v5h-5z" fill="#828282"/>
<path d="M147 268h5v5h-5z" fill="#ffc8c8"/>
<path d="M209 268h5v5h-5z" fill="#ff7878"/>
<path d="M118 283h5v5h-5zM179 306h5v5h-5z" fill="#828282"/>
<path d="M150 319h5v5h-5z" fill="#c8c8ff"/>
<path d="M173 320h5v5h-5z" fill="#ffc8c8"/>
<path d="M215 315h5v5h-5z" fill="#c8c8ff"/>
<path d="M240 219h5v5h-5zM266 216h5v5h-5zM272 214h5v5h-5zM293 216h5v5h-5zM278 222h5v5h-5zM254 223h5v5h-5zM246 228h5v5h-5zM267 231h5v5h-5z" fill="#ff7878"/>
<path d="M263 238h5v5h-5z" fill="#ffc8c8"/>
<path d="M276 241h5v5h-5z" fill="#ff2828"/>
<path d="M296 243h5v5h-5zM256 247h5v5h-5z" fill="#ff7878"/>
<path d="M314 245h5v5h-5z" fill="#ffc8c8"/>
<path d="M268 253h5v5h-5z" fill="#ff7878"/>
<path d="M286 251h5v5h-5zM313 253h5v5h-5zM343 235h5v5h-5zM243 261h5v5h-5zM265 263h5v5h-5z" fill="#ffc8c8"/>
<path d="M286 256h5v5h-5z" fill="#ff7878"/>
<path d="M293 259h5v5h-5z" fill="#ff2828"/>
<path d="M281 264h5v5h-5zM293 267h5v5h-5zM302 271h5v5h-5z" fill="#ff7878"/>
<path d="M318 258h5v5h-5zM336 253h5v5h-5zM270 272h5v5h-5zM303 278h5v5h-5zM317 278h5v5h-5zM302 288h5v5h-5zM326 285h5v5h-5zM316 291h5v5h-5zM298 296h5v5h-5zM386 236h5v5h-5z" fill="#ffc8c8"/>
<path d="M374 248h5v5h-5zM393 254h5v5h-5zM416 254h5v5h-5zM380 267h5v5h-5zM405 274h5v5h-5zM350 274h5v5h-5zM377 284h5v5h-5zM354 295h5v5h-5zM360 304h5v5h-5z" fill="#828282"/>
<path d="M370 320h5v5h-5zM307 302h5v5h-5zM325 307h5v5h-5z" fill="#ffc8c8"/>
<path d="M296 310h5v5h-5zM293 316h5v5h-5zM418 232h5v5h-5zM420 234h5v5h-5z" fill="#828282"/>
<path d="M433 235h5v5h-5z" fill="#ffc8c8"/>
<path d="M208 350h5v5h-5zM154 362h5v5h-5zM143 378h5v5h-5z" fill="#c8c8ff"/>
<path d="M158 382h5v5h-5z" fill="#7878ff"/>
<path d="M184 388h5v5h-5z" fill="#c8c8ff"/>
<path d="M134 400h5v5h-5z" fill="#7878ff"/>
<path d="M187 402h5v5h-5z" fill="#2828ff"/>
<path d="M242 340h5v5h-5z" fill="#7878ff"/>
<path d="M269 344h5v5h-5z" fill="#828282"/>
<path d="M311 344h5v5h-5z" fill="#c8c8ff"/>
<path d="M347 359h5v5h-5z" fill="#ffc8c8"/>
<path d="M381 355h5v5h-5z" fill="#828282"/>
<path d="M332 378h5v5h-5zM310 386h5v5h-5z" fill="#7878ff"/>
<path d="M298 399h5v5h-5z" fill="#c8c8ff"/>
<path d="M360 394h5v5h-5z" fill="#828282"/>
<path d="M407 408h5v5h-5z" fill="#ffc8c8"/>
<path d="M357 429h5v5h-5z" fill="#c8c8ff"/>
<path d="M340 426h5v5h-5z" fill="#7878ff"/>
<path d="M338 426h5v5h-5zM509 244h5v5h-5zM424 318h5v5h-5z" fill="#828282"/>
<path d="M487 338h5v5h-5z" fill="#ffc8c8"/>
<path d="M604 317h5v5h-5z" fill="#c8c8ff"/>
<path d="M530 395h5v5h-5z" fill="#828282"/>
<g fill="none" stroke="#000" stroke-width="1" stroke-linecap="square" stroke-linejoin="round" shape-rendering="crispEdges"><use href="#d0" x="192.6" y="88.0"/><use href="#d9" x="199.6" y="88.0"/><use href="#d4" x="206.6" y="88.0"/><use href="#d1" x="181.6" y="96.8"/><use href="#d0" x="188.6" y="96.8"/><use href="#d9" x="195.6" y="96.8"/><use href="#d1" x="219.2" y="94.8"/><use href="#d0" x="226.2" y="94.8"/><use href="#d1" x="233.2" y="94.8"/><use href="#d1" x="197.0" y="104.8"/><use href="#d1" x="204.0" y="104.8"/><use href="#d8" x="211.0" y="104.8"/><use href="#d1" x="213.9" y="107.1"/><use href="#d1" x="220.9" y="107.1"/><use href="#d6" x="227.9" y="107.1"/><use href="#d1" x="220.1" y="119.8"/><use href="#d4" x="227.1" y="119.8"/><use href="#d6" x="234.1" y="119.8"/><use href="#d1" x="248.6" y="118.6"/><use href="#d2" x="255.6" y="118.6"/><use href="#d1" x="262.6" y="118.6"/><use href="#d1" x="270.6" y="115.8"/><use href="#d3" x="277.6" y="115.8"/><use href="#d5" x="284.6" y="115.8"/><use href="#d1" x="170.3" y="131.9"/><use href="#d2" x="177.3" y="131.9"/><use href="#d5" x="184.3" y="131.9"/><use href="#d1" x="188.5" y="128.6"/><use href="#d2" x="195.5" y="128.6"/><use href="#d6" x="202.5" y="128.6"/><use href="#d1" x="135.6" y="136.5"/><use href="#d2" x="142.6" y="136.5"/><use href="#d3" x="149.6" y="136.5"/><use href="#d1" x="215.4" y="134.4"/><use href="#d3" x="222.4" y="134.4"/><use href="#d3" x="229.4" y="134.4"/><use href="#d1" x="103.0" y="146.8"/><use href="#d3" x="110.0" y="146.8"/><use href="#d2" x="117.0" y="146.8"/><use href="#d1" x="140.5" y="148.7"/><use href="#d2" x="147.5" y="148.7"/><use href="#d0" x="154.5" y="148.7"/><use href="#d1" x="242.4" y="141.5"/><use href="#d4" x="249.4" y="141.5"/><use href="#d0" x="256.4" y="141.5"/><use href="#d1" x="257.4" y="137.8"/><use href="#d2" x="264.4" y="137.8"/><use href="#d8" x="271.4" y="137.8"/><use href="#d1" x="269.8" y="141.1"/><use href="#d2" x="276.8" y="141.1"/><use href="#d8" x="283.8" y="141.1"/><use href="#d1" x="241.1" y="149.0"/><use href="#d2" x="248.1" y="149.0"/><use href="#d8" x="255.1" y="149.0"/><use href="#d1" x="256.2" y="146.5"/><use href="#d2" x="263.2" y="146.5"/><use href="#d4" x="270.2" y="146.5"/><use href="#d1" x="201.0" y="150.7"/><use href="#d4" x="208.0" y="150.7"/><use href="#d4" x="215.0" y="150.7"/><use href="#d1" x="139.2" y="161.8"/><use href="#d1" x="146.2" y="161.8"/><use href="#d1" x="153.2" y="161.8"/><use href="#d1" x="216.9" y="159.3"/><use href="#d2" x="223.9" y="159.3"/><use href="#d5" x="230.9" y="159.3"/><use href="#d1" x="277.1" y="160.7"/><use href="#d3" x="284.1" y="160.7"/><use href="#d0" x="291.1" y="160.7"/><use href="#d1" x="203.9" y="167.2"/><use href="#d3" x="210.9" y="167.2"/><use href="#d1" x="217.9" y="167.2"/><use href="#d1" x="119.6" y="173.7"/><use href="#d3" x="126.6" y="173.7"/><use href="#d3" x="133.6" y="173.7"/><use href="#d1" x="179.7" y="171.6"/><use href="#d4" x="186.7" y="171.6"/><use href="#d7" x="193.7" y="171.6"/><use href="#d1" x="211.0" y="177.9"/><use href="#d5" x="218.0" y="177.9"/><use href="#d8" x="225.0" y="177.9"/><use href="#d1" x="173.5" y="181.0"/><use href="#d4" x="180.5" y="181.0"/><use href="#d7" x="187.5" y="181.0"/><use href="#d1" x="120.8" y="184.8"/><use href="#d2" x="127.8" y="184.8"/><use href="#d4" x="134.8" y="184.8"/><use href="#d1" x="154.7" y="186.0"/><use href="#d5" x="161.7" y="186.0"/><use href="#d1" x="168.7" y="186.0"/><use href="#d1" x="166.6" y="186.6"/><use href="#d5" x="173.6" y="186.6"/><use href="#d2" x="180.6" y="186.6"/><use href="#d1" x="201.9" y="188.5"/><use href="#d5" x="208.9" y="188.5"/><use href="#d7" x="215.9" y="188.5"/><use href="#d1" x="108.5" y="193.8"/><use href="#d2" x="115.5" y="193.8"/><use href="#d1" x="122.5" y="193.8"/><use href="#d1" x="120.2" y="194.1"/><use href="#d3" x="127.2" y="194.1"/><use href="#d4" x="134.2" y="194.1"/><use href="#d1" x="127.7" y="196.9"/><use href="#d1" x="134.7" y="196.9"/><use href="#d7" x="141.7" y="196.9"/><use href="#d1" x="154.0" y="197.9"/><use href="#d4" x="161.0" y="197.9"/><use href="#d7" x="168.0" y="197.9"/><use href="#d1" x="154.7" y="195.0"/><use href="#d4" x="161.7" y="195.0"/><use href="#d7" x="168.7" y="195.0"/><use href="#d1" x="196.0" y="199.5"/><use href="#d4" x="203.0" y="199.5"/><use href="#d7" x="210.0" y="199.5"/><use href="#d1" x="112.4" y="206.7"/><use href="#d1" x="119.4" y="206.7"/><use href="#d7" x="126.4" y="206.7"/><use href="#d1" x="141.1" y="206.7"/><use href="#d2" x="148.1" y="206.7"/><use href="#d5" x="155.1" y="206.7"/><use href="#d1" x="176.6" y="208.8"/><use href="#d6" x="183.6" y="208.8"/><use href="#d1" x="190.6" y="208.8"/><use href="#d1" x="187.2" y="209.6"/><use href="#d5" x="194.2" y="209.6"/><use href="#d1" x="201.2" y="209.6"/><use href="#d1" x="164.1" y="211.7"/><use href="#d2" x="171.1" y="211.7"/><use href="#d6" x="178.1" y="211.7"/><use href="#d1" x="168.4" y="214.2"/><use href="#d2" x="175.4" y="214.2"/><use href="#d5" x="182.4" y="214.2"/><use href="#d1" x="179.7" y="219.2"/><use href="#d2" x="186.7" y="219.2"/><use href="#d9" x="193.7" y="219.2"/><use href="#d1" x="120.6" y="218.8"/><use href="#d1" x="127.6" y="218.8"/><use href="#d5" x="134.6" y="218.8"/><use href="#d1" x="204.8" y="224.9"/><use href="#d3" x="211.8" y="224.9"/><use href="#d8" x="218.8" y="224.9"/><use href="#d1" x="167.2" y="228.9"/><use href="#d2" x="174.2" y="228.9"/><use href="#d3" x="181.2" y="228.9"/><use href="#d1" x="108.3" y="232.4"/><use href="#d1" x="115.3" y="232.4"/><use href="#d1" x="122.3" y="232.4"/><use href="#d1" x="289.5" y="100.8"/><use href="#d3" x="296.5" y="100.8"/><use href="#d6" x="303.5" y="100.8"/><use href="#d1" x="310.8" y="99.2"/><use href="#d1" x="317.8" y="99.2"/><use href="#d2" x="324.8" y="99.2"/><use href="#d1" x="334.0" y="102.0"/><use href="#d3" x="341.0" y="102.0"/><use href="#d4" x="348.0" y="102.0"/><use href="#d1" x="332.1" y="111.8"/><use href="#d2" x="339.1" y="111.8"/><use href="#d9" x="346.1" y="111.8"/><use href="#d1" x="284.5" y="126.7"/><use href="#d3" x="291.5" y="126.7"/><use href="#d2" x="298.5" y="126.7"/><use href="#d1" x="307.1" y="140.9"/><use href="#d3" x="314.1" y="140.9"/><use href="#d0" x="321.1" y="140.9"/><use href="#d1" x="284.5" y="149.7"/><use href="#d4" x="291.5" y="149.7"/><use href="#d1" x="298.5" y="149.7"/><use href="#d1" x="312.7" y="152.8"/><use href="#d1" x="319.7" y="152.8"/><use href="#d8" x="326.7" y="152.8"/><use href="#d1" x="311.2" y="170.0"/><use href="#d3" x="318.2" y="170.0"/><use href="#d7" x="325.2" y="170.0"/><use href="#d1" x="392.3" y="139.6"/><use href="#d3" x="399.3" y="139.6"/><use href="#d2" x="406.3" y="139.6"/><use href="#d1" x="450.6" y="134.6"/><use href="#d3" x="457.6" y="134.6"/><use href="#d6" x="464.6" y="134.6"/><use href="#d1" x="418.6" y="157.8"/><use href="#d4" x="425.6" y="157.8"/><use href="#d9" x="432.6" y="157.8"/><use href="#d1" x="445.6" y="166.8"/><use href="#d4" x="452.6" y="166.8"/><use href="#d4" x="459.6" y="166.8"/><use href="#d1" x="373.9" y="176.9"/><use href="#d4" x="380.9" y="176.9"/><use href="#d7" x="387.9" y="176.9"/><use href="#d1" x="447.1" y="183.9"/><use href="#d2" x="454.1" y="183.9"/><use href="#d8" x="461.1" y="183.9"/><use href="#d1" x="339.0" y="186.9"/><use href="#d6" x="346.0" y="186.9"/><use href="#d5" x="353.0" y="186.9"/><use href="#d1" x="300.4" y="192.9"/><use href="#d6" x="307.4" y="192.9"/><use href="#d9" x="314.4" y="192.9"/><use href="#d1" x="385.7" y="188.5"/><use href="#d4" x="392.7" y="188.5"/><use href="#d0" x="399.7" y="188.5"/><use href="#d1" x="401.4" y="198.8"/><use href="#d3" x="408.4" y="198.8"/><use href="#d5" x="415.4" y="198.8"/><use href="#d1" x="423.0" y="201.9"/><use href="#d3" x="430.0" y="201.9"/><use href="#d5" x="437.0" y="201.9"/><use href="#d1" x="333.7" y="205.7"/><use href="#d4" x="340.7" y="205.7"/><use href="#d4" x="347.7" y="205.7"/><use href="#d1" x="369.5" y="213.8"/><use href="#d4" x="376.5" y="213.8"/><use href="#d6" x="383.5" y="213.8"/><use href="#d1" x="389.4" y="211.3"/><use href="#d2" x="396.4" y="211.3"/><use href="#d2" x="403.4" y="211.3"/><use href="#d1" x="452.4" y="211.7"/><use href="#d3" x="459.4" y="211.7"/><use href="#d0" x="466.4" y="211.7"/><use href="#d1" x="322.1" y="223.6"/><use href="#d3" x="329.1" y="223.6"/><use href="#d8" x="336.1" y="223.6"/><use href="#d1" x="343.2" y="226.1"/><use href="#d3" x="350.2" y="226.1"/><use href="#d6" x="357.2" y="226.1"/><use href="#d1" x="310.8" y="232.4"/><use href="#d7" x="317.8" y="232.4"/><use href="#d5" x="324.8" y="232.4"/><use href="#d1" x="408.6" y="231.1"/><use href="#d2" x="415.6" y="231.1"/><use href="#d2" x="422.6" y="231.1"/><use href="#d1" x="492.7" y="142.8"/><use href="#d2" x="499.7" y="142.8"/><use href="#d7" x="506.7" y="142.8"/><use href="#d1" x="522.8" y="125.9"/><use href="#d0" x="529.8" y="125.9"/><use href="#d8" x="536.8" y="125.9"/><use href="#d1" x="519.0" y="150.9"/><use href="#d2" x="526.0" y="150.9"/><use href="#d5" x="533.0" y="150.9"/><use href="#d1" x="545.6" y="143.4"/><use href="#d2" x="552.6" y="143.4"/><use href="#d1" x="559.6" y="143.4"/><use href="#d1" x="478.9" y="171.8"/><use href="#d4" x="485.9" y="171.8"/><use href="#d1" x="492.9" y="171.8"/><use href="#d1" x="598.6" y="171.0"/><use href="#d2" x="605.6" y="171.0"/><use href="#d3" x="612.6" y="171.0"/><use href="#d1" x="573.6" y="181.0"/><use href="#d2" x="580.6" y="181.0"/><use href="#d7" x="587.6" y="181.0"/><use href="#d1" x="485.6" y="208.8"/><use href="#d3" x="492.6" y="208.8"/><use href="#d4" x="499.6" y="208.8"/><use href="#d1" x="550.4" y="233.6"/><use href="#d2" x="557.4" y="233.6"/><use href="#d5" x="564.4" y="233.6"/><use href="#d1" x="179.1" y="235.0"/><use href="#d2" x="186.1" y="235.0"/><use href="#d9" x="193.1" y="235.0"/><use href="#d1" x="187.6" y="245.0"/><use href="#d3" x="194.6" y="245.0"/><use href="#d0" x="201.6" y="245.0"/><use href="#d1" x="194.5" y="249.8"/><use href="#d3" x="201.5" y="249.8"/><use href="#d5" x="208.5" y="249.8"/><use href="#d1" x="115.5" y="256.7"/><use href="#d3" x="122.5" y="256.7"/><use href="#d8" x="129.5" y="256.7"/><use href="#d1" x="142.7" y="256.3"/><use href="#d1" x="149.7" y="256.3"/><use href="#d2" x="156.7" y="256.3"/><use href="#d1" x="109.9" y="267.0"/><use href="#d2" x="116.9" y="267.0"/><use href="#d7" x="123.9" y="267.0"/><use href="#d1" x="124.3" y="265.1"/><use href="#d1" x="131.3" y="265.1"/><use href="#d6" x="138.3" y="265.1"/><use href="#d1" x="149.6" y="270.7"/><use href="#d4" x="156.6" y="270.7"/><use href="#d6" x="163.6" y="270.7"/><use href="#d1" x="212.3" y="270.7"/><use href="#d5" x="219.3" y="270.7"/><use href="#d1" x="226.3" y="270.7"/><use href="#d1" x="121.4" y="285.8"/><use href="#d0" x="128.4" y="285.8"/><use href="#d0" x="135.4" y="285.8"/><use href="#d1" x="182.6" y="308.7"/><use href="#d0" x="189.6" y="308.7"/><use href="#d3" x="196.6" y="308.7"/><use href="#d0" x="153.4" y="322.1"/><use href="#d9" x="160.4" y="322.1"/><use href="#d4" x="167.4" y="322.1"/><use href="#d1" x="176.6" y="322.7"/><use href="#d3" x="183.6" y="322.7"/><use href="#d9" x="190.6" y="322.7"/><use href="#d0" x="218.6" y="318.0"/><use href="#d9" x="225.6" y="318.0"/><use href="#d8" x="232.6" y="318.0"/><use href="#d1" x="242.6" y="221.8"/><use href="#d6" x="249.6" y="221.8"/><use href="#d5" x="256.6" y="221.8"/><use href="#d1" x="269.1" y="219.1"/><use href="#d5" x="276.1" y="219.1"/><use href="#d4" x="283.1" y="219.1"/><use href="#d1" x="275.1" y="216.5"/><use href="#d5" x="282.1" y="216.5"/><use href="#d2" x="289.1" y="216.5"/><use href="#d1" x="296.1" y="218.8"/><use href="#d5" x="303.1" y="218.8"/><use href="#d7" x="310.1" y="218.8"/><use href="#d1" x="280.7" y="224.8"/><use href="#d6" x="287.7" y="224.8"/><use href="#d4" x="294.7" y="224.8"/><use href="#d1" x="257.0" y="225.5"/><use href="#d6" x="264.0" y="225.5"/><use href="#d1" x="271.0" y="225.5"/><use href="#d1" x="249.5" y="230.8"/><use href="#d5" x="256.5" y="230.8"/><use href="#d9" x="263.5" y="230.8"/><use href="#d1" x="270.6" y="234.2"/><use href="#d5" x="277.6" y="234.2"/><use href="#d6" x="284.6" y="234.2"/><use href="#d1" x="266.4" y="241.3"/><use href="#d4" x="273.4" y="241.3"/><use href="#d6" x="280.4" y="241.3"/><use href="#d1" x="278.8" y="244.3"/><use href="#d8" x="285.8" y="244.3"/><use href="#d9" x="292.8" y="244.3"/><use href="#d1" x="298.8" y="245.8"/><use href="#d5" x="305.8" y="245.8"/><use href="#d4" x="312.8" y="245.8"/><use href="#d1" x="259.5" y="249.6"/><use href="#d6" x="266.5" y="249.6"/><use href="#d8" x="273.5" y="249.6"/><use href="#d1" x="316.8" y="248.5"/><use href="#d3" x="323.8" y="248.5"/><use href="#d6" x="330.8" y="248.5"/><use href="#d1" x="271.5" y="255.6"/><use href="#d5" x="278.5" y="255.6"/><use href="#d9" x="285.5" y="255.6"/><use href="#d1" x="289.0" y="253.7"/><use href="#d5" x="296.0" y="253.7"/><use href="#d0" x="303.0" y="253.7"/><use href="#d1" x="316.1" y="255.6"/><use href="#d3" x="323.1" y="255.6"/><use href="#d7" x="330.1" y="255.6"/><use href="#d1" x="346.5" y="238.2"/><use href="#d2" x="353.5" y="238.2"/><use href="#d8" x="360.5" y="238.2"/><use href="#d1" x="246.1" y="263.9"/><use href="#d4" x="253.1" y="263.9"/><use href="#d0" x="260.1" y="263.9"/><use href="#d1" x="267.9" y="265.8"/><use href="#d4" x="274.9" y="265.8"/><use href="#d1" x="281.9" y="265.8"/><use href="#d1" x="288.6" y="259.0"/><use href="#d5" x="295.6" y="259.0"/><use href="#d8" x="302.6" y="259.0"/><use href="#d1" x="296.1" y="262.4"/><use href="#d7" x="303.1" y="262.4"/><use href="#d6" x="310.1" y="262.4"/><use href="#d1" x="284.5" y="266.5"/><use href="#d5" x="291.5" y="266.5"/><use href="#d7" x="298.5" y="266.5"/><use href="#d1" x="295.8" y="269.9"/><use href="#d6" x="302.8" y="269.9"/><use href="#d6" x="309.8" y="269.9"/><use href="#d1" x="304.8" y="273.7"/><use href="#d5" x="311.8" y="273.7"/><use href="#d6" x="318.8" y="273.7"/><use href="#d1" x="321.3" y="261.3"/><use href="#d3" x="328.3" y="261.3"/><use href="#d5" x="335.3" y="261.3"/><use href="#d1" x="339.0" y="256.2"/><use href="#d3" x="346.0" y="256.2"/><use href="#d6" x="353.0" y="256.2"/><use href="#d1" x="273.2" y="275.2"/><use href="#d4" x="280.2" y="275.2"/><use href="#d8" x="287.2" y="275.2"/><use href="#d1" x="305.9" y="280.8"/><use href="#d4" x="312.9" y="280.8"/><use href="#d2" x="319.9" y="280.8"/><use href="#d1" x="319.8" y="280.8"/><use href="#d3" x="326.8" y="280.8"/><use href="#d7" x="333.8" y="280.8"/><use href="#d1" x="305.2" y="291.0"/><use href="#d2" x="312.2" y="291.0"/><use href="#d7" x="319.2" y="291.0"/><use href="#d1" x="329.6" y="287.9"/><use href="#d2" x="336.6" y="287.9"/><use href="#d8" x="343.6" y="287.9"/><use href="#d1" x="318.7" y="294.3"/><use href="#d4" x="325.7" y="294.3"/><use href="#d4" x="332.7" y="294.3"/><use href="#d1" x="300.6" y="299.2"/><use href="#d4" x="307.6" y="299.2"/><use href="#d0" x="314.6" y="299.2"/><use href="#d1" x="388.6" y="238.8"/><use href="#d3" x="395.6" y="238.8"/><use href="#d3" x="402.6" y="238.8"/><use href="#d1" x="376.7" y="250.7"/><use href="#d1" x="383.7" y="250.7"/><use href="#d6" x="390.7" y="250.7"/><use href="#d1" x="396.5" y="256.7"/><use href="#d0" x="403.5" y="256.7"/><use href="#d8" x="410.5" y="256.7"/><use href="#d1" x="418.7" y="256.9"/><use href="#d1" x="425.7" y="256.9"/><use href="#d3" x="432.7" y="256.9"/><use href="#d1" x="382.8" y="269.8"/><use href="#d0" x="389.8" y="269.8"/><use href="#d2" x="396.8" y="269.8"/><use href="#d1" x="407.8" y="277.0"/><use href="#d0" x="414.8" y="277.0"/><use href="#d8" x="421.8" y="277.0"/><use href="#d1" x="352.7" y="277.4"/><use href="#d1" x="359.7" y="277.4"/><use href="#d7" x="366.7" y="277.4"/><use href="#d1" x="379.6" y="287.0"/><use href="#d1" x="386.6" y="287.0"/><use href="#d0" x="393.6" y="287.0"/><use href="#d1" x="356.7" y="297.7"/><use href="#d1" x="363.7" y="297.7"/><use href="#d0" x="370.7" y="297.7"/><use href="#d1" x="363.6" y="306.8"/><use href="#d2" x="370.6" y="306.8"/><use href="#d3" x="377.6" y="306.8"/><use href="#d1" x="373.0" y="322.7"/><use href="#d3" x="380.0" y="322.7"/><use href="#d5" x="387.0" y="322.7"/><use href="#d1" x="309.7" y="304.6"/><use href="#d4" x="316.7" y="304.6"/><use href="#d2" x="323.7" y="304.6"/><use href="#d1" x="327.9" y="309.6"/><use href="#d3" x="334.9" y="309.6"/><use href="#d4" x="341.9" y="309.6"/><use href="#d1" x="299.3" y="313.3"/><use href="#d2" x="306.3" y="313.3"/><use href="#d0" x="313.3" y="313.3"/><use href="#d1" x="295.9" y="319.0"/><use href="#d1" x="302.9" y="319.0"/><use href="#d3" x="309.9" y="319.0"/><use href="#d1" x="421.3" y="235.0"/><use href="#d1" x="428.3" y="235.0"/><use href="#d3" x="435.3" y="235.0"/><use href="#d1" x="422.9" y="237.5"/><use href="#d1" x="429.9" y="237.5"/><use href="#d7" x="436.9" y="237.5"/><use href="#d1" x="435.9" y="237.8"/><use href="#d2" x="442.9" y="237.8"/><use href="#d9" x="449.9" y="237.8"/><use href="#d0" x="211.4" y="352.9"/><use href="#d7" x="218.4" y="352.9"/><use href="#d5" x="225.4" y="352.9"/><use href="#d0" x="156.9" y="365.4"/><use href="#d8" x="163.9" y="365.4"/><use href="#d9" x="170.9" y="365.4"/><use href="#d0" x="145.9" y="380.7"/><use href="#d8" x="152.9" y="380.7"/><use href="#d1" x="159.9" y="380.7"/><use href="#d0" x="161.5" y="384.8"/><use href="#d6" x="168.5" y="384.8"/><use href="#d1" x="175.5" y="384.8"/><use href="#d0" x="186.9" y="390.7"/><use href="#d7" x="193.9" y="390.7"/><use href="#d6" x="200.9" y="390.7"/><use href="#d0" x="136.9" y="402.6"/><use href="#d6" x="143.9" y="402.6"/><use href="#d7" x="150.9" y="402.6"/><use href="#d0" x="190.0" y="404.8"/><use href="#d3" x="197.0" y="404.8"/><use href="#d5" x="204.0" y="404.8"/><use href="#d0" x="245.2" y="342.9"/><use href="#d5" x="252.2" y="342.9"/><use href="#d1" x="259.2" y="342.9"/><use href="#d1" x="271.7" y="346.9"/><use href="#d1" x="278.7" y="346.9"/><use href="#d4" x="285.7" y="346.9"/><use href="#d0" x="314.5" y="346.9"/><use href="#d8" x="321.5" y="346.9"/><use href="#d8" x="328.5" y="346.9"/><use href="#d1" x="350.0" y="361.9"/><use href="#d4" x="357.0" y="361.9"/><use href="#d1" x="364.0" y="361.9"/><use href="#d1" x="384.5" y="357.9"/><use href="#d2" x="391.5" y="357.9"/><use href="#d1" x="398.5" y="357.9"/><use href="#d0" x="335.4" y="380.7"/><use href="#d6" x="342.4" y="380.7"/><use href="#d9" x="349.4" y="380.7"/><use href="#d0" x="313.5" y="388.8"/><use href="#d5" x="320.5" y="388.8"/><use href="#d8" x="327.5" y="388.8"/><use href="#d0" x="301.5" y="402.3"/><use href="#d9" x="308.5" y="402.3"/><use href="#d6" x="315.5" y="402.3"/><use href="#d1" x="363.6" y="397.0"/><use href="#d1" x="370.6" y="397.0"/><use href="#d0" x="377.6" y="397.0"/><use href="#d1" x="409.9" y="410.8"/><use href="#d4" x="416.9" y="410.8"/><use href="#d9" x="423.9" y="410.8"/><use href="#d0" x="359.8" y="432.1"/><use href="#d7" x="366.8" y="432.1"/><use href="#d7" x="373.8" y="432.1"/><use href="#d0" x="342.6" y="429.0"/><use href="#d6" x="349.6" y="429.0"/><use href="#d9" x="356.6" y="429.0"/><use href="#d1" x="340.6" y="429.0"/><use href="#d0" x="347.6" y="429.0"/><use href="#d2" x="354.6" y="429.0"/><use href="#d1" x="511.8" y="247.2"/><use href="#d2" x="518.8" y="247.2"/><use href="#d1" x="525.8" y="247.2"/><use href="#d1" x="426.8" y="320.8"/><use href="#d0" x="433.8" y="320.8"/><use href="#d2" x="440.8" y="320.8"/><use href="#d1" x="490.4" y="340.8"/><use href="#d4" x="497.4" y="340.8"/><use href="#d4" x="504.4" y="340.8"/><use href="#d0" x="606.8" y="319.7"/><use href="#d8" x="613.8" y="319.7"/><use href="#d0" x="620.8" y="319.7"/><use href="#d1" x="532.6" y="397.7"/><use href="#d2" x="539.6" y="397.7"/><use href="#d0" x="546.6" y="397.7"/></g>
</g>
<use href="#frame"/>
<path d="M215.1 57.3L215.1 72.0M215.1 57.3L223.4 57.3M215.1 64.3L220.2 64.3M233.6 64.3L232.4 62.9L231.1 62.2L229.2 62.2L227.9 62.9L226.6 64.3L226.0 66.4L226.0 67.8L226.6 69.9L227.9 71.3L229.2 72.0L231.1 72.0L232.4 71.3L233.6 69.9M238.8 57.3L238.8 69.2L239.4 71.3L240.7 72.0L241.9 72.0M236.8 62.2L241.3 62.2M250.3 54.5L249.0 55.9L247.7 58.0L246.4 60.8L245.8 64.3L245.8 67.1L246.4 70.6L247.7 73.4L249.0 75.5L250.3 76.9M254.7 60.8L254.7 60.1L255.4 58.7L256.0 58.0L257.3 57.3L259.8 57.3L261.1 58.0L261.8 58.7L262.4 60.1L262.4 61.5L261.8 62.9L260.5 65.0L254.1 72.0L263.0 72.0M270.7 57.3L268.8 58.0L267.5 60.1L266.9 63.6L266.9 65.7L267.5 69.2L268.8 71.3L270.7 72.0L272.0 72.0L273.9 71.3L275.2 69.2L275.8 65.7L275.8 63.6L275.2 60.1L273.9 58.0L272.0 57.3L270.7 57.3M281.6 60.1L282.8 59.4L284.8 57.3L284.8 72.0M293.1 60.8L293.1 60.1L293.7 58.7L294.3 58.0L295.6 57.3L298.2 57.3L299.5 58.0L300.1 58.7L300.7 60.1L300.7 61.5L300.1 62.9L298.8 65.0L292.4 72.0L301.4 72.0M305.2 54.5L306.5 55.9L307.8 58.0L309.0 60.8L309.7 64.3L309.7 67.1L309.0 70.6L307.8 73.4L306.5 75.5L305.2 76.9M314.8 65.7L326.3 65.7M331.4 57.3L331.4 72.0M331.4 57.3L339.7 57.3M331.4 64.3L336.5 64.3M349.9 64.3L348.7 62.9L347.4 62.2L345.5 62.2L344.2 62.9L342.9 64.3L342.3 66.4L342.3 67.8L342.9 69.9L344.2 71.3L345.5 72.0L347.4 72.0L348.7 71.3L349.9 69.9M355.0 57.3L355.0 69.2L355.7 71.3L357.0 72.0L358.2 72.0M353.1 62.2L357.6 62.2M366.6 54.5L365.3 55.9L364.0 58.0L362.7 60.8L362.1 64.3L362.1 67.1L362.7 70.6L364.0 73.4L365.3 75.5L366.6 76.9M371.0 60.8L371.0 60.1L371.7 58.7L372.3 58.0L373.6 57.3L376.1 57.3L377.4 58.0L378.1 58.7L378.7 60.1L378.7 61.5L378.1 62.9L376.8 65.0L370.4 72.0L379.3 72.0M387.0 57.3L385.1 58.0L383.8 60.1L383.2 63.6L383.2 65.7L383.8 69.2L385.1 71.3L387.0 72.0L388.3 72.0L390.2 71.3L391.5 69.2L392.1 65.7L392.1 63.6L391.5 60.1L390.2 58.0L388.3 57.3L387.0 57.3M397.9 60.1L399.1 59.4L401.1 57.3L401.1 72.0M410.6 60.1L411.9 59.4L413.8 57.3L413.8 72.0M421.5 54.5L422.8 55.9L424.1 58.0L425.3 60.8L426.0 64.3L426.0 67.1L425.3 70.6L424.1 73.4L422.8 75.5L421.5 76.9M441.3 57.3L441.3 72.0M441.3 72.0L449.0 72.0M451.5 66.4L459.2 66.4L459.2 65.0L458.6 63.6L457.9 62.9L456.6 62.2L454.7 62.2L453.5 62.9L452.2 64.3L451.5 66.4L451.5 67.8L452.2 69.9L453.5 71.3L454.7 72.0L456.6 72.0L457.9 71.3L459.2 69.9M470.7 62.2L470.7 72.0M470.7 64.3L469.4 62.9L468.2 62.2L466.2 62.2L465.0 62.9L463.7 64.3L463.0 66.4L463.0 67.8L463.7 69.9L465.0 71.3L466.2 72.0L468.2 72.0L469.4 71.3L470.7 69.9M482.8 57.3L482.8 72.0M482.8 64.3L481.6 62.9L480.3 62.2L478.4 62.2L477.1 62.9L475.8 64.3L475.2 66.4L475.2 67.8L475.8 69.9L477.1 71.3L478.4 72.0L480.3 72.0L481.6 71.3L482.8 69.9M498.2 57.3L498.2 72.0M498.2 57.3L503.3 72.0M508.4 57.3L503.3 72.0M508.4 57.3L508.4 72.0M516.1 62.2L514.8 62.9L513.5 64.3L512.9 66.4L512.9 67.8L513.5 69.9L514.8 71.3L516.1 72.0L518.0 72.0L519.3 71.3L520.5 69.9L521.2 67.8L521.2 66.4L520.5 64.3L519.3 62.9L518.0 62.2L516.1 62.2M525.7 62.2L525.7 72.0M525.7 65.0L527.6 62.9L528.9 62.2L530.8 62.2L532.1 62.9L532.7 65.0L532.7 72.0M538.4 57.3L538.4 69.2L539.1 71.3L540.4 72.0L541.6 72.0M536.5 62.2L541.0 62.2M545.5 57.3L545.5 72.0M545.5 65.0L547.4 62.9L548.7 62.2L550.6 62.2L551.9 62.9L552.5 65.0L552.5 72.0M557.6 63.6L569.1 63.6M557.6 67.8L569.1 67.8M574.2 60.8L574.2 60.1L574.9 58.7L575.5 58.0L576.8 57.3L579.3 57.3L580.6 58.0L581.3 58.7L581.9 60.1L581.9 61.5L581.3 62.9L580.0 65.0L573.6 72.0L582.5 72.0" fill="none" stroke="#000" stroke-width="2" stroke-linecap="round" stroke-linejoin="round" shape-rendering="crispEdges"/>
</g>
</svg></body></html>
